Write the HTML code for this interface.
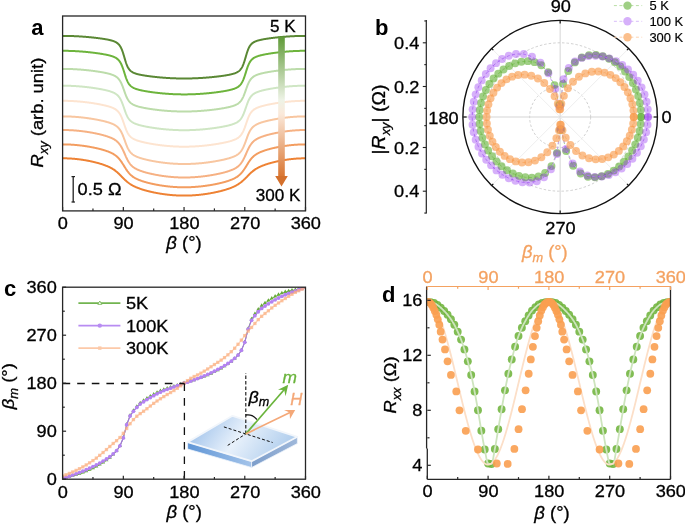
<!DOCTYPE html>
<html><head><meta charset="utf-8"><style>
html,body{margin:0;padding:0;background:#fff;overflow:hidden;}
svg{display:block;font-family:"Liberation Sans",sans-serif;will-change:transform;}
</style></head><body>
<svg width="685" height="524" viewBox="0 0 685 524">
<rect width="685" height="524" fill="#fff"/>
<g id="pa">
<defs><linearGradient id="garr" x1="0" y1="0" x2="0" y2="1"><stop offset="0" stop-color="#5f9a37"/><stop offset="0.45" stop-color="#eef3e6"/><stop offset="0.55" stop-color="#fbe9da"/><stop offset="1" stop-color="#d9742f"/></linearGradient></defs>
<polyline fill="none" stroke="#5a8834" stroke-width="2.0" stroke-linejoin="round"  points="62.6,35.9 62.94,35.9 63.27,35.9 63.61,35.9 63.95,35.9 64.29,35.91 64.62,35.91 64.96,35.91 65.3,35.91 65.64,35.92 65.97,35.92 66.31,35.92 66.65,35.93 66.99,35.93 67.32,35.94 67.66,35.95 68,35.95 68.34,35.96 68.67,35.97 69.01,35.97 69.35,35.98 69.68,35.99 70.02,36 70.36,36.01 70.7,36.02 71.03,36.03 71.37,36.04 71.71,36.05 72.05,36.06 72.38,36.07 72.72,36.08 73.06,36.1 73.4,36.11 73.73,36.12 74.07,36.14 74.41,36.15 74.75,36.16 75.08,36.18 75.42,36.2 75.76,36.21 76.09,36.23 76.43,36.24 76.77,36.26 77.11,36.28 77.44,36.29 77.78,36.31 78.12,36.33 78.46,36.35 78.79,36.37 79.13,36.39 79.47,36.41 79.81,36.43 80.14,36.45 80.48,36.47 80.82,36.49 81.15,36.51 81.49,36.54 81.83,36.56 82.17,36.58 82.5,36.61 82.84,36.63 83.18,36.65 83.52,36.68 83.85,36.7 84.19,36.73 84.53,36.76 84.87,36.78 85.2,36.81 85.54,36.84 85.88,36.86 86.22,36.89 86.55,36.92 86.89,36.95 87.23,36.98 87.56,37.01 87.9,37.04 88.24,37.07 88.58,37.1 88.91,37.13 89.25,37.16 89.59,37.19 89.93,37.22 90.26,37.25 90.6,37.29 90.94,37.32 91.28,37.35 91.61,37.39 91.95,37.42 92.29,37.46 92.63,37.49 92.96,37.53 93.3,37.56 93.64,37.6 93.97,37.64 94.31,37.68 94.65,37.71 94.99,37.75 95.32,37.79 95.66,37.83 96,37.87 96.34,37.91 96.67,37.95 97.01,37.99 97.35,38.03 97.69,38.07 98.02,38.12 98.36,38.16 98.7,38.2 99.03,38.25 99.37,38.29 99.71,38.34 100.05,38.38 100.38,38.43 100.72,38.47 101.06,38.52 101.4,38.57 101.73,38.62 102.07,38.67 102.41,38.72 102.75,38.77 103.08,38.82 103.42,38.87 103.76,38.92 104.1,38.98 104.43,39.03 104.77,39.09 105.11,39.15 105.44,39.2 105.78,39.26 106.12,39.32 106.46,39.38 106.79,39.44 107.13,39.51 107.47,39.57 107.81,39.64 108.14,39.71 108.48,39.78 108.82,39.85 109.16,39.92 109.49,40 109.83,40.08 110.17,40.16 110.51,40.24 110.84,40.33 111.18,40.42 111.52,40.51 111.85,40.61 112.19,40.71 112.53,40.81 112.87,40.92 113.2,41.03 113.54,41.15 113.88,41.28 114.22,41.41 114.55,41.55 114.89,41.7 115.23,41.86 115.57,42.03 115.9,42.21 116.24,42.4 116.58,42.61 116.92,42.83 117.25,43.07 117.59,43.33 117.93,43.61 118.26,43.92 118.6,44.26 118.94,44.62 119.28,45.02 119.61,45.46 119.95,45.94 120.29,46.47 120.63,47.05 120.96,47.69 121.3,48.38 121.64,49.13 121.98,49.95 122.31,50.84 122.65,51.78 122.99,52.78 123.33,53.84 123.66,54.93 124,56.06 124.34,57.2 124.67,58.38 125.01,59.54 125.35,60.67 125.69,61.75 126.02,62.78 126.36,63.75 126.7,64.65 127.04,65.48 127.37,66.24 127.71,66.94 128.05,67.57 128.39,68.15 128.72,68.67 129.06,69.15 129.4,69.58 129.73,69.98 130.07,70.34 130.41,70.67 130.75,70.97 131.08,71.25 131.42,71.5 131.76,71.74 132.1,71.95 132.43,72.16 132.77,72.34 133.11,72.52 133.45,72.69 133.78,72.84 134.12,72.99 134.46,73.12 134.8,73.25 135.13,73.38 135.47,73.49 135.81,73.61 136.14,73.71 136.48,73.82 136.82,73.91 137.16,74.01 137.49,74.1 137.83,74.19 138.17,74.27 138.51,74.36 138.84,74.44 139.18,74.51 139.52,74.59 139.86,74.66 140.19,74.73 140.53,74.8 140.87,74.87 141.21,74.94 141.54,75 141.88,75.06 142.22,75.13 142.55,75.19 142.89,75.25 143.23,75.31 143.57,75.36 143.9,75.42 144.24,75.48 144.58,75.53 144.92,75.58 145.25,75.64 145.59,75.69 145.93,75.74 146.27,75.79 146.6,75.84 146.94,75.89 147.28,75.94 147.62,75.99 147.95,76.04 148.29,76.08 148.63,76.13 148.96,76.17 149.3,76.22 149.64,76.26 149.98,76.31 150.31,76.35 150.65,76.4 150.99,76.44 151.33,76.48 151.66,76.52 152,76.56 152.34,76.6 152.68,76.64 153.01,76.68 153.35,76.72 153.69,76.76 154.02,76.8 154.36,76.84 154.7,76.87 155.04,76.91 155.37,76.95 155.71,76.98 156.05,77.02 156.39,77.05 156.72,77.09 157.06,77.12 157.4,77.16 157.74,77.19 158.07,77.22 158.41,77.25 158.75,77.29 159.09,77.32 159.42,77.35 159.76,77.38 160.1,77.41 160.43,77.44 160.77,77.47 161.11,77.5 161.45,77.53 161.78,77.56 162.12,77.59 162.46,77.61 162.8,77.64 163.13,77.67 163.47,77.69 163.81,77.72 164.15,77.75 164.48,77.77 164.82,77.79 165.16,77.82 165.5,77.84 165.83,77.87 166.17,77.89 166.51,77.91 166.84,77.93 167.18,77.96 167.52,77.98 167.86,78 168.19,78.02 168.53,78.04 168.87,78.06 169.21,78.08 169.54,78.1 169.88,78.12 170.22,78.13 170.56,78.15 170.89,78.17 171.23,78.18 171.57,78.2 171.91,78.22 172.24,78.23 172.58,78.25 172.92,78.26 173.25,78.28 173.59,78.29 173.93,78.3 174.27,78.32 174.6,78.33 174.94,78.34 175.28,78.35 175.62,78.36 175.95,78.37 176.29,78.38 176.63,78.39 176.97,78.4 177.3,78.41 177.64,78.42 177.98,78.43 178.31,78.44 178.65,78.44 178.99,78.45 179.33,78.46 179.66,78.46 180,78.47 180.34,78.47 180.68,78.48 181.01,78.48 181.35,78.49 181.69,78.49 182.03,78.49 182.36,78.49 182.7,78.5 183.04,78.5 183.38,78.5 183.71,78.5 184.05,78.5 184.39,78.5 184.72,78.5 185.06,78.5 185.4,78.5 185.74,78.49 186.07,78.49 186.41,78.49 186.75,78.49 187.09,78.48 187.42,78.48 187.76,78.48 188.1,78.47 188.44,78.47 188.77,78.46 189.11,78.45 189.45,78.45 189.79,78.44 190.12,78.43 190.46,78.43 190.8,78.42 191.13,78.41 191.47,78.4 191.81,78.39 192.15,78.38 192.48,78.37 192.82,78.36 193.16,78.35 193.5,78.34 193.83,78.33 194.17,78.31 194.51,78.3 194.85,78.29 195.18,78.28 195.52,78.26 195.86,78.25 196.19,78.23 196.53,78.22 196.87,78.2 197.21,78.19 197.54,78.17 197.88,78.16 198.22,78.14 198.56,78.12 198.89,78.1 199.23,78.09 199.57,78.07 199.91,78.05 200.24,78.03 200.58,78.01 200.92,77.99 201.26,77.97 201.59,77.95 201.93,77.93 202.27,77.9 202.6,77.88 202.94,77.86 203.28,77.84 203.62,77.81 203.95,77.79 204.29,77.77 204.63,77.74 204.97,77.72 205.3,77.69 205.64,77.67 205.98,77.64 206.32,77.61 206.65,77.59 206.99,77.56 207.33,77.53 207.67,77.5 208,77.48 208.34,77.45 208.68,77.42 209.01,77.39 209.35,77.36 209.69,77.33 210.03,77.3 210.36,77.27 210.7,77.24 211.04,77.2 211.38,77.17 211.71,77.14 212.05,77.11 212.39,77.07 212.73,77.04 213.06,77.01 213.4,76.97 213.74,76.94 214.08,76.9 214.41,76.86 214.75,76.83 215.09,76.79 215.42,76.75 215.76,76.72 216.1,76.68 216.44,76.64 216.77,76.6 217.11,76.56 217.45,76.52 217.79,76.48 218.12,76.44 218.46,76.4 218.8,76.36 219.14,76.32 219.47,76.27 219.81,76.23 220.15,76.19 220.48,76.14 220.82,76.1 221.16,76.05 221.5,76.01 221.83,75.96 222.17,75.91 222.51,75.87 222.85,75.82 223.18,75.77 223.52,75.72 223.86,75.67 224.2,75.62 224.53,75.57 224.87,75.51 225.21,75.46 225.55,75.41 225.88,75.35 226.22,75.3 226.56,75.24 226.89,75.18 227.23,75.12 227.57,75.06 227.91,75 228.24,74.94 228.58,74.87 228.92,74.81 229.26,74.74 229.59,74.67 229.93,74.6 230.27,74.53 230.61,74.45 230.94,74.38 231.28,74.3 231.62,74.22 231.96,74.13 232.29,74.04 232.63,73.95 232.97,73.86 233.3,73.76 233.64,73.66 233.98,73.56 234.32,73.44 234.65,73.33 234.99,73.21 235.33,73.08 235.67,72.94 236,72.8 236.34,72.65 236.68,72.48 237.02,72.31 237.35,72.13 237.69,71.93 238.03,71.72 238.37,71.49 238.7,71.24 239.04,70.97 239.38,70.68 239.71,70.36 240.05,70.01 240.39,69.63 240.73,69.22 241.06,68.76 241.4,68.27 241.74,67.72 242.08,67.12 242.41,66.46 242.75,65.74 243.09,64.96 243.43,64.11 243.76,63.21 244.1,62.23 244.44,61.21 244.78,60.13 245.11,59.02 245.45,57.89 245.79,56.73 246.12,55.56 246.46,54.41 246.8,53.3 247.14,52.24 247.47,51.23 247.81,50.3 248.15,49.43 248.49,48.62 248.82,47.89 249.16,47.22 249.5,46.61 249.84,46.05 250.17,45.54 250.51,45.08 250.85,44.67 251.18,44.29 251.52,43.94 251.86,43.62 252.2,43.33 252.53,43.06 252.87,42.81 253.21,42.59 253.55,42.37 253.88,42.18 254.22,41.99 254.56,41.82 254.9,41.66 255.23,41.51 255.57,41.37 255.91,41.23 256.25,41.11 256.58,40.98 256.92,40.87 257.26,40.76 257.59,40.65 257.93,40.55 258.27,40.46 258.61,40.36 258.94,40.27 259.28,40.19 259.62,40.1 259.96,40.02 260.29,39.94 260.63,39.86 260.97,39.79 261.31,39.72 261.64,39.65 261.98,39.58 262.32,39.51 262.66,39.45 262.99,39.38 263.33,39.32 263.67,39.26 264,39.2 264.34,39.14 264.68,39.08 265.02,39.02 265.35,38.96 265.69,38.91 266.03,38.86 266.37,38.8 266.7,38.75 267.04,38.7 267.38,38.65 267.72,38.59 268.05,38.55 268.39,38.5 268.73,38.45 269.07,38.4 269.4,38.35 269.74,38.31 270.08,38.26 270.41,38.21 270.75,38.17 271.09,38.13 271.43,38.08 271.76,38.04 272.1,38 272.44,37.95 272.78,37.91 273.11,37.87 273.45,37.83 273.79,37.79 274.13,37.75 274.46,37.71 274.8,37.67 275.14,37.63 275.47,37.59 275.81,37.56 276.15,37.52 276.49,37.48 276.82,37.45 277.16,37.41 277.5,37.38 277.84,37.34 278.17,37.31 278.51,37.27 278.85,37.24 279.19,37.2 279.52,37.17 279.86,37.14 280.2,37.11 280.54,37.08 280.87,37.04 281.21,37.01 281.55,36.98 281.88,36.95 282.22,36.92 282.56,36.9 282.9,36.87 283.23,36.84 283.57,36.81 283.91,36.78 284.25,36.76 284.58,36.73 284.92,36.7 285.26,36.68 285.6,36.65 285.93,36.63 286.27,36.6 286.61,36.58 286.95,36.55 287.28,36.53 287.62,36.51 287.96,36.49 288.29,36.46 288.63,36.44 288.97,36.42 289.31,36.4 289.64,36.38 289.98,36.36 290.32,36.34 290.66,36.32 290.99,36.3 291.33,36.28 291.67,36.27 292.01,36.25 292.34,36.23 292.68,36.21 293.02,36.2 293.36,36.18 293.69,36.17 294.03,36.15 294.37,36.14 294.7,36.12 295.04,36.11 295.38,36.1 295.72,36.08 296.05,36.07 296.39,36.06 296.73,36.05 297.07,36.04 297.4,36.03 297.74,36.02 298.08,36.01 298.42,36 298.75,35.99 299.09,35.98 299.43,35.97 299.76,35.96 300.1,35.96 300.44,35.95 300.78,35.94 301.11,35.94 301.45,35.93 301.79,35.93 302.13,35.92 302.46,35.92 302.8,35.91 303.14,35.91 303.48,35.91 303.81,35.91 304.15,35.9 304.49,35.9 304.83,35.9 305.16,35.9 305.5,35.9"/>
<polyline fill="none" stroke="#6db43c" stroke-width="2.0" stroke-linejoin="round"  points="62.6,50.8 62.94,50.8 63.27,50.8 63.61,50.8 63.95,50.8 64.29,50.81 64.62,50.81 64.96,50.81 65.3,50.82 65.64,50.82 65.97,50.82 66.31,50.83 66.65,50.83 66.99,50.84 67.32,50.85 67.66,50.85 68,50.86 68.34,50.87 68.67,50.88 69.01,50.88 69.35,50.89 69.68,50.9 70.02,50.91 70.36,50.92 70.7,50.94 71.03,50.95 71.37,50.96 71.71,50.97 72.05,50.98 72.38,51 72.72,51.01 73.06,51.03 73.4,51.04 73.73,51.06 74.07,51.07 74.41,51.09 74.75,51.1 75.08,51.12 75.42,51.14 75.76,51.16 76.09,51.17 76.43,51.19 76.77,51.21 77.11,51.23 77.44,51.25 77.78,51.27 78.12,51.29 78.46,51.32 78.79,51.34 79.13,51.36 79.47,51.38 79.81,51.41 80.14,51.43 80.48,51.45 80.82,51.48 81.15,51.5 81.49,51.53 81.83,51.56 82.17,51.58 82.5,51.61 82.84,51.64 83.18,51.66 83.52,51.69 83.85,51.72 84.19,51.75 84.53,51.78 84.87,51.81 85.2,51.84 85.54,51.87 85.88,51.9 86.22,51.93 86.55,51.97 86.89,52 87.23,52.03 87.56,52.07 87.9,52.1 88.24,52.13 88.58,52.17 88.91,52.2 89.25,52.24 89.59,52.28 89.93,52.31 90.26,52.35 90.6,52.39 90.94,52.43 91.28,52.46 91.61,52.5 91.95,52.54 92.29,52.58 92.63,52.62 92.96,52.66 93.3,52.7 93.64,52.75 93.97,52.79 94.31,52.83 94.65,52.87 94.99,52.92 95.32,52.96 95.66,53.01 96,53.05 96.34,53.1 96.67,53.14 97.01,53.19 97.35,53.24 97.69,53.29 98.02,53.33 98.36,53.38 98.7,53.43 99.03,53.48 99.37,53.53 99.71,53.58 100.05,53.64 100.38,53.69 100.72,53.74 101.06,53.8 101.4,53.85 101.73,53.91 102.07,53.96 102.41,54.02 102.75,54.08 103.08,54.13 103.42,54.19 103.76,54.25 104.1,54.32 104.43,54.38 104.77,54.44 105.11,54.51 105.44,54.57 105.78,54.64 106.12,54.71 106.46,54.77 106.79,54.84 107.13,54.92 107.47,54.99 107.81,55.07 108.14,55.14 108.48,55.22 108.82,55.3 109.16,55.39 109.49,55.47 109.83,55.56 110.17,55.65 110.51,55.74 110.84,55.84 111.18,55.94 111.52,56.04 111.85,56.15 112.19,56.26 112.53,56.38 112.87,56.5 113.2,56.62 113.54,56.76 113.88,56.9 114.22,57.04 114.55,57.2 114.89,57.36 115.23,57.53 115.57,57.72 115.9,57.91 116.24,58.12 116.58,58.34 116.92,58.58 117.25,58.84 117.59,59.12 117.93,59.41 118.26,59.74 118.6,60.09 118.94,60.47 119.28,60.88 119.61,61.33 119.95,61.82 120.29,62.36 120.63,62.94 120.96,63.57 121.3,64.25 121.64,64.99 121.98,65.78 122.31,66.63 122.65,67.53 122.99,68.47 123.33,69.47 123.66,70.49 124,71.54 124.34,72.6 124.67,73.7 125.01,74.78 125.35,75.84 125.69,76.86 126.02,77.83 126.36,78.75 126.7,79.61 127.04,80.42 127.37,81.17 127.71,81.85 128.05,82.49 128.39,83.07 128.72,83.6 129.06,84.09 129.4,84.53 129.73,84.94 130.07,85.32 130.41,85.66 130.75,85.98 131.08,86.27 131.42,86.55 131.76,86.8 132.1,87.03 132.43,87.25 132.77,87.46 133.11,87.65 133.45,87.83 133.78,88 134.12,88.16 134.46,88.31 134.8,88.45 135.13,88.59 135.47,88.72 135.81,88.84 136.14,88.96 136.48,89.08 136.82,89.18 137.16,89.29 137.49,89.39 137.83,89.49 138.17,89.59 138.51,89.68 138.84,89.77 139.18,89.86 139.52,89.94 139.86,90.02 140.19,90.1 140.53,90.18 140.87,90.26 141.21,90.33 141.54,90.41 141.88,90.48 142.22,90.55 142.55,90.62 142.89,90.69 143.23,90.75 143.57,90.82 143.9,90.88 144.24,90.95 144.58,91.01 144.92,91.07 145.25,91.13 145.59,91.19 145.93,91.25 146.27,91.31 146.6,91.36 146.94,91.42 147.28,91.47 147.62,91.53 147.95,91.58 148.29,91.64 148.63,91.69 148.96,91.74 149.3,91.79 149.64,91.84 149.98,91.89 150.31,91.94 150.65,91.99 150.99,92.04 151.33,92.09 151.66,92.14 152,92.18 152.34,92.23 152.68,92.28 153.01,92.32 153.35,92.37 153.69,92.41 154.02,92.45 154.36,92.5 154.7,92.54 155.04,92.58 155.37,92.62 155.71,92.66 156.05,92.7 156.39,92.74 156.72,92.78 157.06,92.82 157.4,92.86 157.74,92.9 158.07,92.94 158.41,92.98 158.75,93.01 159.09,93.05 159.42,93.08 159.76,93.12 160.1,93.15 160.43,93.19 160.77,93.22 161.11,93.26 161.45,93.29 161.78,93.32 162.12,93.35 162.46,93.39 162.8,93.42 163.13,93.45 163.47,93.48 163.81,93.51 164.15,93.54 164.48,93.56 164.82,93.59 165.16,93.62 165.5,93.65 165.83,93.67 166.17,93.7 166.51,93.73 166.84,93.75 167.18,93.78 167.52,93.8 167.86,93.83 168.19,93.85 168.53,93.87 168.87,93.89 169.21,93.92 169.54,93.94 169.88,93.96 170.22,93.98 170.56,94 170.89,94.02 171.23,94.04 171.57,94.06 171.91,94.08 172.24,94.09 172.58,94.11 172.92,94.13 173.25,94.14 173.59,94.16 173.93,94.17 174.27,94.19 174.6,94.2 174.94,94.22 175.28,94.23 175.62,94.24 175.95,94.26 176.29,94.27 176.63,94.28 176.97,94.29 177.3,94.3 177.64,94.31 177.98,94.32 178.31,94.33 178.65,94.34 178.99,94.34 179.33,94.35 179.66,94.36 180,94.36 180.34,94.37 180.68,94.37 181.01,94.38 181.35,94.38 181.69,94.39 182.03,94.39 182.36,94.39 182.7,94.4 183.04,94.4 183.38,94.4 183.71,94.4 184.05,94.4 184.39,94.4 184.72,94.4 185.06,94.4 185.4,94.4 185.74,94.39 186.07,94.39 186.41,94.39 186.75,94.38 187.09,94.38 187.42,94.38 187.76,94.37 188.1,94.37 188.44,94.36 188.77,94.35 189.11,94.35 189.45,94.34 189.79,94.33 190.12,94.32 190.46,94.32 190.8,94.31 191.13,94.3 191.47,94.29 191.81,94.28 192.15,94.26 192.48,94.25 192.82,94.24 193.16,94.23 193.5,94.22 193.83,94.2 194.17,94.19 194.51,94.17 194.85,94.16 195.18,94.14 195.52,94.13 195.86,94.11 196.19,94.1 196.53,94.08 196.87,94.06 197.21,94.04 197.54,94.03 197.88,94.01 198.22,93.99 198.56,93.97 198.89,93.95 199.23,93.93 199.57,93.91 199.91,93.88 200.24,93.86 200.58,93.84 200.92,93.82 201.26,93.79 201.59,93.77 201.93,93.75 202.27,93.72 202.6,93.7 202.94,93.67 203.28,93.64 203.62,93.62 203.95,93.59 204.29,93.56 204.63,93.54 204.97,93.51 205.3,93.48 205.64,93.45 205.98,93.42 206.32,93.39 206.65,93.36 206.99,93.33 207.33,93.3 207.67,93.27 208,93.23 208.34,93.2 208.68,93.17 209.01,93.13 209.35,93.1 209.69,93.07 210.03,93.03 210.36,93 210.7,92.96 211.04,92.92 211.38,92.89 211.71,92.85 212.05,92.81 212.39,92.77 212.73,92.74 213.06,92.7 213.4,92.66 213.74,92.62 214.08,92.58 214.41,92.54 214.75,92.5 215.09,92.45 215.42,92.41 215.76,92.37 216.1,92.33 216.44,92.28 216.77,92.24 217.11,92.19 217.45,92.15 217.79,92.1 218.12,92.06 218.46,92.01 218.8,91.96 219.14,91.91 219.47,91.87 219.81,91.82 220.15,91.77 220.48,91.72 220.82,91.67 221.16,91.62 221.5,91.56 221.83,91.51 222.17,91.46 222.51,91.4 222.85,91.35 223.18,91.29 223.52,91.24 223.86,91.18 224.2,91.12 224.53,91.07 224.87,91.01 225.21,90.95 225.55,90.88 225.88,90.82 226.22,90.76 226.56,90.69 226.89,90.63 227.23,90.56 227.57,90.49 227.91,90.43 228.24,90.36 228.58,90.28 228.92,90.21 229.26,90.13 229.59,90.06 229.93,89.98 230.27,89.9 230.61,89.81 230.94,89.73 231.28,89.64 231.62,89.55 231.96,89.46 232.29,89.36 232.63,89.26 232.97,89.16 233.3,89.05 233.64,88.94 233.98,88.82 234.32,88.7 234.65,88.58 234.99,88.44 235.33,88.3 235.67,88.16 236,88 236.34,87.84 236.68,87.67 237.02,87.48 237.35,87.29 237.69,87.08 238.03,86.86 238.37,86.62 238.7,86.36 239.04,86.08 239.38,85.79 239.71,85.46 240.05,85.11 240.39,84.73 240.73,84.32 241.06,83.87 241.4,83.38 241.74,82.84 242.08,82.26 242.41,81.63 242.75,80.95 243.09,80.21 243.43,79.42 243.76,78.57 244.1,77.67 244.44,76.73 244.78,75.73 245.11,74.71 245.45,73.66 245.79,72.6 246.12,71.5 246.46,70.42 246.8,69.36 247.14,68.34 247.47,67.37 247.81,66.45 248.15,65.59 248.49,64.78 248.82,64.03 249.16,63.35 249.5,62.71 249.84,62.13 250.17,61.6 250.51,61.11 250.85,60.67 251.18,60.26 251.52,59.88 251.86,59.54 252.2,59.22 252.53,58.93 252.87,58.65 253.21,58.4 253.55,58.17 253.88,57.95 254.22,57.74 254.56,57.55 254.9,57.37 255.23,57.2 255.57,57.04 255.91,56.89 256.25,56.75 256.58,56.61 256.92,56.48 257.26,56.36 257.59,56.24 257.93,56.12 258.27,56.02 258.61,55.91 258.94,55.81 259.28,55.71 259.62,55.61 259.96,55.52 260.29,55.43 260.63,55.34 260.97,55.26 261.31,55.18 261.64,55.1 261.98,55.02 262.32,54.94 262.66,54.87 262.99,54.79 263.33,54.72 263.67,54.65 264,54.58 264.34,54.51 264.68,54.45 265.02,54.38 265.35,54.32 265.69,54.25 266.03,54.19 266.37,54.13 266.7,54.07 267.04,54.01 267.38,53.95 267.72,53.89 268.05,53.84 268.39,53.78 268.73,53.73 269.07,53.67 269.4,53.62 269.74,53.56 270.08,53.51 270.41,53.46 270.75,53.41 271.09,53.36 271.43,53.31 271.76,53.26 272.1,53.21 272.44,53.16 272.78,53.11 273.11,53.06 273.45,53.02 273.79,52.97 274.13,52.92 274.46,52.88 274.8,52.83 275.14,52.79 275.47,52.75 275.81,52.7 276.15,52.66 276.49,52.62 276.82,52.58 277.16,52.54 277.5,52.5 277.84,52.46 278.17,52.42 278.51,52.38 278.85,52.34 279.19,52.3 279.52,52.26 279.86,52.22 280.2,52.19 280.54,52.15 280.87,52.12 281.21,52.08 281.55,52.05 281.88,52.01 282.22,51.98 282.56,51.94 282.9,51.91 283.23,51.88 283.57,51.85 283.91,51.81 284.25,51.78 284.58,51.75 284.92,51.72 285.26,51.69 285.6,51.66 285.93,51.64 286.27,51.61 286.61,51.58 286.95,51.55 287.28,51.53 287.62,51.5 287.96,51.47 288.29,51.45 288.63,51.42 288.97,51.4 289.31,51.37 289.64,51.35 289.98,51.33 290.32,51.31 290.66,51.28 290.99,51.26 291.33,51.24 291.67,51.22 292.01,51.2 292.34,51.18 292.68,51.16 293.02,51.14 293.36,51.12 293.69,51.11 294.03,51.09 294.37,51.07 294.7,51.06 295.04,51.04 295.38,51.03 295.72,51.01 296.05,51 296.39,50.98 296.73,50.97 297.07,50.96 297.4,50.94 297.74,50.93 298.08,50.92 298.42,50.91 298.75,50.9 299.09,50.89 299.43,50.88 299.76,50.87 300.1,50.86 300.44,50.86 300.78,50.85 301.11,50.84 301.45,50.84 301.79,50.83 302.13,50.83 302.46,50.82 302.8,50.82 303.14,50.81 303.48,50.81 303.81,50.81 304.15,50.8 304.49,50.8 304.83,50.8 305.16,50.8 305.5,50.8"/>
<polyline fill="none" stroke="#bcdcaa" stroke-width="2.0" stroke-linejoin="round"  points="62.6,68.9 62.94,68.9 63.27,68.9 63.61,68.9 63.95,68.9 64.29,68.91 64.62,68.91 64.96,68.91 65.3,68.92 65.64,68.92 65.97,68.92 66.31,68.93 66.65,68.94 66.99,68.94 67.32,68.95 67.66,68.96 68,68.96 68.34,68.97 68.67,68.98 69.01,68.99 69.35,69 69.68,69.01 70.02,69.02 70.36,69.03 70.7,69.04 71.03,69.06 71.37,69.07 71.71,69.08 72.05,69.09 72.38,69.11 72.72,69.12 73.06,69.14 73.4,69.15 73.73,69.17 74.07,69.19 74.41,69.2 74.75,69.22 75.08,69.24 75.42,69.26 75.76,69.28 76.09,69.3 76.43,69.32 76.77,69.34 77.11,69.36 77.44,69.38 77.78,69.4 78.12,69.42 78.46,69.45 78.79,69.47 79.13,69.49 79.47,69.52 79.81,69.54 80.14,69.57 80.48,69.59 80.82,69.62 81.15,69.65 81.49,69.67 81.83,69.7 82.17,69.73 82.5,69.76 82.84,69.79 83.18,69.82 83.52,69.85 83.85,69.88 84.19,69.91 84.53,69.94 84.87,69.97 85.2,70 85.54,70.04 85.88,70.07 86.22,70.1 86.55,70.14 86.89,70.17 87.23,70.21 87.56,70.24 87.9,70.28 88.24,70.32 88.58,70.35 88.91,70.39 89.25,70.43 89.59,70.47 89.93,70.51 90.26,70.54 90.6,70.58 90.94,70.63 91.28,70.67 91.61,70.71 91.95,70.75 92.29,70.79 92.63,70.83 92.96,70.88 93.3,70.92 93.64,70.97 93.97,71.01 94.31,71.06 94.65,71.1 94.99,71.15 95.32,71.2 95.66,71.24 96,71.29 96.34,71.34 96.67,71.39 97.01,71.44 97.35,71.49 97.69,71.54 98.02,71.59 98.36,71.64 98.7,71.7 99.03,71.75 99.37,71.8 99.71,71.86 100.05,71.91 100.38,71.97 100.72,72.03 101.06,72.08 101.4,72.14 101.73,72.2 102.07,72.26 102.41,72.32 102.75,72.38 103.08,72.45 103.42,72.51 103.76,72.57 104.1,72.64 104.43,72.71 104.77,72.77 105.11,72.84 105.44,72.91 105.78,72.99 106.12,73.06 106.46,73.13 106.79,73.21 107.13,73.29 107.47,73.37 107.81,73.45 108.14,73.53 108.48,73.62 108.82,73.7 109.16,73.79 109.49,73.89 109.83,73.98 110.17,74.08 110.51,74.18 110.84,74.29 111.18,74.39 111.52,74.51 111.85,74.62 112.19,74.75 112.53,74.87 112.87,75 113.2,75.14 113.54,75.29 113.88,75.44 114.22,75.6 114.55,75.77 114.89,75.95 115.23,76.14 115.57,76.34 115.9,76.56 116.24,76.78 116.58,77.03 116.92,77.29 117.25,77.57 117.59,77.87 117.93,78.2 118.26,78.55 118.6,78.92 118.94,79.33 119.28,79.77 119.61,80.25 119.95,80.77 120.29,81.32 120.63,81.93 120.96,82.57 121.3,83.26 121.64,84 121.98,84.78 122.31,85.61 122.65,86.48 122.99,87.37 123.33,88.3 123.66,89.25 124,90.2 124.34,91.18 124.67,92.14 125.01,93.09 125.35,94 125.69,94.88 126.02,95.72 126.36,96.52 126.7,97.27 127.04,97.96 127.37,98.61 127.71,99.22 128.05,99.78 128.39,100.29 128.72,100.77 129.06,101.21 129.4,101.62 129.73,101.99 130.07,102.34 130.41,102.66 130.75,102.96 131.08,103.24 131.42,103.5 131.76,103.74 132.1,103.96 132.43,104.17 132.77,104.37 133.11,104.56 133.45,104.74 133.78,104.9 134.12,105.06 134.46,105.21 134.8,105.36 135.13,105.49 135.47,105.63 135.81,105.75 136.14,105.87 136.48,105.99 136.82,106.1 137.16,106.21 137.49,106.31 137.83,106.41 138.17,106.51 138.51,106.6 138.84,106.7 139.18,106.79 139.52,106.87 139.86,106.96 140.19,107.04 140.53,107.12 140.87,107.2 141.21,107.28 141.54,107.35 141.88,107.43 142.22,107.5 142.55,107.57 142.89,107.64 143.23,107.71 143.57,107.78 143.9,107.85 144.24,107.91 144.58,107.98 144.92,108.04 145.25,108.1 145.59,108.17 145.93,108.23 146.27,108.29 146.6,108.35 146.94,108.4 147.28,108.46 147.62,108.52 147.95,108.57 148.29,108.63 148.63,108.69 148.96,108.74 149.3,108.79 149.64,108.85 149.98,108.9 150.31,108.95 150.65,109 150.99,109.05 151.33,109.1 151.66,109.15 152,109.2 152.34,109.25 152.68,109.29 153.01,109.34 153.35,109.39 153.69,109.43 154.02,109.48 154.36,109.52 154.7,109.57 155.04,109.61 155.37,109.65 155.71,109.7 156.05,109.74 156.39,109.78 156.72,109.82 157.06,109.86 157.4,109.9 157.74,109.94 158.07,109.98 158.41,110.02 158.75,110.06 159.09,110.1 159.42,110.13 159.76,110.17 160.1,110.21 160.43,110.24 160.77,110.28 161.11,110.31 161.45,110.35 161.78,110.38 162.12,110.41 162.46,110.45 162.8,110.48 163.13,110.51 163.47,110.54 163.81,110.57 164.15,110.6 164.48,110.63 164.82,110.66 165.16,110.69 165.5,110.72 165.83,110.75 166.17,110.78 166.51,110.8 166.84,110.83 167.18,110.85 167.52,110.88 167.86,110.9 168.19,110.93 168.53,110.95 168.87,110.98 169.21,111 169.54,111.02 169.88,111.04 170.22,111.06 170.56,111.09 170.89,111.11 171.23,111.13 171.57,111.14 171.91,111.16 172.24,111.18 172.58,111.2 172.92,111.22 173.25,111.23 173.59,111.25 173.93,111.27 174.27,111.28 174.6,111.3 174.94,111.31 175.28,111.32 175.62,111.34 175.95,111.35 176.29,111.36 176.63,111.37 176.97,111.39 177.3,111.4 177.64,111.41 177.98,111.42 178.31,111.42 178.65,111.43 178.99,111.44 179.33,111.45 179.66,111.46 180,111.46 180.34,111.47 180.68,111.47 181.01,111.48 181.35,111.48 181.69,111.49 182.03,111.49 182.36,111.49 182.7,111.5 183.04,111.5 183.38,111.5 183.71,111.5 184.05,111.5 184.39,111.5 184.72,111.5 185.06,111.5 185.4,111.5 185.74,111.49 186.07,111.49 186.41,111.49 186.75,111.48 187.09,111.48 187.42,111.48 187.76,111.47 188.1,111.46 188.44,111.46 188.77,111.45 189.11,111.44 189.45,111.44 189.79,111.43 190.12,111.42 190.46,111.41 190.8,111.4 191.13,111.39 191.47,111.38 191.81,111.37 192.15,111.36 192.48,111.35 192.82,111.33 193.16,111.32 193.5,111.31 193.83,111.29 194.17,111.28 194.51,111.26 194.85,111.25 195.18,111.23 195.52,111.22 195.86,111.2 196.19,111.18 196.53,111.16 196.87,111.15 197.21,111.13 197.54,111.11 197.88,111.09 198.22,111.07 198.56,111.05 198.89,111.03 199.23,111 199.57,110.98 199.91,110.96 200.24,110.94 200.58,110.91 200.92,110.89 201.26,110.86 201.59,110.84 201.93,110.81 202.27,110.79 202.6,110.76 202.94,110.73 203.28,110.71 203.62,110.68 203.95,110.65 204.29,110.62 204.63,110.59 204.97,110.56 205.3,110.53 205.64,110.5 205.98,110.47 206.32,110.44 206.65,110.41 206.99,110.38 207.33,110.34 207.67,110.31 208,110.28 208.34,110.24 208.68,110.21 209.01,110.17 209.35,110.14 209.69,110.1 210.03,110.06 210.36,110.03 210.7,109.99 211.04,109.95 211.38,109.91 211.71,109.87 212.05,109.83 212.39,109.79 212.73,109.75 213.06,109.71 213.4,109.67 213.74,109.63 214.08,109.59 214.41,109.54 214.75,109.5 215.09,109.46 215.42,109.41 215.76,109.37 216.1,109.32 216.44,109.28 216.77,109.23 217.11,109.18 217.45,109.14 217.79,109.09 218.12,109.04 218.46,108.99 218.8,108.94 219.14,108.89 219.47,108.84 219.81,108.79 220.15,108.74 220.48,108.68 220.82,108.63 221.16,108.57 221.5,108.52 221.83,108.46 222.17,108.41 222.51,108.35 222.85,108.29 223.18,108.24 223.52,108.18 223.86,108.12 224.2,108.06 224.53,107.99 224.87,107.93 225.21,107.87 225.55,107.8 225.88,107.74 226.22,107.67 226.56,107.6 226.89,107.53 227.23,107.46 227.57,107.39 227.91,107.32 228.24,107.25 228.58,107.17 228.92,107.09 229.26,107.01 229.59,106.93 229.93,106.85 230.27,106.76 230.61,106.67 230.94,106.58 231.28,106.49 231.62,106.4 231.96,106.3 232.29,106.2 232.63,106.09 232.97,105.98 233.3,105.87 233.64,105.75 233.98,105.63 234.32,105.5 234.65,105.37 234.99,105.23 235.33,105.09 235.67,104.93 236,104.77 236.34,104.6 236.68,104.42 237.02,104.23 237.35,104.03 237.69,103.82 238.03,103.59 238.37,103.34 238.7,103.08 239.04,102.8 239.38,102.5 239.71,102.17 240.05,101.82 240.39,101.44 240.73,101.03 241.06,100.59 241.4,100.11 241.74,99.6 242.08,99.04 242.41,98.44 242.75,97.8 243.09,97.11 243.43,96.37 243.76,95.59 244.1,94.77 244.44,93.9 244.78,93.01 245.11,92.09 245.45,91.15 245.79,90.2 246.12,89.22 246.46,88.25 246.8,87.3 247.14,86.38 247.47,85.49 247.81,84.65 248.15,83.85 248.49,83.1 248.82,82.4 249.16,81.75 249.5,81.15 249.84,80.59 250.17,80.07 250.51,79.59 250.85,79.16 251.18,78.75 251.52,78.37 251.86,78.03 252.2,77.71 252.53,77.41 252.87,77.13 253.21,76.87 253.55,76.63 253.88,76.41 254.22,76.2 254.56,76 254.9,75.81 255.23,75.64 255.57,75.47 255.91,75.31 256.25,75.16 256.58,75.02 256.92,74.88 257.26,74.75 257.59,74.63 257.93,74.5 258.27,74.39 258.61,74.28 258.94,74.17 259.28,74.07 259.62,73.97 259.96,73.87 260.29,73.77 260.63,73.68 260.97,73.59 261.31,73.51 261.64,73.42 261.98,73.34 262.32,73.26 262.66,73.18 262.99,73.1 263.33,73.02 263.67,72.95 264,72.88 264.34,72.81 264.68,72.74 265.02,72.67 265.35,72.6 265.69,72.53 266.03,72.47 266.37,72.4 266.7,72.34 267.04,72.27 267.38,72.21 267.72,72.15 268.05,72.09 268.39,72.03 268.73,71.97 269.07,71.92 269.4,71.86 269.74,71.8 270.08,71.75 270.41,71.69 270.75,71.64 271.09,71.58 271.43,71.53 271.76,71.48 272.1,71.43 272.44,71.38 272.78,71.33 273.11,71.28 273.45,71.23 273.79,71.18 274.13,71.13 274.46,71.08 274.8,71.04 275.14,70.99 275.47,70.94 275.81,70.9 276.15,70.85 276.49,70.81 276.82,70.77 277.16,70.72 277.5,70.68 277.84,70.64 278.17,70.6 278.51,70.56 278.85,70.51 279.19,70.47 279.52,70.43 279.86,70.4 280.2,70.36 280.54,70.32 280.87,70.28 281.21,70.24 281.55,70.21 281.88,70.17 282.22,70.14 282.56,70.1 282.9,70.07 283.23,70.03 283.57,70 283.91,69.96 284.25,69.93 284.58,69.9 284.92,69.87 285.26,69.84 285.6,69.81 285.93,69.78 286.27,69.75 286.61,69.72 286.95,69.69 287.28,69.66 287.62,69.63 287.96,69.61 288.29,69.58 288.63,69.55 288.97,69.53 289.31,69.5 289.64,69.48 289.98,69.45 290.32,69.43 290.66,69.41 290.99,69.38 291.33,69.36 291.67,69.34 292.01,69.32 292.34,69.3 292.68,69.28 293.02,69.26 293.36,69.24 293.69,69.22 294.03,69.2 294.37,69.19 294.7,69.17 295.04,69.15 295.38,69.14 295.72,69.12 296.05,69.11 296.39,69.09 296.73,69.08 297.07,69.06 297.4,69.05 297.74,69.04 298.08,69.03 298.42,69.02 298.75,69.01 299.09,69 299.43,68.99 299.76,68.98 300.1,68.97 300.44,68.96 300.78,68.95 301.11,68.94 301.45,68.94 301.79,68.93 302.13,68.93 302.46,68.92 302.8,68.92 303.14,68.91 303.48,68.91 303.81,68.91 304.15,68.9 304.49,68.9 304.83,68.9 305.16,68.9 305.5,68.9"/>
<polyline fill="none" stroke="#cfe6c4" stroke-width="2.0" stroke-linejoin="round"  points="62.6,85.7 62.94,85.7 63.27,85.7 63.61,85.7 63.95,85.7 64.29,85.71 64.62,85.71 64.96,85.71 65.3,85.72 65.64,85.72 65.97,85.73 66.31,85.73 66.65,85.74 66.99,85.75 67.32,85.75 67.66,85.76 68,85.77 68.34,85.78 68.67,85.79 69.01,85.8 69.35,85.81 69.68,85.82 70.02,85.83 70.36,85.85 70.7,85.86 71.03,85.87 71.37,85.89 71.71,85.9 72.05,85.92 72.38,85.93 72.72,85.95 73.06,85.96 73.4,85.98 73.73,86 74.07,86.02 74.41,86.04 74.75,86.06 75.08,86.08 75.42,86.1 75.76,86.12 76.09,86.14 76.43,86.16 76.77,86.18 77.11,86.21 77.44,86.23 77.78,86.26 78.12,86.28 78.46,86.31 78.79,86.33 79.13,86.36 79.47,86.39 79.81,86.41 80.14,86.44 80.48,86.47 80.82,86.5 81.15,86.53 81.49,86.56 81.83,86.59 82.17,86.62 82.5,86.65 82.84,86.68 83.18,86.72 83.52,86.75 83.85,86.78 84.19,86.82 84.53,86.85 84.87,86.89 85.2,86.92 85.54,86.96 85.88,87 86.22,87.03 86.55,87.07 86.89,87.11 87.23,87.15 87.56,87.19 87.9,87.23 88.24,87.27 88.58,87.31 88.91,87.35 89.25,87.39 89.59,87.44 89.93,87.48 90.26,87.52 90.6,87.57 90.94,87.61 91.28,87.66 91.61,87.7 91.95,87.75 92.29,87.79 92.63,87.84 92.96,87.89 93.3,87.94 93.64,87.99 93.97,88.04 94.31,88.09 94.65,88.14 94.99,88.19 95.32,88.24 95.66,88.29 96,88.34 96.34,88.4 96.67,88.45 97.01,88.51 97.35,88.56 97.69,88.62 98.02,88.67 98.36,88.73 98.7,88.79 99.03,88.85 99.37,88.91 99.71,88.97 100.05,89.03 100.38,89.09 100.72,89.15 101.06,89.21 101.4,89.28 101.73,89.34 102.07,89.41 102.41,89.47 102.75,89.54 103.08,89.61 103.42,89.68 103.76,89.75 104.1,89.82 104.43,89.89 104.77,89.97 105.11,90.04 105.44,90.12 105.78,90.2 106.12,90.28 106.46,90.36 106.79,90.44 107.13,90.52 107.47,90.61 107.81,90.69 108.14,90.78 108.48,90.88 108.82,90.97 109.16,91.07 109.49,91.16 109.83,91.27 110.17,91.37 110.51,91.48 110.84,91.59 111.18,91.71 111.52,91.83 111.85,91.95 112.19,92.08 112.53,92.21 112.87,92.35 113.2,92.5 113.54,92.65 113.88,92.81 114.22,92.98 114.55,93.16 114.89,93.34 115.23,93.54 115.57,93.75 115.9,93.97 116.24,94.21 116.58,94.46 116.92,94.73 117.25,95.02 117.59,95.34 117.93,95.67 118.26,96.03 118.6,96.42 118.94,96.84 119.28,97.29 119.61,97.78 119.95,98.31 120.29,98.88 120.63,99.5 120.96,100.16 121.3,100.87 121.64,101.62 121.98,102.42 122.31,103.27 122.65,104.15 122.99,105.07 123.33,106.01 123.66,106.98 124,107.95 124.34,108.95 124.67,109.93 125.01,110.9 125.35,111.83 125.69,112.73 126.02,113.59 126.36,114.4 126.7,115.16 127.04,115.88 127.37,116.54 127.71,117.16 128.05,117.73 128.39,118.26 128.72,118.75 129.06,119.21 129.4,119.62 129.73,120.01 130.07,120.37 130.41,120.7 130.75,121.01 131.08,121.3 131.42,121.56 131.76,121.81 132.1,122.05 132.43,122.27 132.77,122.48 133.11,122.67 133.45,122.86 133.78,123.03 134.12,123.2 134.46,123.36 134.8,123.51 135.13,123.65 135.47,123.79 135.81,123.92 136.14,124.05 136.48,124.17 136.82,124.29 137.16,124.41 137.49,124.52 137.83,124.63 138.17,124.73 138.51,124.83 138.84,124.93 139.18,125.03 139.52,125.12 139.86,125.21 140.19,125.3 140.53,125.39 140.87,125.47 141.21,125.56 141.54,125.64 141.88,125.72 142.22,125.8 142.55,125.88 142.89,125.95 143.23,126.03 143.57,126.1 143.9,126.17 144.24,126.24 144.58,126.32 144.92,126.38 145.25,126.45 145.59,126.52 145.93,126.59 146.27,126.65 146.6,126.72 146.94,126.78 147.28,126.84 147.62,126.91 147.95,126.97 148.29,127.03 148.63,127.09 148.96,127.15 149.3,127.21 149.64,127.27 149.98,127.32 150.31,127.38 150.65,127.44 150.99,127.49 151.33,127.55 151.66,127.6 152,127.65 152.34,127.71 152.68,127.76 153.01,127.81 153.35,127.86 153.69,127.91 154.02,127.96 154.36,128.01 154.7,128.06 155.04,128.11 155.37,128.16 155.71,128.2 156.05,128.25 156.39,128.3 156.72,128.34 157.06,128.39 157.4,128.43 157.74,128.48 158.07,128.52 158.41,128.56 158.75,128.6 159.09,128.65 159.42,128.69 159.76,128.73 160.1,128.77 160.43,128.81 160.77,128.85 161.11,128.88 161.45,128.92 161.78,128.96 162.12,129 162.46,129.03 162.8,129.07 163.13,129.1 163.47,129.14 163.81,129.17 164.15,129.21 164.48,129.24 164.82,129.27 165.16,129.3 165.5,129.33 165.83,129.37 166.17,129.4 166.51,129.43 166.84,129.46 167.18,129.48 167.52,129.51 167.86,129.54 168.19,129.57 168.53,129.59 168.87,129.62 169.21,129.64 169.54,129.67 169.88,129.69 170.22,129.72 170.56,129.74 170.89,129.76 171.23,129.78 171.57,129.81 171.91,129.83 172.24,129.85 172.58,129.87 172.92,129.89 173.25,129.91 173.59,129.92 173.93,129.94 174.27,129.96 174.6,129.97 174.94,129.99 175.28,130 175.62,130.02 175.95,130.03 176.29,130.05 176.63,130.06 176.97,130.07 177.3,130.08 177.64,130.1 177.98,130.11 178.31,130.12 178.65,130.13 178.99,130.13 179.33,130.14 179.66,130.15 180,130.16 180.34,130.17 180.68,130.17 181.01,130.18 181.35,130.18 181.69,130.19 182.03,130.19 182.36,130.19 182.7,130.2 183.04,130.2 183.38,130.2 183.71,130.2 184.05,130.2 184.39,130.2 184.72,130.2 185.06,130.2 185.4,130.2 185.74,130.19 186.07,130.19 186.41,130.19 186.75,130.18 187.09,130.18 187.42,130.17 187.76,130.17 188.1,130.16 188.44,130.15 188.77,130.15 189.11,130.14 189.45,130.13 189.79,130.12 190.12,130.11 190.46,130.1 190.8,130.09 191.13,130.08 191.47,130.07 191.81,130.06 192.15,130.04 192.48,130.03 192.82,130.02 193.16,130 193.5,129.99 193.83,129.97 194.17,129.95 194.51,129.94 194.85,129.92 195.18,129.9 195.52,129.89 195.86,129.87 196.19,129.85 196.53,129.83 196.87,129.81 197.21,129.79 197.54,129.76 197.88,129.74 198.22,129.72 198.56,129.7 198.89,129.67 199.23,129.65 199.57,129.63 199.91,129.6 200.24,129.57 200.58,129.55 200.92,129.52 201.26,129.49 201.59,129.47 201.93,129.44 202.27,129.41 202.6,129.38 202.94,129.35 203.28,129.32 203.62,129.29 203.95,129.26 204.29,129.23 204.63,129.19 204.97,129.16 205.3,129.13 205.64,129.09 205.98,129.06 206.32,129.03 206.65,128.99 206.99,128.95 207.33,128.92 207.67,128.88 208,128.84 208.34,128.81 208.68,128.77 209.01,128.73 209.35,128.69 209.69,128.65 210.03,128.61 210.36,128.57 210.7,128.53 211.04,128.48 211.38,128.44 211.71,128.4 212.05,128.35 212.39,128.31 212.73,128.27 213.06,128.22 213.4,128.17 213.74,128.13 214.08,128.08 214.41,128.03 214.75,127.99 215.09,127.94 215.42,127.89 215.76,127.84 216.1,127.79 216.44,127.74 216.77,127.69 217.11,127.64 217.45,127.58 217.79,127.53 218.12,127.48 218.46,127.42 218.8,127.37 219.14,127.31 219.47,127.26 219.81,127.2 220.15,127.14 220.48,127.09 220.82,127.03 221.16,126.97 221.5,126.91 221.83,126.85 222.17,126.79 222.51,126.72 222.85,126.66 223.18,126.6 223.52,126.53 223.86,126.47 224.2,126.4 224.53,126.33 224.87,126.27 225.21,126.2 225.55,126.13 225.88,126.06 226.22,125.98 226.56,125.91 226.89,125.83 227.23,125.76 227.57,125.68 227.91,125.6 228.24,125.52 228.58,125.44 228.92,125.36 229.26,125.27 229.59,125.18 229.93,125.09 230.27,125 230.61,124.91 230.94,124.81 231.28,124.71 231.62,124.61 231.96,124.5 232.29,124.4 232.63,124.28 232.97,124.17 233.3,124.05 233.64,123.93 233.98,123.8 234.32,123.66 234.65,123.52 234.99,123.38 235.33,123.22 235.67,123.06 236,122.89 236.34,122.72 236.68,122.53 237.02,122.33 237.35,122.12 237.69,121.9 238.03,121.66 238.37,121.41 238.7,121.13 239.04,120.84 239.38,120.53 239.71,120.2 240.05,119.83 240.39,119.44 240.73,119.02 241.06,118.57 241.4,118.08 241.74,117.55 242.08,116.98 242.41,116.37 242.75,115.71 243.09,115 243.43,114.25 243.76,113.45 244.1,112.61 244.44,111.73 244.78,110.82 245.11,109.88 245.45,108.92 245.79,107.95 246.12,106.95 246.46,105.96 246.8,104.99 247.14,104.05 247.47,103.14 247.81,102.28 248.15,101.47 248.49,100.7 248.82,99.99 249.16,99.32 249.5,98.7 249.84,98.13 250.17,97.6 250.51,97.11 250.85,96.66 251.18,96.24 251.52,95.85 251.86,95.5 252.2,95.17 252.53,94.86 252.87,94.57 253.21,94.3 253.55,94.05 253.88,93.82 254.22,93.6 254.56,93.39 254.9,93.2 255.23,93.01 255.57,92.84 255.91,92.67 256.25,92.52 256.58,92.37 256.92,92.22 257.26,92.08 257.59,91.95 257.93,91.82 258.27,91.7 258.61,91.58 258.94,91.47 259.28,91.36 259.62,91.25 259.96,91.15 260.29,91.04 260.63,90.95 260.97,90.85 261.31,90.76 261.64,90.67 261.98,90.58 262.32,90.49 262.66,90.4 262.99,90.32 263.33,90.24 263.67,90.16 264,90.08 264.34,90 264.68,89.92 265.02,89.85 265.35,89.78 265.69,89.7 266.03,89.63 266.37,89.56 266.7,89.49 267.04,89.42 267.38,89.36 267.72,89.29 268.05,89.22 268.39,89.16 268.73,89.09 269.07,89.03 269.4,88.97 269.74,88.91 270.08,88.85 270.41,88.79 270.75,88.73 271.09,88.67 271.43,88.61 271.76,88.55 272.1,88.5 272.44,88.44 272.78,88.38 273.11,88.33 273.45,88.27 273.79,88.22 274.13,88.17 274.46,88.12 274.8,88.06 275.14,88.01 275.47,87.96 275.81,87.91 276.15,87.86 276.49,87.81 276.82,87.77 277.16,87.72 277.5,87.67 277.84,87.62 278.17,87.58 278.51,87.53 278.85,87.49 279.19,87.44 279.52,87.4 279.86,87.36 280.2,87.31 280.54,87.27 280.87,87.23 281.21,87.19 281.55,87.15 281.88,87.11 282.22,87.07 282.56,87.03 282.9,86.99 283.23,86.95 283.57,86.92 283.91,86.88 284.25,86.84 284.58,86.81 284.92,86.77 285.26,86.74 285.6,86.71 285.93,86.67 286.27,86.64 286.61,86.61 286.95,86.57 287.28,86.54 287.62,86.51 287.96,86.48 288.29,86.45 288.63,86.42 288.97,86.4 289.31,86.37 289.64,86.34 289.98,86.31 290.32,86.29 290.66,86.26 290.99,86.24 291.33,86.21 291.67,86.19 292.01,86.17 292.34,86.14 292.68,86.12 293.02,86.1 293.36,86.08 293.69,86.06 294.03,86.04 294.37,86.02 294.7,86 295.04,85.98 295.38,85.96 295.72,85.95 296.05,85.93 296.39,85.91 296.73,85.9 297.07,85.88 297.4,85.87 297.74,85.85 298.08,85.84 298.42,85.83 298.75,85.82 299.09,85.81 299.43,85.79 299.76,85.78 300.1,85.77 300.44,85.77 300.78,85.76 301.11,85.75 301.45,85.74 301.79,85.74 302.13,85.73 302.46,85.72 302.8,85.72 303.14,85.71 303.48,85.71 303.81,85.71 304.15,85.7 304.49,85.7 304.83,85.7 305.16,85.7 305.5,85.7"/>
<polyline fill="none" stroke="#fde4d0" stroke-width="2.0" stroke-linejoin="round"  points="62.6,100.8 62.94,100.8 63.27,100.8 63.61,100.8 63.95,100.8 64.29,100.81 64.62,100.81 64.96,100.81 65.3,100.82 65.64,100.82 65.97,100.83 66.31,100.84 66.65,100.84 66.99,100.85 67.32,100.86 67.66,100.87 68,100.88 68.34,100.89 68.67,100.9 69.01,100.91 69.35,100.92 69.68,100.93 70.02,100.95 70.36,100.96 70.7,100.97 71.03,100.99 71.37,101 71.71,101.02 72.05,101.04 72.38,101.05 72.72,101.07 73.06,101.09 73.4,101.11 73.73,101.13 74.07,101.15 74.41,101.17 74.75,101.19 75.08,101.21 75.42,101.23 75.76,101.26 76.09,101.28 76.43,101.3 76.77,101.33 77.11,101.35 77.44,101.38 77.78,101.41 78.12,101.43 78.46,101.46 78.79,101.49 79.13,101.52 79.47,101.55 79.81,101.58 80.14,101.61 80.48,101.64 80.82,101.67 81.15,101.7 81.49,101.74 81.83,101.77 82.17,101.8 82.5,101.84 82.84,101.87 83.18,101.91 83.52,101.94 83.85,101.98 84.19,102.02 84.53,102.06 84.87,102.1 85.2,102.13 85.54,102.17 85.88,102.21 86.22,102.25 86.55,102.3 86.89,102.34 87.23,102.38 87.56,102.42 87.9,102.47 88.24,102.51 88.58,102.55 88.91,102.6 89.25,102.65 89.59,102.69 89.93,102.74 90.26,102.79 90.6,102.83 90.94,102.88 91.28,102.93 91.61,102.98 91.95,103.03 92.29,103.08 92.63,103.13 92.96,103.19 93.3,103.24 93.64,103.29 93.97,103.34 94.31,103.4 94.65,103.45 94.99,103.51 95.32,103.57 95.66,103.62 96,103.68 96.34,103.74 96.67,103.8 97.01,103.85 97.35,103.91 97.69,103.98 98.02,104.04 98.36,104.1 98.7,104.16 99.03,104.22 99.37,104.29 99.71,104.35 100.05,104.42 100.38,104.48 100.72,104.55 101.06,104.62 101.4,104.69 101.73,104.76 102.07,104.83 102.41,104.9 102.75,104.97 103.08,105.05 103.42,105.12 103.76,105.2 104.1,105.27 104.43,105.35 104.77,105.43 105.11,105.51 105.44,105.59 105.78,105.67 106.12,105.76 106.46,105.84 106.79,105.93 107.13,106.02 107.47,106.11 107.81,106.2 108.14,106.3 108.48,106.4 108.82,106.49 109.16,106.6 109.49,106.7 109.83,106.81 110.17,106.92 110.51,107.03 110.84,107.15 111.18,107.27 111.52,107.4 111.85,107.53 112.19,107.66 112.53,107.8 112.87,107.94 113.2,108.1 113.54,108.25 113.88,108.42 114.22,108.59 114.55,108.78 114.89,108.97 115.23,109.17 115.57,109.39 115.9,109.62 116.24,109.86 116.58,110.12 116.92,110.4 117.25,110.69 117.59,111.01 117.93,111.35 118.26,111.72 118.6,112.11 118.94,112.54 119.28,113 119.61,113.5 119.95,114.03 120.29,114.61 120.63,115.23 120.96,115.9 121.3,116.61 121.64,117.37 121.98,118.18 122.31,119.03 122.65,119.92 122.99,120.85 123.33,121.8 123.66,122.77 124,123.75 124.34,124.75 124.67,125.75 125.01,126.72 125.35,127.66 125.69,128.57 126.02,129.43 126.36,130.25 126.7,131.02 127.04,131.74 127.37,132.41 127.71,133.04 128.05,133.62 128.39,134.15 128.72,134.65 129.06,135.11 129.4,135.53 129.73,135.92 130.07,136.29 130.41,136.63 130.75,136.94 131.08,137.24 131.42,137.51 131.76,137.77 132.1,138.01 132.43,138.23 132.77,138.45 133.11,138.65 133.45,138.84 133.78,139.02 134.12,139.19 134.46,139.36 134.8,139.51 135.13,139.66 135.47,139.81 135.81,139.95 136.14,140.08 136.48,140.21 136.82,140.33 137.16,140.45 137.49,140.57 137.83,140.68 138.17,140.79 138.51,140.9 138.84,141 139.18,141.11 139.52,141.21 139.86,141.3 140.19,141.4 140.53,141.49 140.87,141.58 141.21,141.67 141.54,141.76 141.88,141.84 142.22,141.93 142.55,142.01 142.89,142.09 143.23,142.17 143.57,142.25 143.9,142.33 144.24,142.41 144.58,142.48 144.92,142.56 145.25,142.63 145.59,142.7 145.93,142.77 146.27,142.84 146.6,142.91 146.94,142.98 147.28,143.05 147.62,143.12 147.95,143.19 148.29,143.25 148.63,143.32 148.96,143.38 149.3,143.44 149.64,143.51 149.98,143.57 150.31,143.63 150.65,143.69 150.99,143.75 151.33,143.81 151.66,143.87 152,143.93 152.34,143.98 152.68,144.04 153.01,144.1 153.35,144.15 153.69,144.21 154.02,144.26 154.36,144.32 154.7,144.37 155.04,144.42 155.37,144.47 155.71,144.52 156.05,144.58 156.39,144.63 156.72,144.67 157.06,144.72 157.4,144.77 157.74,144.82 158.07,144.87 158.41,144.91 158.75,144.96 159.09,145 159.42,145.05 159.76,145.09 160.1,145.14 160.43,145.18 160.77,145.22 161.11,145.26 161.45,145.31 161.78,145.35 162.12,145.39 162.46,145.43 162.8,145.47 163.13,145.5 163.47,145.54 163.81,145.58 164.15,145.62 164.48,145.65 164.82,145.69 165.16,145.72 165.5,145.76 165.83,145.79 166.17,145.82 166.51,145.86 166.84,145.89 167.18,145.92 167.52,145.95 167.86,145.98 168.19,146.01 168.53,146.04 168.87,146.07 169.21,146.09 169.54,146.12 169.88,146.15 170.22,146.17 170.56,146.2 170.89,146.22 171.23,146.25 171.57,146.27 171.91,146.29 172.24,146.32 172.58,146.34 172.92,146.36 173.25,146.38 173.59,146.4 173.93,146.42 174.27,146.44 174.6,146.45 174.94,146.47 175.28,146.49 175.62,146.5 175.95,146.52 176.29,146.53 176.63,146.55 176.97,146.56 177.3,146.57 177.64,146.59 177.98,146.6 178.31,146.61 178.65,146.62 178.99,146.63 179.33,146.64 179.66,146.65 180,146.65 180.34,146.66 180.68,146.67 181.01,146.67 181.35,146.68 181.69,146.68 182.03,146.69 182.36,146.69 182.7,146.69 183.04,146.7 183.38,146.7 183.71,146.7 184.05,146.7 184.39,146.7 184.72,146.7 185.06,146.7 185.4,146.7 185.74,146.69 186.07,146.69 186.41,146.69 186.75,146.68 187.09,146.68 187.42,146.67 187.76,146.66 188.1,146.66 188.44,146.65 188.77,146.64 189.11,146.63 189.45,146.62 189.79,146.61 190.12,146.6 190.46,146.59 190.8,146.58 191.13,146.57 191.47,146.56 191.81,146.54 192.15,146.53 192.48,146.52 192.82,146.5 193.16,146.49 193.5,146.47 193.83,146.45 194.17,146.43 194.51,146.42 194.85,146.4 195.18,146.38 195.52,146.36 195.86,146.34 196.19,146.32 196.53,146.3 196.87,146.28 197.21,146.25 197.54,146.23 197.88,146.21 198.22,146.18 198.56,146.16 198.89,146.13 199.23,146.11 199.57,146.08 199.91,146.05 200.24,146.02 200.58,146 200.92,145.97 201.26,145.94 201.59,145.91 201.93,145.88 202.27,145.85 202.6,145.82 202.94,145.78 203.28,145.75 203.62,145.72 203.95,145.68 204.29,145.65 204.63,145.62 204.97,145.58 205.3,145.54 205.64,145.51 205.98,145.47 206.32,145.43 206.65,145.39 206.99,145.36 207.33,145.32 207.67,145.28 208,145.24 208.34,145.2 208.68,145.15 209.01,145.11 209.35,145.07 209.69,145.03 210.03,144.98 210.36,144.94 210.7,144.89 211.04,144.85 211.38,144.8 211.71,144.76 212.05,144.71 212.39,144.66 212.73,144.61 213.06,144.57 213.4,144.52 213.74,144.47 214.08,144.42 214.41,144.37 214.75,144.31 215.09,144.26 215.42,144.21 215.76,144.16 216.1,144.1 216.44,144.05 216.77,143.99 217.11,143.94 217.45,143.88 217.79,143.83 218.12,143.77 218.46,143.71 218.8,143.65 219.14,143.59 219.47,143.53 219.81,143.47 220.15,143.41 220.48,143.35 220.82,143.29 221.16,143.22 221.5,143.16 221.83,143.1 222.17,143.03 222.51,142.96 222.85,142.9 223.18,142.83 223.52,142.76 223.86,142.69 224.2,142.62 224.53,142.55 224.87,142.48 225.21,142.4 225.55,142.33 225.88,142.25 226.22,142.18 226.56,142.1 226.89,142.02 227.23,141.94 227.57,141.86 227.91,141.78 228.24,141.69 228.58,141.61 228.92,141.52 229.26,141.43 229.59,141.34 229.93,141.25 230.27,141.15 230.61,141.06 230.94,140.96 231.28,140.85 231.62,140.75 231.96,140.64 232.29,140.53 232.63,140.42 232.97,140.3 233.3,140.18 233.64,140.05 233.98,139.92 234.32,139.79 234.65,139.65 234.99,139.5 235.33,139.35 235.67,139.19 236,139.02 236.34,138.85 236.68,138.66 237.02,138.47 237.35,138.27 237.69,138.05 238.03,137.82 238.37,137.58 238.7,137.31 239.04,137.04 239.38,136.74 239.71,136.42 240.05,136.08 240.39,135.71 240.73,135.31 241.06,134.89 241.4,134.43 241.74,133.93 242.08,133.4 242.41,132.82 242.75,132.2 243.09,131.53 243.43,130.82 243.76,130.07 244.1,129.27 244.44,128.42 244.78,127.54 245.11,126.62 245.45,125.68 245.79,124.72 246.12,123.75 246.46,122.74 246.8,121.73 247.14,120.75 247.47,119.8 247.81,118.88 248.15,118.01 248.49,117.19 248.82,116.41 249.16,115.69 249.5,115.01 249.84,114.39 250.17,113.81 250.51,113.27 250.85,112.78 251.18,112.32 251.52,111.89 251.86,111.5 252.2,111.14 252.53,110.8 252.87,110.49 253.21,110.2 253.55,109.92 253.88,109.67 254.22,109.43 254.56,109.21 254.9,108.99 255.23,108.79 255.57,108.6 255.91,108.42 256.25,108.25 256.58,108.09 256.92,107.93 257.26,107.78 257.59,107.64 257.93,107.5 258.27,107.37 258.61,107.24 258.94,107.11 259.28,106.99 259.62,106.88 259.96,106.77 260.29,106.66 260.63,106.55 260.97,106.44 261.31,106.34 261.64,106.24 261.98,106.15 262.32,106.05 262.66,105.96 262.99,105.87 263.33,105.78 263.67,105.69 264,105.61 264.34,105.52 264.68,105.44 265.02,105.36 265.35,105.28 265.69,105.2 266.03,105.12 266.37,105.04 266.7,104.97 267.04,104.89 267.38,104.82 267.72,104.75 268.05,104.67 268.39,104.6 268.73,104.53 269.07,104.46 269.4,104.4 269.74,104.33 270.08,104.26 270.41,104.2 270.75,104.13 271.09,104.07 271.43,104 271.76,103.94 272.1,103.88 272.44,103.82 272.78,103.75 273.11,103.69 273.45,103.64 273.79,103.58 274.13,103.52 274.46,103.46 274.8,103.4 275.14,103.35 275.47,103.29 275.81,103.24 276.15,103.18 276.49,103.13 276.82,103.08 277.16,103.02 277.5,102.97 277.84,102.92 278.17,102.87 278.51,102.82 278.85,102.77 279.19,102.72 279.52,102.67 279.86,102.63 280.2,102.58 280.54,102.53 280.87,102.49 281.21,102.44 281.55,102.4 281.88,102.35 282.22,102.31 282.56,102.27 282.9,102.23 283.23,102.18 283.57,102.14 283.91,102.1 284.25,102.06 284.58,102.02 284.92,101.98 285.26,101.95 285.6,101.91 285.93,101.87 286.27,101.84 286.61,101.8 286.95,101.77 287.28,101.73 287.62,101.7 287.96,101.66 288.29,101.63 288.63,101.6 288.97,101.57 289.31,101.54 289.64,101.51 289.98,101.48 290.32,101.45 290.66,101.42 290.99,101.39 291.33,101.37 291.67,101.34 292.01,101.31 292.34,101.29 292.68,101.26 293.02,101.24 293.36,101.22 293.69,101.19 294.03,101.17 294.37,101.15 294.7,101.13 295.04,101.11 295.38,101.09 295.72,101.07 296.05,101.05 296.39,101.03 296.73,101.02 297.07,101 297.4,100.99 297.74,100.97 298.08,100.96 298.42,100.94 298.75,100.93 299.09,100.92 299.43,100.9 299.76,100.89 300.1,100.88 300.44,100.87 300.78,100.86 301.11,100.85 301.45,100.85 301.79,100.84 302.13,100.83 302.46,100.83 302.8,100.82 303.14,100.82 303.48,100.81 303.81,100.81 304.15,100.81 304.49,100.8 304.83,100.8 305.16,100.8 305.5,100.8"/>
<polyline fill="none" stroke="#f8c6a0" stroke-width="2.0" stroke-linejoin="round"  points="62.6,116.4 62.94,116.4 63.27,116.4 63.61,116.4 63.95,116.41 64.29,116.41 64.62,116.41 64.96,116.42 65.3,116.42 65.64,116.43 65.97,116.43 66.31,116.44 66.65,116.45 66.99,116.45 67.32,116.46 67.66,116.47 68,116.48 68.34,116.49 68.67,116.51 69.01,116.52 69.35,116.53 69.68,116.54 70.02,116.56 70.36,116.57 70.7,116.59 71.03,116.6 71.37,116.62 71.71,116.64 72.05,116.65 72.38,116.67 72.72,116.69 73.06,116.71 73.4,116.73 73.73,116.75 74.07,116.77 74.41,116.8 74.75,116.82 75.08,116.84 75.42,116.87 75.76,116.89 76.09,116.92 76.43,116.94 76.77,116.97 77.11,117 77.44,117.03 77.78,117.05 78.12,117.08 78.46,117.11 78.79,117.14 79.13,117.17 79.47,117.21 79.81,117.24 80.14,117.27 80.48,117.3 80.82,117.34 81.15,117.37 81.49,117.41 81.83,117.44 82.17,117.48 82.5,117.52 82.84,117.56 83.18,117.59 83.52,117.63 83.85,117.67 84.19,117.71 84.53,117.75 84.87,117.8 85.2,117.84 85.54,117.88 85.88,117.92 86.22,117.97 86.55,118.01 86.89,118.06 87.23,118.1 87.56,118.15 87.9,118.2 88.24,118.24 88.58,118.29 88.91,118.34 89.25,118.39 89.59,118.44 89.93,118.49 90.26,118.54 90.6,118.59 90.94,118.65 91.28,118.7 91.61,118.75 91.95,118.81 92.29,118.86 92.63,118.92 92.96,118.97 93.3,119.03 93.64,119.09 93.97,119.14 94.31,119.2 94.65,119.26 94.99,119.32 95.32,119.38 95.66,119.44 96,119.51 96.34,119.57 96.67,119.63 97.01,119.7 97.35,119.76 97.69,119.83 98.02,119.89 98.36,119.96 98.7,120.03 99.03,120.1 99.37,120.16 99.71,120.23 100.05,120.3 100.38,120.38 100.72,120.45 101.06,120.52 101.4,120.6 101.73,120.67 102.07,120.75 102.41,120.82 102.75,120.9 103.08,120.98 103.42,121.06 103.76,121.14 104.1,121.23 104.43,121.31 104.77,121.39 105.11,121.48 105.44,121.57 105.78,121.66 106.12,121.75 106.46,121.84 106.79,121.93 107.13,122.03 107.47,122.12 107.81,122.22 108.14,122.33 108.48,122.43 108.82,122.53 109.16,122.64 109.49,122.75 109.83,122.87 110.17,122.98 110.51,123.1 110.84,123.23 111.18,123.35 111.52,123.48 111.85,123.62 112.19,123.76 112.53,123.9 112.87,124.05 113.2,124.21 113.54,124.37 113.88,124.54 114.22,124.71 114.55,124.9 114.89,125.09 115.23,125.29 115.57,125.5 115.9,125.73 116.24,125.96 116.58,126.21 116.92,126.48 117.25,126.76 117.59,127.06 117.93,127.38 118.26,127.72 118.6,128.08 118.94,128.47 119.28,128.89 119.61,129.33 119.95,129.81 120.29,130.32 120.63,130.86 120.96,131.44 121.3,132.07 121.64,132.73 121.98,133.43 122.31,134.17 122.65,134.95 122.99,135.76 123.33,136.61 123.66,137.48 124,138.37 124.34,139.28 124.67,140.2 125.01,141.16 125.35,142.11 125.69,143.04 126.02,143.95 126.36,144.83 126.7,145.67 127.04,146.47 127.37,147.23 127.71,147.95 128.05,148.62 128.39,149.25 128.72,149.84 129.06,150.39 129.4,150.9 129.73,151.38 130.07,151.82 130.41,152.23 130.75,152.62 131.08,152.98 131.42,153.31 131.76,153.63 132.1,153.92 132.43,154.2 132.77,154.46 133.11,154.7 133.45,154.94 133.78,155.16 134.12,155.36 134.46,155.56 134.8,155.75 135.13,155.93 135.47,156.11 135.81,156.27 136.14,156.43 136.48,156.58 136.82,156.73 137.16,156.87 137.49,157.01 137.83,157.15 138.17,157.28 138.51,157.4 138.84,157.52 139.18,157.64 139.52,157.76 139.86,157.87 140.19,157.98 140.53,158.09 140.87,158.19 141.21,158.3 141.54,158.4 141.88,158.5 142.22,158.6 142.55,158.69 142.89,158.78 143.23,158.88 143.57,158.97 143.9,159.06 144.24,159.14 144.58,159.23 144.92,159.32 145.25,159.4 145.59,159.48 145.93,159.57 146.27,159.65 146.6,159.73 146.94,159.8 147.28,159.88 147.62,159.96 147.95,160.03 148.29,160.11 148.63,160.18 148.96,160.25 149.3,160.33 149.64,160.4 149.98,160.47 150.31,160.54 150.65,160.61 150.99,160.67 151.33,160.74 151.66,160.81 152,160.87 152.34,160.94 152.68,161 153.01,161.07 153.35,161.13 153.69,161.19 154.02,161.25 154.36,161.31 154.7,161.37 155.04,161.43 155.37,161.49 155.71,161.55 156.05,161.61 156.39,161.66 156.72,161.72 157.06,161.77 157.4,161.83 157.74,161.88 158.07,161.94 158.41,161.99 158.75,162.04 159.09,162.09 159.42,162.14 159.76,162.19 160.1,162.24 160.43,162.29 160.77,162.34 161.11,162.38 161.45,162.43 161.78,162.48 162.12,162.52 162.46,162.57 162.8,162.61 163.13,162.65 163.47,162.7 163.81,162.74 164.15,162.78 164.48,162.82 164.82,162.86 165.16,162.9 165.5,162.94 165.83,162.97 166.17,163.01 166.51,163.05 166.84,163.08 167.18,163.12 167.52,163.15 167.86,163.19 168.19,163.22 168.53,163.25 168.87,163.29 169.21,163.32 169.54,163.35 169.88,163.38 170.22,163.41 170.56,163.43 170.89,163.46 171.23,163.49 171.57,163.52 171.91,163.54 172.24,163.57 172.58,163.59 172.92,163.61 173.25,163.64 173.59,163.66 173.93,163.68 174.27,163.7 174.6,163.72 174.94,163.74 175.28,163.76 175.62,163.78 175.95,163.8 176.29,163.81 176.63,163.83 176.97,163.84 177.3,163.86 177.64,163.87 177.98,163.88 178.31,163.9 178.65,163.91 178.99,163.92 179.33,163.93 179.66,163.94 180,163.95 180.34,163.96 180.68,163.96 181.01,163.97 181.35,163.98 181.69,163.98 182.03,163.99 182.36,163.99 182.7,163.99 183.04,164 183.38,164 183.71,164 184.05,164 184.39,164 184.72,164 185.06,164 185.4,163.99 185.74,163.99 186.07,163.99 186.41,163.98 186.75,163.98 187.09,163.97 187.42,163.97 187.76,163.96 188.1,163.95 188.44,163.95 188.77,163.94 189.11,163.93 189.45,163.92 189.79,163.91 190.12,163.89 190.46,163.88 190.8,163.87 191.13,163.86 191.47,163.84 191.81,163.83 192.15,163.81 192.48,163.8 192.82,163.78 193.16,163.76 193.5,163.75 193.83,163.73 194.17,163.71 194.51,163.69 194.85,163.67 195.18,163.65 195.52,163.63 195.86,163.6 196.19,163.58 196.53,163.56 196.87,163.53 197.21,163.51 197.54,163.48 197.88,163.46 198.22,163.43 198.56,163.4 198.89,163.37 199.23,163.35 199.57,163.32 199.91,163.29 200.24,163.26 200.58,163.23 200.92,163.19 201.26,163.16 201.59,163.13 201.93,163.1 202.27,163.06 202.6,163.03 202.94,162.99 203.28,162.96 203.62,162.92 203.95,162.88 204.29,162.84 204.63,162.81 204.97,162.77 205.3,162.73 205.64,162.69 205.98,162.65 206.32,162.6 206.65,162.56 206.99,162.52 207.33,162.48 207.67,162.43 208,162.39 208.34,162.34 208.68,162.3 209.01,162.25 209.35,162.2 209.69,162.16 210.03,162.11 210.36,162.06 210.7,162.01 211.04,161.96 211.38,161.91 211.71,161.86 212.05,161.81 212.39,161.75 212.73,161.7 213.06,161.65 213.4,161.59 213.74,161.54 214.08,161.48 214.41,161.43 214.75,161.37 215.09,161.31 215.42,161.26 215.76,161.2 216.1,161.14 216.44,161.08 216.77,161.02 217.11,160.96 217.45,160.89 217.79,160.83 218.12,160.77 218.46,160.7 218.8,160.64 219.14,160.57 219.47,160.51 219.81,160.44 220.15,160.37 220.48,160.3 220.82,160.24 221.16,160.17 221.5,160.1 221.83,160.02 222.17,159.95 222.51,159.88 222.85,159.8 223.18,159.73 223.52,159.65 223.86,159.58 224.2,159.5 224.53,159.42 224.87,159.34 225.21,159.26 225.55,159.17 225.88,159.09 226.22,159.01 226.56,158.92 226.89,158.83 227.23,158.74 227.57,158.65 227.91,158.56 228.24,158.47 228.58,158.37 228.92,158.28 229.26,158.18 229.59,158.07 229.93,157.97 230.27,157.87 230.61,157.76 230.94,157.65 231.28,157.53 231.62,157.42 231.96,157.3 232.29,157.17 232.63,157.05 232.97,156.92 233.3,156.78 233.64,156.64 233.98,156.5 234.32,156.35 234.65,156.19 234.99,156.03 235.33,155.86 235.67,155.69 236,155.5 236.34,155.31 236.68,155.11 237.02,154.9 237.35,154.67 237.69,154.44 238.03,154.19 238.37,153.92 238.7,153.64 239.04,153.34 239.38,153.02 239.71,152.68 240.05,152.32 240.39,151.93 240.73,151.51 241.06,151.07 241.4,150.59 241.74,150.08 242.08,149.54 242.41,148.96 242.75,148.33 243.09,147.67 243.43,146.97 243.76,146.23 244.1,145.45 244.44,144.64 244.78,143.79 245.11,142.92 245.45,142.03 245.79,141.12 246.12,140.2 246.46,139.24 246.8,138.29 247.14,137.36 247.47,136.45 247.81,135.57 248.15,134.73 248.49,133.93 248.82,133.17 249.16,132.45 249.5,131.78 249.84,131.15 250.17,130.56 250.51,130.01 250.85,129.5 251.18,129.02 251.52,128.58 251.86,128.17 252.2,127.78 252.53,127.42 252.87,127.09 253.21,126.77 253.55,126.48 253.88,126.2 254.22,125.94 254.56,125.7 254.9,125.46 255.23,125.24 255.57,125.04 255.91,124.84 256.25,124.65 256.58,124.47 256.92,124.29 257.26,124.13 257.59,123.97 257.93,123.82 258.27,123.67 258.61,123.53 258.94,123.39 259.28,123.25 259.62,123.12 259.96,123 260.29,122.88 260.63,122.76 260.97,122.64 261.31,122.53 261.64,122.42 261.98,122.31 262.32,122.21 262.66,122.1 262.99,122 263.33,121.9 263.67,121.8 264,121.71 264.34,121.62 264.68,121.52 265.02,121.43 265.35,121.34 265.69,121.26 266.03,121.17 266.37,121.08 266.7,121 267.04,120.92 267.38,120.83 267.72,120.75 268.05,120.67 268.39,120.6 268.73,120.52 269.07,120.44 269.4,120.37 269.74,120.29 270.08,120.22 270.41,120.15 270.75,120.07 271.09,120 271.43,119.93 271.76,119.86 272.1,119.79 272.44,119.73 272.78,119.66 273.11,119.59 273.45,119.53 273.79,119.46 274.13,119.4 274.46,119.33 274.8,119.27 275.14,119.21 275.47,119.15 275.81,119.09 276.15,119.03 276.49,118.97 276.82,118.91 277.16,118.85 277.5,118.79 277.84,118.74 278.17,118.68 278.51,118.63 278.85,118.57 279.19,118.52 279.52,118.46 279.86,118.41 280.2,118.36 280.54,118.31 280.87,118.26 281.21,118.21 281.55,118.16 281.88,118.11 282.22,118.06 282.56,118.02 282.9,117.97 283.23,117.92 283.57,117.88 283.91,117.83 284.25,117.79 284.58,117.75 284.92,117.7 285.26,117.66 285.6,117.62 285.93,117.58 286.27,117.54 286.61,117.5 286.95,117.46 287.28,117.43 287.62,117.39 287.96,117.35 288.29,117.32 288.63,117.28 288.97,117.25 289.31,117.21 289.64,117.18 289.98,117.15 290.32,117.11 290.66,117.08 290.99,117.05 291.33,117.02 291.67,116.99 292.01,116.97 292.34,116.94 292.68,116.91 293.02,116.88 293.36,116.86 293.69,116.83 294.03,116.81 294.37,116.79 294.7,116.76 295.04,116.74 295.38,116.72 295.72,116.7 296.05,116.68 296.39,116.66 296.73,116.64 297.07,116.62 297.4,116.6 297.74,116.59 298.08,116.57 298.42,116.56 298.75,116.54 299.09,116.53 299.43,116.52 299.76,116.5 300.1,116.49 300.44,116.48 300.78,116.47 301.11,116.46 301.45,116.45 301.79,116.44 302.13,116.44 302.46,116.43 302.8,116.42 303.14,116.42 303.48,116.41 303.81,116.41 304.15,116.41 304.49,116.4 304.83,116.4 305.16,116.4 305.5,116.4"/>
<polyline fill="none" stroke="#f6b183" stroke-width="2.0" stroke-linejoin="round"  points="62.6,130 62.94,130 63.27,130 63.61,130 63.95,130.01 64.29,130.01 64.62,130.01 64.96,130.02 65.3,130.02 65.64,130.03 65.97,130.04 66.31,130.04 66.65,130.05 66.99,130.06 67.32,130.07 67.66,130.08 68,130.09 68.34,130.1 68.67,130.12 69.01,130.13 69.35,130.15 69.68,130.16 70.02,130.18 70.36,130.19 70.7,130.21 71.03,130.23 71.37,130.25 71.71,130.26 72.05,130.28 72.38,130.3 72.72,130.33 73.06,130.35 73.4,130.37 73.73,130.39 74.07,130.42 74.41,130.44 74.75,130.47 75.08,130.5 75.42,130.52 75.76,130.55 76.09,130.58 76.43,130.61 76.77,130.64 77.11,130.67 77.44,130.7 77.78,130.73 78.12,130.76 78.46,130.8 78.79,130.83 79.13,130.87 79.47,130.9 79.81,130.94 80.14,130.97 80.48,131.01 80.82,131.05 81.15,131.09 81.49,131.13 81.83,131.17 82.17,131.21 82.5,131.25 82.84,131.29 83.18,131.34 83.52,131.38 83.85,131.42 84.19,131.47 84.53,131.52 84.87,131.56 85.2,131.61 85.54,131.66 85.88,131.71 86.22,131.75 86.55,131.8 86.89,131.85 87.23,131.91 87.56,131.96 87.9,132.01 88.24,132.06 88.58,132.12 88.91,132.17 89.25,132.23 89.59,132.28 89.93,132.34 90.26,132.4 90.6,132.46 90.94,132.52 91.28,132.58 91.61,132.64 91.95,132.7 92.29,132.76 92.63,132.82 92.96,132.88 93.3,132.95 93.64,133.01 93.97,133.08 94.31,133.14 94.65,133.21 94.99,133.28 95.32,133.35 95.66,133.42 96,133.49 96.34,133.56 96.67,133.63 97.01,133.7 97.35,133.77 97.69,133.85 98.02,133.92 98.36,134 98.7,134.07 99.03,134.15 99.37,134.23 99.71,134.31 100.05,134.39 100.38,134.47 100.72,134.55 101.06,134.64 101.4,134.72 101.73,134.81 102.07,134.89 102.41,134.98 102.75,135.07 103.08,135.16 103.42,135.25 103.76,135.35 104.1,135.44 104.43,135.54 104.77,135.63 105.11,135.73 105.44,135.83 105.78,135.93 106.12,136.04 106.46,136.14 106.79,136.25 107.13,136.36 107.47,136.47 107.81,136.59 108.14,136.7 108.48,136.82 108.82,136.94 109.16,137.07 109.49,137.19 109.83,137.32 110.17,137.46 110.51,137.6 110.84,137.74 111.18,137.88 111.52,138.03 111.85,138.19 112.19,138.35 112.53,138.51 112.87,138.68 113.2,138.86 113.54,139.04 113.88,139.23 114.22,139.43 114.55,139.64 114.89,139.85 115.23,140.08 115.57,140.32 115.9,140.56 116.24,140.82 116.58,141.09 116.92,141.38 117.25,141.68 117.59,142 117.93,142.33 118.26,142.68 118.6,143.06 118.94,143.45 119.28,143.86 119.61,144.3 119.95,144.76 120.29,145.25 120.63,145.76 120.96,146.3 121.3,146.87 121.64,147.46 121.98,148.08 122.31,148.73 122.65,149.4 122.99,150.09 123.33,150.79 123.66,151.52 124,152.26 124.34,153 124.67,153.75 125.01,154.53 125.35,155.31 125.69,156.08 126.02,156.84 126.36,157.57 126.7,158.29 127.04,158.98 127.37,159.64 127.71,160.28 128.05,160.89 128.39,161.47 128.72,162.02 129.06,162.54 129.4,163.03 129.73,163.5 130.07,163.94 130.41,164.36 130.75,164.75 131.08,165.12 131.42,165.47 131.76,165.81 132.1,166.12 132.43,166.42 132.77,166.7 133.11,166.97 133.45,167.23 133.78,167.47 134.12,167.71 134.46,167.93 134.8,168.14 135.13,168.35 135.47,168.54 135.81,168.73 136.14,168.91 136.48,169.09 136.82,169.26 137.16,169.42 137.49,169.58 137.83,169.73 138.17,169.88 138.51,170.02 138.84,170.16 139.18,170.3 139.52,170.43 139.86,170.56 140.19,170.69 140.53,170.81 140.87,170.94 141.21,171.05 141.54,171.17 141.88,171.28 142.22,171.4 142.55,171.51 142.89,171.61 143.23,171.72 143.57,171.82 143.9,171.93 144.24,172.03 144.58,172.12 144.92,172.22 145.25,172.32 145.59,172.41 145.93,172.51 146.27,172.6 146.6,172.69 146.94,172.78 147.28,172.87 147.62,172.95 147.95,173.04 148.29,173.12 148.63,173.21 148.96,173.29 149.3,173.37 149.64,173.45 149.98,173.53 150.31,173.61 150.65,173.69 150.99,173.77 151.33,173.84 151.66,173.92 152,173.99 152.34,174.07 152.68,174.14 153.01,174.21 153.35,174.28 153.69,174.35 154.02,174.42 154.36,174.49 154.7,174.56 155.04,174.62 155.37,174.69 155.71,174.75 156.05,174.82 156.39,174.88 156.72,174.94 157.06,175.01 157.4,175.07 157.74,175.13 158.07,175.19 158.41,175.25 158.75,175.3 159.09,175.36 159.42,175.42 159.76,175.47 160.1,175.53 160.43,175.58 160.77,175.64 161.11,175.69 161.45,175.74 161.78,175.79 162.12,175.85 162.46,175.9 162.8,175.94 163.13,175.99 163.47,176.04 163.81,176.09 164.15,176.13 164.48,176.18 164.82,176.22 165.16,176.27 165.5,176.31 165.83,176.35 166.17,176.4 166.51,176.44 166.84,176.48 167.18,176.52 167.52,176.55 167.86,176.59 168.19,176.63 168.53,176.67 168.87,176.7 169.21,176.74 169.54,176.77 169.88,176.8 170.22,176.84 170.56,176.87 170.89,176.9 171.23,176.93 171.57,176.96 171.91,176.99 172.24,177.02 172.58,177.04 172.92,177.07 173.25,177.09 173.59,177.12 173.93,177.14 174.27,177.17 174.6,177.19 174.94,177.21 175.28,177.23 175.62,177.25 175.95,177.27 176.29,177.29 176.63,177.31 176.97,177.33 177.3,177.34 177.64,177.36 177.98,177.37 178.31,177.39 178.65,177.4 178.99,177.41 179.33,177.42 179.66,177.43 180,177.44 180.34,177.45 180.68,177.46 181.01,177.47 181.35,177.47 181.69,177.48 182.03,177.49 182.36,177.49 182.7,177.49 183.04,177.5 183.38,177.5 183.71,177.5 184.05,177.5 184.39,177.5 184.72,177.5 185.06,177.5 185.4,177.49 185.74,177.49 186.07,177.49 186.41,177.48 186.75,177.48 187.09,177.47 187.42,177.46 187.76,177.46 188.1,177.45 188.44,177.44 188.77,177.43 189.11,177.42 189.45,177.41 189.79,177.4 190.12,177.38 190.46,177.37 190.8,177.35 191.13,177.34 191.47,177.32 191.81,177.31 192.15,177.29 192.48,177.27 192.82,177.25 193.16,177.24 193.5,177.22 193.83,177.2 194.17,177.17 194.51,177.15 194.85,177.13 195.18,177.11 195.52,177.08 195.86,177.06 196.19,177.03 196.53,177 196.87,176.98 197.21,176.95 197.54,176.92 197.88,176.89 198.22,176.86 198.56,176.83 198.89,176.8 199.23,176.77 199.57,176.74 199.91,176.7 200.24,176.67 200.58,176.63 200.92,176.6 201.26,176.56 201.59,176.53 201.93,176.49 202.27,176.45 202.6,176.41 202.94,176.37 203.28,176.33 203.62,176.29 203.95,176.25 204.29,176.21 204.63,176.16 204.97,176.12 205.3,176.08 205.64,176.03 205.98,175.98 206.32,175.94 206.65,175.89 206.99,175.84 207.33,175.79 207.67,175.75 208,175.7 208.34,175.65 208.68,175.59 209.01,175.54 209.35,175.49 209.69,175.44 210.03,175.38 210.36,175.33 210.7,175.27 211.04,175.22 211.38,175.16 211.71,175.1 212.05,175.04 212.39,174.98 212.73,174.92 213.06,174.86 213.4,174.8 213.74,174.74 214.08,174.68 214.41,174.62 214.75,174.55 215.09,174.49 215.42,174.42 215.76,174.36 216.1,174.29 216.44,174.22 216.77,174.15 217.11,174.08 217.45,174.01 217.79,173.94 218.12,173.87 218.46,173.8 218.8,173.73 219.14,173.65 219.47,173.58 219.81,173.5 220.15,173.43 220.48,173.35 220.82,173.27 221.16,173.19 221.5,173.11 221.83,173.03 222.17,172.95 222.51,172.86 222.85,172.78 223.18,172.69 223.52,172.61 223.86,172.52 224.2,172.43 224.53,172.34 224.87,172.25 225.21,172.15 225.55,172.06 225.88,171.96 226.22,171.87 226.56,171.77 226.89,171.67 227.23,171.57 227.57,171.46 227.91,171.36 228.24,171.25 228.58,171.14 228.92,171.03 229.26,170.91 229.59,170.8 229.93,170.68 230.27,170.56 230.61,170.43 230.94,170.31 231.28,170.18 231.62,170.04 231.96,169.9 232.29,169.76 232.63,169.62 232.97,169.47 233.3,169.31 233.64,169.15 233.98,168.99 234.32,168.82 234.65,168.64 234.99,168.46 235.33,168.27 235.67,168.07 236,167.86 236.34,167.65 236.68,167.42 237.02,167.18 237.35,166.94 237.69,166.68 238.03,166.41 238.37,166.12 238.7,165.82 239.04,165.5 239.38,165.17 239.71,164.82 240.05,164.44 240.39,164.05 240.73,163.64 241.06,163.2 241.4,162.74 241.74,162.25 242.08,161.74 242.41,161.2 242.75,160.63 243.09,160.04 243.43,159.42 243.76,158.77 244.1,158.1 244.44,157.41 244.78,156.71 245.11,155.98 245.45,155.24 245.79,154.5 246.12,153.75 246.46,152.97 246.8,152.19 247.14,151.42 247.47,150.66 247.81,149.93 248.15,149.21 248.49,148.52 248.82,147.86 249.16,147.22 249.5,146.61 249.84,146.03 250.17,145.48 250.51,144.96 250.85,144.47 251.18,144 251.52,143.56 251.86,143.14 252.2,142.75 252.53,142.38 252.87,142.03 253.21,141.69 253.55,141.38 253.88,141.08 254.22,140.8 254.56,140.53 254.9,140.27 255.23,140.03 255.57,139.79 255.91,139.57 256.25,139.36 256.58,139.15 256.92,138.96 257.26,138.77 257.59,138.59 257.93,138.41 258.27,138.24 258.61,138.08 258.94,137.92 259.28,137.77 259.62,137.62 259.96,137.48 260.29,137.34 260.63,137.2 260.97,137.07 261.31,136.94 261.64,136.81 261.98,136.69 262.32,136.56 262.66,136.45 262.99,136.33 263.33,136.22 263.67,136.1 264,135.99 264.34,135.89 264.68,135.78 265.02,135.68 265.35,135.57 265.69,135.47 266.03,135.38 266.37,135.28 266.7,135.18 267.04,135.09 267.38,134.99 267.72,134.9 268.05,134.81 268.39,134.72 268.73,134.63 269.07,134.55 269.4,134.46 269.74,134.38 270.08,134.29 270.41,134.21 270.75,134.13 271.09,134.05 271.43,133.97 271.76,133.89 272.1,133.81 272.44,133.73 272.78,133.66 273.11,133.58 273.45,133.51 273.79,133.43 274.13,133.36 274.46,133.29 274.8,133.22 275.14,133.15 275.47,133.08 275.81,133.01 276.15,132.94 276.49,132.88 276.82,132.81 277.16,132.75 277.5,132.68 277.84,132.62 278.17,132.56 278.51,132.49 278.85,132.43 279.19,132.37 279.52,132.31 279.86,132.25 280.2,132.2 280.54,132.14 280.87,132.08 281.21,132.03 281.55,131.97 281.88,131.92 282.22,131.86 282.56,131.81 282.9,131.76 283.23,131.71 283.57,131.65 283.91,131.6 284.25,131.56 284.58,131.51 284.92,131.46 285.26,131.41 285.6,131.37 285.93,131.32 286.27,131.28 286.61,131.23 286.95,131.19 287.28,131.15 287.62,131.1 287.96,131.06 288.29,131.02 288.63,130.98 288.97,130.95 289.31,130.91 289.64,130.87 289.98,130.83 290.32,130.8 290.66,130.76 290.99,130.73 291.33,130.7 291.67,130.66 292.01,130.63 292.34,130.6 292.68,130.57 293.02,130.54 293.36,130.51 293.69,130.48 294.03,130.46 294.37,130.43 294.7,130.41 295.04,130.38 295.38,130.36 295.72,130.33 296.05,130.31 296.39,130.29 296.73,130.27 297.07,130.25 297.4,130.23 297.74,130.21 298.08,130.19 298.42,130.17 298.75,130.16 299.09,130.14 299.43,130.13 299.76,130.11 300.1,130.1 300.44,130.09 300.78,130.08 301.11,130.07 301.45,130.06 301.79,130.05 302.13,130.04 302.46,130.03 302.8,130.03 303.14,130.02 303.48,130.01 303.81,130.01 304.15,130.01 304.49,130 304.83,130 305.16,130 305.5,130"/>
<polyline fill="none" stroke="#f39d60" stroke-width="2.0" stroke-linejoin="round"  points="62.6,144.4 62.94,144.4 63.27,144.4 63.61,144.4 63.95,144.41 64.29,144.41 64.62,144.41 64.96,144.42 65.3,144.42 65.64,144.43 65.97,144.44 66.31,144.45 66.65,144.45 66.99,144.46 67.32,144.47 67.66,144.49 68,144.5 68.34,144.51 68.67,144.52 69.01,144.54 69.35,144.55 69.68,144.57 70.02,144.58 70.36,144.6 70.7,144.62 71.03,144.64 71.37,144.66 71.71,144.68 72.05,144.7 72.38,144.72 72.72,144.74 73.06,144.77 73.4,144.79 73.73,144.81 74.07,144.84 74.41,144.87 74.75,144.89 75.08,144.92 75.42,144.95 75.76,144.98 76.09,145.01 76.43,145.04 76.77,145.07 77.11,145.1 77.44,145.13 77.78,145.17 78.12,145.2 78.46,145.24 78.79,145.27 79.13,145.31 79.47,145.35 79.81,145.38 80.14,145.42 80.48,145.46 80.82,145.5 81.15,145.54 81.49,145.59 81.83,145.63 82.17,145.67 82.5,145.71 82.84,145.76 83.18,145.8 83.52,145.85 83.85,145.9 84.19,145.94 84.53,145.99 84.87,146.04 85.2,146.09 85.54,146.14 85.88,146.19 86.22,146.25 86.55,146.3 86.89,146.35 87.23,146.41 87.56,146.46 87.9,146.52 88.24,146.57 88.58,146.63 88.91,146.69 89.25,146.75 89.59,146.8 89.93,146.86 90.26,146.93 90.6,146.99 90.94,147.05 91.28,147.11 91.61,147.18 91.95,147.24 92.29,147.31 92.63,147.37 92.96,147.44 93.3,147.51 93.64,147.58 93.97,147.65 94.31,147.72 94.65,147.79 94.99,147.86 95.32,147.93 95.66,148.01 96,148.08 96.34,148.16 96.67,148.23 97.01,148.31 97.35,148.39 97.69,148.47 98.02,148.55 98.36,148.63 98.7,148.71 99.03,148.79 99.37,148.88 99.71,148.96 100.05,149.05 100.38,149.14 100.72,149.23 101.06,149.32 101.4,149.41 101.73,149.5 102.07,149.59 102.41,149.69 102.75,149.78 103.08,149.88 103.42,149.98 103.76,150.08 104.1,150.18 104.43,150.29 104.77,150.39 105.11,150.5 105.44,150.61 105.78,150.72 106.12,150.83 106.46,150.95 106.79,151.07 107.13,151.19 107.47,151.31 107.81,151.44 108.14,151.56 108.48,151.69 108.82,151.83 109.16,151.96 109.49,152.1 109.83,152.25 110.17,152.4 110.51,152.55 110.84,152.7 111.18,152.86 111.52,153.03 111.85,153.2 112.19,153.37 112.53,153.55 112.87,153.74 113.2,153.93 113.54,154.13 113.88,154.34 114.22,154.56 114.55,154.78 114.89,155.01 115.23,155.25 115.57,155.5 115.9,155.76 116.24,156.03 116.58,156.31 116.92,156.6 117.25,156.91 117.59,157.23 117.93,157.56 118.26,157.91 118.6,158.27 118.94,158.64 119.28,159.03 119.61,159.43 119.95,159.85 120.29,160.29 120.63,160.74 120.96,161.2 121.3,161.68 121.64,162.17 121.98,162.67 122.31,163.18 122.65,163.71 122.99,164.23 123.33,164.77 123.66,165.31 124,165.85 124.34,166.4 124.67,166.95 125.01,167.5 125.35,168.04 125.69,168.57 126.02,169.1 126.36,169.61 126.7,170.11 127.04,170.59 127.37,171.06 127.71,171.52 128.05,171.96 128.39,172.39 128.72,172.79 129.06,173.19 129.4,173.57 129.73,173.93 130.07,174.28 130.41,174.61 130.75,174.93 131.08,175.24 131.42,175.53 131.76,175.81 132.1,176.08 132.43,176.34 132.77,176.59 133.11,176.83 133.45,177.06 133.78,177.29 134.12,177.5 134.46,177.71 134.8,177.91 135.13,178.1 135.47,178.28 135.81,178.47 136.14,178.64 136.48,178.81 136.82,178.97 137.16,179.13 137.49,179.29 137.83,179.44 138.17,179.59 138.51,179.73 138.84,179.87 139.18,180.01 139.52,180.14 139.86,180.27 140.19,180.4 140.53,180.52 140.87,180.65 141.21,180.77 141.54,180.88 141.88,181 142.22,181.11 142.55,181.23 142.89,181.33 143.23,181.44 143.57,181.55 143.9,181.65 144.24,181.75 144.58,181.86 144.92,181.95 145.25,182.05 145.59,182.15 145.93,182.24 146.27,182.34 146.6,182.43 146.94,182.52 147.28,182.61 147.62,182.7 147.95,182.79 148.29,182.87 148.63,182.96 148.96,183.04 149.3,183.13 149.64,183.21 149.98,183.29 150.31,183.37 150.65,183.45 150.99,183.53 151.33,183.61 151.66,183.68 152,183.76 152.34,183.83 152.68,183.91 153.01,183.98 153.35,184.05 153.69,184.12 154.02,184.19 154.36,184.26 154.7,184.33 155.04,184.4 155.37,184.46 155.71,184.53 156.05,184.6 156.39,184.66 156.72,184.72 157.06,184.79 157.4,184.85 157.74,184.91 158.07,184.97 158.41,185.03 158.75,185.09 159.09,185.15 159.42,185.2 159.76,185.26 160.1,185.32 160.43,185.37 160.77,185.43 161.11,185.48 161.45,185.53 161.78,185.58 162.12,185.64 162.46,185.69 162.8,185.74 163.13,185.78 163.47,185.83 163.81,185.88 164.15,185.93 164.48,185.97 164.82,186.02 165.16,186.06 165.5,186.11 165.83,186.15 166.17,186.19 166.51,186.23 166.84,186.27 167.18,186.31 167.52,186.35 167.86,186.39 168.19,186.43 168.53,186.46 168.87,186.5 169.21,186.53 169.54,186.57 169.88,186.6 170.22,186.63 170.56,186.67 170.89,186.7 171.23,186.73 171.57,186.76 171.91,186.79 172.24,186.81 172.58,186.84 172.92,186.87 173.25,186.89 173.59,186.92 173.93,186.94 174.27,186.97 174.6,186.99 174.94,187.01 175.28,187.03 175.62,187.05 175.95,187.07 176.29,187.09 176.63,187.11 176.97,187.12 177.3,187.14 177.64,187.16 177.98,187.17 178.31,187.18 178.65,187.2 178.99,187.21 179.33,187.22 179.66,187.23 180,187.24 180.34,187.25 180.68,187.26 181.01,187.27 181.35,187.27 181.69,187.28 182.03,187.29 182.36,187.29 182.7,187.29 183.04,187.3 183.38,187.3 183.71,187.3 184.05,187.3 184.39,187.3 184.72,187.3 185.06,187.3 185.4,187.29 185.74,187.29 186.07,187.29 186.41,187.28 186.75,187.28 187.09,187.27 187.42,187.26 187.76,187.26 188.1,187.25 188.44,187.24 188.77,187.23 189.11,187.22 189.45,187.21 189.79,187.19 190.12,187.18 190.46,187.17 190.8,187.15 191.13,187.14 191.47,187.12 191.81,187.11 192.15,187.09 192.48,187.07 192.82,187.05 193.16,187.03 193.5,187.01 193.83,186.99 194.17,186.97 194.51,186.95 194.85,186.92 195.18,186.9 195.52,186.87 195.86,186.85 196.19,186.82 196.53,186.8 196.87,186.77 197.21,186.74 197.54,186.71 197.88,186.68 198.22,186.65 198.56,186.62 198.89,186.59 199.23,186.56 199.57,186.52 199.91,186.49 200.24,186.46 200.58,186.42 200.92,186.38 201.26,186.35 201.59,186.31 201.93,186.27 202.27,186.23 202.6,186.19 202.94,186.15 203.28,186.11 203.62,186.07 203.95,186.03 204.29,185.98 204.63,185.94 204.97,185.9 205.3,185.85 205.64,185.8 205.98,185.76 206.32,185.71 206.65,185.66 206.99,185.61 207.33,185.56 207.67,185.51 208,185.46 208.34,185.41 208.68,185.36 209.01,185.31 209.35,185.25 209.69,185.2 210.03,185.14 210.36,185.09 210.7,185.03 211.04,184.97 211.38,184.91 211.71,184.86 212.05,184.8 212.39,184.74 212.73,184.67 213.06,184.61 213.4,184.55 213.74,184.49 214.08,184.42 214.41,184.36 214.75,184.29 215.09,184.23 215.42,184.16 215.76,184.09 216.1,184.02 216.44,183.95 216.77,183.88 217.11,183.81 217.45,183.74 217.79,183.67 218.12,183.59 218.46,183.52 218.8,183.44 219.14,183.37 219.47,183.29 219.81,183.21 220.15,183.13 220.48,183.05 220.82,182.97 221.16,182.89 221.5,182.81 221.83,182.72 222.17,182.64 222.51,182.55 222.85,182.46 223.18,182.37 223.52,182.28 223.86,182.19 224.2,182.1 224.53,182.01 224.87,181.91 225.21,181.82 225.55,181.72 225.88,181.62 226.22,181.52 226.56,181.42 226.89,181.31 227.23,181.21 227.57,181.1 227.91,180.99 228.24,180.88 228.58,180.77 228.92,180.65 229.26,180.53 229.59,180.41 229.93,180.29 230.27,180.17 230.61,180.04 230.94,179.91 231.28,179.77 231.62,179.64 231.96,179.5 232.29,179.35 232.63,179.2 232.97,179.05 233.3,178.9 233.64,178.74 233.98,178.57 234.32,178.4 234.65,178.22 234.99,178.04 235.33,177.86 235.67,177.66 236,177.46 236.34,177.26 236.68,177.04 237.02,176.82 237.35,176.59 237.69,176.35 238.03,176.1 238.37,175.84 238.7,175.57 239.04,175.29 239.38,174.99 239.71,174.69 240.05,174.37 240.39,174.04 240.73,173.7 241.06,173.34 241.4,172.97 241.74,172.58 242.08,172.18 242.41,171.76 242.75,171.33 243.09,170.89 243.43,170.43 243.76,169.96 244.1,169.47 244.44,168.98 244.78,168.47 245.11,167.96 245.45,167.44 245.79,166.91 246.12,166.38 246.46,165.85 246.8,165.29 247.14,164.73 247.47,164.17 247.81,163.62 248.15,163.08 248.49,162.55 248.82,162.03 249.16,161.52 249.5,161.03 249.84,160.56 250.17,160.1 250.51,159.65 250.85,159.22 251.18,158.81 251.52,158.41 251.86,158.03 252.2,157.67 252.53,157.32 252.87,156.99 253.21,156.66 253.55,156.36 253.88,156.06 254.22,155.78 254.56,155.51 254.9,155.25 255.23,155 255.57,154.76 255.91,154.53 256.25,154.31 256.58,154.09 256.92,153.89 257.26,153.69 257.59,153.5 257.93,153.31 258.27,153.13 258.61,152.95 258.94,152.79 259.28,152.62 259.62,152.46 259.96,152.31 260.29,152.16 260.63,152.01 260.97,151.87 261.31,151.73 261.64,151.59 261.98,151.46 262.32,151.33 262.66,151.2 262.99,151.07 263.33,150.95 263.67,150.83 264,150.71 264.34,150.6 264.68,150.48 265.02,150.37 265.35,150.26 265.69,150.15 266.03,150.05 266.37,149.94 266.7,149.84 267.04,149.74 267.38,149.64 267.72,149.54 268.05,149.45 268.39,149.35 268.73,149.26 269.07,149.17 269.4,149.07 269.74,148.98 270.08,148.89 270.41,148.81 270.75,148.72 271.09,148.63 271.43,148.55 271.76,148.47 272.1,148.38 272.44,148.3 272.78,148.22 273.11,148.14 273.45,148.07 273.79,147.99 274.13,147.91 274.46,147.84 274.8,147.76 275.14,147.69 275.47,147.62 275.81,147.54 276.15,147.47 276.49,147.4 276.82,147.33 277.16,147.26 277.5,147.2 277.84,147.13 278.17,147.06 278.51,147 278.85,146.94 279.19,146.87 279.52,146.81 279.86,146.75 280.2,146.69 280.54,146.63 280.87,146.57 281.21,146.51 281.55,146.45 281.88,146.39 282.22,146.34 282.56,146.28 282.9,146.23 283.23,146.17 283.57,146.12 283.91,146.07 284.25,146.02 284.58,145.97 284.92,145.92 285.26,145.87 285.6,145.82 285.93,145.77 286.27,145.73 286.61,145.68 286.95,145.64 287.28,145.59 287.62,145.55 287.96,145.51 288.29,145.46 288.63,145.42 288.97,145.38 289.31,145.34 289.64,145.3 289.98,145.27 290.32,145.23 290.66,145.19 290.99,145.16 291.33,145.12 291.67,145.09 292.01,145.06 292.34,145.02 292.68,144.99 293.02,144.96 293.36,144.93 293.69,144.9 294.03,144.87 294.37,144.85 294.7,144.82 295.04,144.79 295.38,144.77 295.72,144.75 296.05,144.72 296.39,144.7 296.73,144.68 297.07,144.66 297.4,144.64 297.74,144.62 298.08,144.6 298.42,144.58 298.75,144.56 299.09,144.55 299.43,144.53 299.76,144.52 300.1,144.51 300.44,144.49 300.78,144.48 301.11,144.47 301.45,144.46 301.79,144.45 302.13,144.44 302.46,144.43 302.8,144.43 303.14,144.42 303.48,144.41 303.81,144.41 304.15,144.41 304.49,144.4 304.83,144.4 305.16,144.4 305.5,144.4"/>
<polyline fill="none" stroke="#ee8234" stroke-width="2.0" stroke-linejoin="round"  points="62.6,158.3 62.94,158.3 63.27,158.3 63.61,158.3 63.95,158.31 64.29,158.31 64.62,158.32 64.96,158.32 65.3,158.33 65.64,158.34 65.97,158.34 66.31,158.35 66.65,158.36 66.99,158.37 67.32,158.39 67.66,158.4 68,158.41 68.34,158.43 68.67,158.44 69.01,158.46 69.35,158.47 69.68,158.49 70.02,158.51 70.36,158.53 70.7,158.55 71.03,158.57 71.37,158.59 71.71,158.62 72.05,158.64 72.38,158.67 72.72,158.69 73.06,158.72 73.4,158.74 73.73,158.77 74.07,158.8 74.41,158.83 74.75,158.86 75.08,158.89 75.42,158.93 75.76,158.96 76.09,158.99 76.43,159.03 76.77,159.06 77.11,159.1 77.44,159.14 77.78,159.18 78.12,159.22 78.46,159.26 78.79,159.3 79.13,159.34 79.47,159.38 79.81,159.43 80.14,159.47 80.48,159.51 80.82,159.56 81.15,159.61 81.49,159.66 81.83,159.7 82.17,159.75 82.5,159.8 82.84,159.85 83.18,159.91 83.52,159.96 83.85,160.01 84.19,160.07 84.53,160.12 84.87,160.18 85.2,160.23 85.54,160.29 85.88,160.35 86.22,160.41 86.55,160.47 86.89,160.53 87.23,160.59 87.56,160.66 87.9,160.72 88.24,160.78 88.58,160.85 88.91,160.92 89.25,160.98 89.59,161.05 89.93,161.12 90.26,161.19 90.6,161.26 90.94,161.33 91.28,161.4 91.61,161.48 91.95,161.55 92.29,161.63 92.63,161.7 92.96,161.78 93.3,161.86 93.64,161.94 93.97,162.02 94.31,162.1 94.65,162.18 94.99,162.26 95.32,162.35 95.66,162.43 96,162.52 96.34,162.6 96.67,162.69 97.01,162.78 97.35,162.87 97.69,162.96 98.02,163.05 98.36,163.15 98.7,163.24 99.03,163.34 99.37,163.44 99.71,163.53 100.05,163.63 100.38,163.74 100.72,163.84 101.06,163.94 101.4,164.05 101.73,164.15 102.07,164.26 102.41,164.37 102.75,164.48 103.08,164.6 103.42,164.71 103.76,164.83 104.1,164.95 104.43,165.07 104.77,165.19 105.11,165.32 105.44,165.44 105.78,165.57 106.12,165.71 106.46,165.84 106.79,165.98 107.13,166.12 107.47,166.26 107.81,166.4 108.14,166.55 108.48,166.7 108.82,166.86 109.16,167.02 109.49,167.18 109.83,167.34 110.17,167.51 110.51,167.69 110.84,167.86 111.18,168.05 111.52,168.23 111.85,168.42 112.19,168.62 112.53,168.82 112.87,169.03 113.2,169.24 113.54,169.46 113.88,169.69 114.22,169.92 114.55,170.15 114.89,170.4 115.23,170.65 115.57,170.9 115.9,171.17 116.24,171.44 116.58,171.72 116.92,172 117.25,172.29 117.59,172.59 117.93,172.9 118.26,173.21 118.6,173.53 118.94,173.85 119.28,174.18 119.61,174.51 119.95,174.85 120.29,175.2 120.63,175.54 120.96,175.89 121.3,176.24 121.64,176.6 121.98,176.95 122.31,177.29 122.65,177.63 122.99,177.96 123.33,178.3 123.66,178.63 124,178.96 124.34,179.28 124.67,179.6 125.01,179.92 125.35,180.23 125.69,180.54 126.02,180.84 126.36,181.14 126.7,181.42 127.04,181.71 127.37,181.98 127.71,182.26 128.05,182.52 128.39,182.78 128.72,183.03 129.06,183.27 129.4,183.51 129.73,183.75 130.07,183.97 130.41,184.19 130.75,184.41 131.08,184.62 131.42,184.82 131.76,185.02 132.1,185.22 132.43,185.41 132.77,185.59 133.11,185.77 133.45,185.95 133.78,186.12 134.12,186.29 134.46,186.45 134.8,186.62 135.13,186.77 135.47,186.93 135.81,187.08 136.14,187.22 136.48,187.37 136.82,187.51 137.16,187.65 137.49,187.78 137.83,187.92 138.17,188.05 138.51,188.18 138.84,188.3 139.18,188.43 139.52,188.55 139.86,188.67 140.19,188.79 140.53,188.9 140.87,189.02 141.21,189.13 141.54,189.24 141.88,189.35 142.22,189.46 142.55,189.57 142.89,189.67 143.23,189.77 143.57,189.88 143.9,189.98 144.24,190.08 144.58,190.17 144.92,190.27 145.25,190.37 145.59,190.46 145.93,190.55 146.27,190.64 146.6,190.74 146.94,190.83 147.28,190.91 147.62,191 147.95,191.09 148.29,191.17 148.63,191.26 148.96,191.34 149.3,191.42 149.64,191.51 149.98,191.59 150.31,191.67 150.65,191.75 150.99,191.82 151.33,191.9 151.66,191.98 152,192.05 152.34,192.13 152.68,192.2 153.01,192.27 153.35,192.34 153.69,192.42 154.02,192.49 154.36,192.56 154.7,192.62 155.04,192.69 155.37,192.76 155.71,192.82 156.05,192.89 156.39,192.95 156.72,193.02 157.06,193.08 157.4,193.14 157.74,193.2 158.07,193.27 158.41,193.33 158.75,193.38 159.09,193.44 159.42,193.5 159.76,193.56 160.1,193.61 160.43,193.67 160.77,193.72 161.11,193.78 161.45,193.83 161.78,193.88 162.12,193.93 162.46,193.98 162.8,194.03 163.13,194.08 163.47,194.13 163.81,194.18 164.15,194.22 164.48,194.27 164.82,194.32 165.16,194.36 165.5,194.4 165.83,194.45 166.17,194.49 166.51,194.53 166.84,194.57 167.18,194.61 167.52,194.65 167.86,194.69 168.19,194.72 168.53,194.76 168.87,194.8 169.21,194.83 169.54,194.87 169.88,194.9 170.22,194.93 170.56,194.96 170.89,195 171.23,195.03 171.57,195.06 171.91,195.09 172.24,195.11 172.58,195.14 172.92,195.17 173.25,195.19 173.59,195.22 173.93,195.24 174.27,195.27 174.6,195.29 174.94,195.31 175.28,195.33 175.62,195.35 175.95,195.37 176.29,195.39 176.63,195.41 176.97,195.42 177.3,195.44 177.64,195.46 177.98,195.47 178.31,195.48 178.65,195.5 178.99,195.51 179.33,195.52 179.66,195.53 180,195.54 180.34,195.55 180.68,195.56 181.01,195.57 181.35,195.57 181.69,195.58 182.03,195.59 182.36,195.59 182.7,195.59 183.04,195.6 183.38,195.6 183.71,195.6 184.05,195.6 184.39,195.6 184.72,195.6 185.06,195.6 185.4,195.59 185.74,195.59 186.07,195.59 186.41,195.58 186.75,195.58 187.09,195.57 187.42,195.56 187.76,195.55 188.1,195.54 188.44,195.53 188.77,195.52 189.11,195.51 189.45,195.5 189.79,195.49 190.12,195.47 190.46,195.46 190.8,195.44 191.13,195.43 191.47,195.41 191.81,195.39 192.15,195.38 192.48,195.36 192.82,195.34 193.16,195.32 193.5,195.29 193.83,195.27 194.17,195.25 194.51,195.23 194.85,195.2 195.18,195.18 195.52,195.15 195.86,195.12 196.19,195.1 196.53,195.07 196.87,195.04 197.21,195.01 197.54,194.98 197.88,194.95 198.22,194.91 198.56,194.88 198.89,194.85 199.23,194.81 199.57,194.78 199.91,194.74 200.24,194.71 200.58,194.67 200.92,194.63 201.26,194.59 201.59,194.55 201.93,194.51 202.27,194.47 202.6,194.43 202.94,194.39 203.28,194.34 203.62,194.3 203.95,194.25 204.29,194.21 204.63,194.16 204.97,194.11 205.3,194.07 205.64,194.02 205.98,193.97 206.32,193.92 206.65,193.87 206.99,193.81 207.33,193.76 207.67,193.71 208,193.66 208.34,193.6 208.68,193.54 209.01,193.49 209.35,193.43 209.69,193.37 210.03,193.32 210.36,193.26 210.7,193.2 211.04,193.13 211.38,193.07 211.71,193.01 212.05,192.95 212.39,192.88 212.73,192.82 213.06,192.75 213.4,192.69 213.74,192.62 214.08,192.55 214.41,192.48 214.75,192.41 215.09,192.34 215.42,192.27 215.76,192.2 216.1,192.13 216.44,192.05 216.77,191.98 217.11,191.9 217.45,191.83 217.79,191.75 218.12,191.67 218.46,191.59 218.8,191.51 219.14,191.43 219.47,191.35 219.81,191.27 220.15,191.19 220.48,191.1 220.82,191.02 221.16,190.93 221.5,190.84 221.83,190.75 222.17,190.66 222.51,190.57 222.85,190.48 223.18,190.39 223.52,190.29 223.86,190.2 224.2,190.1 224.53,190.01 224.87,189.91 225.21,189.81 225.55,189.7 225.88,189.6 226.22,189.5 226.56,189.39 226.89,189.28 227.23,189.17 227.57,189.06 227.91,188.95 228.24,188.84 228.58,188.72 228.92,188.6 229.26,188.48 229.59,188.36 229.93,188.24 230.27,188.11 230.61,187.98 230.94,187.85 231.28,187.72 231.62,187.58 231.96,187.44 232.29,187.3 232.63,187.16 232.97,187.01 233.3,186.86 233.64,186.71 233.98,186.55 234.32,186.39 234.65,186.23 234.99,186.06 235.33,185.89 235.67,185.71 236,185.53 236.34,185.35 236.68,185.16 237.02,184.96 237.35,184.76 237.69,184.56 238.03,184.35 238.37,184.14 238.7,183.92 239.04,183.69 239.38,183.46 239.71,183.22 240.05,182.98 240.39,182.73 240.73,182.47 241.06,182.21 241.4,181.94 241.74,181.66 242.08,181.38 242.41,181.09 242.75,180.8 243.09,180.5 243.43,180.2 243.76,179.89 244.1,179.58 244.44,179.26 244.78,178.94 245.11,178.61 245.45,178.28 245.79,177.95 246.12,177.62 246.46,177.28 246.8,176.95 247.14,176.59 247.47,176.24 247.81,175.88 248.15,175.53 248.49,175.18 248.82,174.83 249.16,174.49 249.5,174.15 249.84,173.82 250.17,173.49 250.51,173.17 250.85,172.86 251.18,172.55 251.52,172.25 251.86,171.95 252.2,171.67 252.53,171.39 252.87,171.11 253.21,170.85 253.55,170.59 253.88,170.34 254.22,170.09 254.56,169.85 254.9,169.62 255.23,169.4 255.57,169.18 255.91,168.96 256.25,168.76 256.58,168.55 256.92,168.36 257.26,168.16 257.59,167.98 257.93,167.8 258.27,167.62 258.61,167.44 258.94,167.27 259.28,167.11 259.62,166.95 259.96,166.79 260.29,166.63 260.63,166.48 260.97,166.33 261.31,166.19 261.64,166.05 261.98,165.91 262.32,165.77 262.66,165.63 262.99,165.5 263.33,165.37 263.67,165.25 264,165.12 264.34,165 264.68,164.88 265.02,164.76 265.35,164.64 265.69,164.52 266.03,164.41 266.37,164.3 266.7,164.19 267.04,164.08 267.38,163.97 267.72,163.87 268.05,163.76 268.39,163.66 268.73,163.56 269.07,163.46 269.4,163.36 269.74,163.26 270.08,163.17 270.41,163.07 270.75,162.98 271.09,162.89 271.43,162.8 271.76,162.7 272.1,162.62 272.44,162.53 272.78,162.44 273.11,162.35 273.45,162.27 273.79,162.19 274.13,162.1 274.46,162.02 274.8,161.94 275.14,161.86 275.47,161.78 275.81,161.7 276.15,161.63 276.49,161.55 276.82,161.48 277.16,161.4 277.5,161.33 277.84,161.26 278.17,161.19 278.51,161.11 278.85,161.05 279.19,160.98 279.52,160.91 279.86,160.84 280.2,160.78 280.54,160.71 280.87,160.65 281.21,160.58 281.55,160.52 281.88,160.46 282.22,160.4 282.56,160.34 282.9,160.28 283.23,160.22 283.57,160.16 283.91,160.11 284.25,160.05 284.58,160 284.92,159.94 285.26,159.89 285.6,159.84 285.93,159.79 286.27,159.74 286.61,159.69 286.95,159.64 287.28,159.59 287.62,159.54 287.96,159.5 288.29,159.45 288.63,159.41 288.97,159.36 289.31,159.32 289.64,159.28 289.98,159.24 290.32,159.2 290.66,159.16 290.99,159.12 291.33,159.08 291.67,159.05 292.01,159.01 292.34,158.98 292.68,158.94 293.02,158.91 293.36,158.88 293.69,158.84 294.03,158.81 294.37,158.78 294.7,158.76 295.04,158.73 295.38,158.7 295.72,158.67 296.05,158.65 296.39,158.62 296.73,158.6 297.07,158.58 297.4,158.56 297.74,158.54 298.08,158.52 298.42,158.5 298.75,158.48 299.09,158.46 299.43,158.44 299.76,158.43 300.1,158.41 300.44,158.4 300.78,158.39 301.11,158.38 301.45,158.36 301.79,158.35 302.13,158.34 302.46,158.34 302.8,158.33 303.14,158.32 303.48,158.32 303.81,158.31 304.15,158.31 304.49,158.3 304.83,158.3 305.16,158.3 305.5,158.3"/>
<rect x="278.2" y="36.5" width="6.6" height="141" fill="url(#garr)"/>
<path d="M275.2,176 L287.8,176 L281.5,186.5 Z" fill="#d4702c"/>
<rect x="62.6" y="16.0" width="242.9" height="194.9" fill="none" stroke="#262626" stroke-width="1.3"/>
<line x1="62.6" y1="210.9" x2="62.6" y2="206.9" stroke="#262626" stroke-width="1.2" />
<line x1="92.96" y1="210.9" x2="92.96" y2="208.4" stroke="#262626" stroke-width="1.2" />
<line x1="123.33" y1="210.9" x2="123.33" y2="206.9" stroke="#262626" stroke-width="1.2" />
<line x1="153.69" y1="210.9" x2="153.69" y2="208.4" stroke="#262626" stroke-width="1.2" />
<line x1="184.05" y1="210.9" x2="184.05" y2="206.9" stroke="#262626" stroke-width="1.2" />
<line x1="214.41" y1="210.9" x2="214.41" y2="208.4" stroke="#262626" stroke-width="1.2" />
<line x1="244.78" y1="210.9" x2="244.78" y2="206.9" stroke="#262626" stroke-width="1.2" />
<line x1="275.14" y1="210.9" x2="275.14" y2="208.4" stroke="#262626" stroke-width="1.2" />
<line x1="305.5" y1="210.9" x2="305.5" y2="206.9" stroke="#262626" stroke-width="1.2" />
<text transform="translate(62.9,228.8) scale(1.07,1)" font-size="17" text-anchor="middle" stroke="#000" stroke-width="0.3" >0</text>
<text transform="translate(123.62,228.8) scale(1.07,1)" font-size="17" text-anchor="middle" stroke="#000" stroke-width="0.3" >90</text>
<text transform="translate(184.35,228.8) scale(1.07,1)" font-size="17" text-anchor="middle" stroke="#000" stroke-width="0.3" >180</text>
<text transform="translate(245.08,228.8) scale(1.07,1)" font-size="17" text-anchor="middle" stroke="#000" stroke-width="0.3" >270</text>
<text transform="translate(305.8,228.8) scale(1.07,1)" font-size="17" text-anchor="middle" stroke="#000" stroke-width="0.3" >360</text>
<text transform="translate(184,248.5) scale(1.03,1)" font-size="18" text-anchor="middle" stroke="#000" stroke-width="0.3" ><tspan font-style="italic">&#946;</tspan> (&#176;)</text>
<text transform="translate(43,112.6) rotate(-90) scale(1.08,1)" font-size="17" text-anchor="middle" stroke="#000" stroke-width="0.3" ><tspan font-style="italic">R</tspan><tspan font-style="italic" font-size="12" dy="5">xy</tspan><tspan dy="-5"> (arb. unit)</tspan></text>
<line x1="73.2" y1="176.4" x2="73.2" y2="202.2" stroke="#222" stroke-width="1.3" />
<line x1="71.5" y1="176.6" x2="75" y2="176.6" stroke="#222" stroke-width="1.2" />
<line x1="71.5" y1="202" x2="75" y2="202" stroke="#222" stroke-width="1.2" />
<text transform="translate(77.6,194.8) scale(1.07,1)" font-size="17" stroke="#000" stroke-width="0.3" >0.5 &#937;</text>
<text transform="translate(282.8,31.7) scale(1.07,1)" font-size="16" text-anchor="middle" stroke="#000" stroke-width="0.3" >5 K</text>
<text transform="translate(278,200.5) scale(1.07,1)" font-size="16" text-anchor="middle" stroke="#000" stroke-width="0.3" >300 K</text>
<text transform="translate(31.2,35.2) scale(1.0,1)" font-size="22" font-weight="bold">a</text>
</g>
<g id="pb">
<circle cx="560.15" cy="117.0" r="30.5" fill="none" stroke="#c4c4c4" stroke-width="0.8" stroke-dasharray="2.5,2"/>
<circle cx="560.15" cy="117.0" r="74.2" fill="none" stroke="#c4c4c4" stroke-width="0.8" stroke-dasharray="2.5,2"/>
<line x1="560.15" y1="117" x2="657.15" y2="117" stroke="#d0d0d0" stroke-width="0.9" />
<line x1="560.15" y1="117" x2="628.74" y2="48.41" stroke="#ececec" stroke-width="0.9" />
<line x1="560.15" y1="117" x2="560.15" y2="20" stroke="#d0d0d0" stroke-width="0.9" />
<line x1="560.15" y1="117" x2="491.56" y2="48.41" stroke="#ececec" stroke-width="0.9" />
<line x1="560.15" y1="117" x2="463.15" y2="117" stroke="#d0d0d0" stroke-width="0.9" />
<line x1="560.15" y1="117" x2="491.56" y2="185.59" stroke="#ececec" stroke-width="0.9" />
<line x1="560.15" y1="117" x2="560.15" y2="214" stroke="#d0d0d0" stroke-width="0.9" />
<line x1="560.15" y1="117" x2="628.74" y2="185.59" stroke="#ececec" stroke-width="0.9" />
<polyline fill="none" stroke="#a9d68e" stroke-width="1" stroke-linejoin="round" stroke-dasharray="3,2.5" points="641.07,117 640.8,109.94 639.84,102.95 638.19,96.09 635.87,89.44 632.89,83.08 629.28,77.09 625.05,71.55 620.25,66.57 614.9,62.25 609.04,58.74 602.73,56.2 596.02,54.87 589.01,55.1 581.85,57.38 574.78,62.39 568.26,70.99 563.05,83.87 560.15,104.68 559.08,104.73 554.52,85.09 548.12,72.09 541.34,65.31 534.57,62.15 527.92,61.17 521.42,61.69 515.14,63.36 509.14,65.99 503.49,69.45 498.27,73.67 493.55,78.55 489.4,84.01 485.89,89.97 483.08,96.35 481.01,103.05 479.71,109.96 479.22,117 479.51,124.06 480.57,131.03 482.39,137.84 484.93,144.38 488.17,150.56 492.05,156.32 496.52,161.55 501.51,166.2 506.96,170.19 512.8,173.43 518.95,175.84 525.33,177.3 531.88,177.62 538.52,176.44 545.12,173.07 551.49,166.1 557.01,152.83 560.15,129.72 561.26,129.67 566.16,151.1 573.23,165.8 580.69,173.43 587.99,176.7 594.98,177.33 601.63,176.23 607.89,173.89 613.73,170.58 619.12,166.48 624.01,161.71 628.36,156.38 632.12,150.56 635.27,144.34 637.76,137.8 639.58,131 640.69,124.05 641.07,117"/>
<g fill="#69b43f" fill-opacity="0.64"><circle cx="641.07" cy="117" r="3.95"/><circle cx="640.8" cy="109.94" r="3.95"/><circle cx="639.84" cy="102.95" r="3.95"/><circle cx="638.19" cy="96.09" r="3.95"/><circle cx="635.87" cy="89.44" r="3.95"/><circle cx="632.89" cy="83.08" r="3.95"/><circle cx="629.28" cy="77.09" r="3.95"/><circle cx="625.05" cy="71.55" r="3.95"/><circle cx="620.25" cy="66.57" r="3.95"/><circle cx="614.9" cy="62.25" r="3.95"/><circle cx="609.04" cy="58.74" r="3.95"/><circle cx="602.73" cy="56.2" r="3.95"/><circle cx="596.02" cy="54.87" r="3.95"/><circle cx="589.01" cy="55.1" r="3.95"/><circle cx="581.85" cy="57.38" r="3.95"/><circle cx="574.78" cy="62.39" r="3.95"/><circle cx="568.26" cy="70.99" r="3.95"/><circle cx="563.05" cy="83.87" r="3.95"/><circle cx="560.15" cy="104.68" r="3.95"/><circle cx="559.08" cy="104.73" r="3.95"/><circle cx="554.52" cy="85.09" r="3.95"/><circle cx="548.12" cy="72.09" r="3.95"/><circle cx="541.34" cy="65.31" r="3.95"/><circle cx="534.57" cy="62.15" r="3.95"/><circle cx="527.92" cy="61.17" r="3.95"/><circle cx="521.42" cy="61.69" r="3.95"/><circle cx="515.14" cy="63.36" r="3.95"/><circle cx="509.14" cy="65.99" r="3.95"/><circle cx="503.49" cy="69.45" r="3.95"/><circle cx="498.27" cy="73.67" r="3.95"/><circle cx="493.55" cy="78.55" r="3.95"/><circle cx="489.4" cy="84.01" r="3.95"/><circle cx="485.89" cy="89.97" r="3.95"/><circle cx="483.08" cy="96.35" r="3.95"/><circle cx="481.01" cy="103.05" r="3.95"/><circle cx="479.71" cy="109.96" r="3.95"/><circle cx="479.22" cy="117" r="3.95"/><circle cx="479.51" cy="124.06" r="3.95"/><circle cx="480.57" cy="131.03" r="3.95"/><circle cx="482.39" cy="137.84" r="3.95"/><circle cx="484.93" cy="144.38" r="3.95"/><circle cx="488.17" cy="150.56" r="3.95"/><circle cx="492.05" cy="156.32" r="3.95"/><circle cx="496.52" cy="161.55" r="3.95"/><circle cx="501.51" cy="166.2" r="3.95"/><circle cx="506.96" cy="170.19" r="3.95"/><circle cx="512.8" cy="173.43" r="3.95"/><circle cx="518.95" cy="175.84" r="3.95"/><circle cx="525.33" cy="177.3" r="3.95"/><circle cx="531.88" cy="177.62" r="3.95"/><circle cx="538.52" cy="176.44" r="3.95"/><circle cx="545.12" cy="173.07" r="3.95"/><circle cx="551.49" cy="166.1" r="3.95"/><circle cx="557.01" cy="152.83" r="3.95"/><circle cx="560.15" cy="129.72" r="3.95"/><circle cx="561.26" cy="129.67" r="3.95"/><circle cx="566.16" cy="151.1" r="3.95"/><circle cx="573.23" cy="165.8" r="3.95"/><circle cx="580.69" cy="173.43" r="3.95"/><circle cx="587.99" cy="176.7" r="3.95"/><circle cx="594.98" cy="177.33" r="3.95"/><circle cx="601.63" cy="176.23" r="3.95"/><circle cx="607.89" cy="173.89" r="3.95"/><circle cx="613.73" cy="170.58" r="3.95"/><circle cx="619.12" cy="166.48" r="3.95"/><circle cx="624.01" cy="161.71" r="3.95"/><circle cx="628.36" cy="156.38" r="3.95"/><circle cx="632.12" cy="150.56" r="3.95"/><circle cx="635.27" cy="144.34" r="3.95"/><circle cx="637.76" cy="137.8" r="3.95"/><circle cx="639.58" cy="131" r="3.95"/><circle cx="640.69" cy="124.05" r="3.95"/><circle cx="641.07" cy="117" r="3.95"/></g>
<polyline fill="none" stroke="#c9a3f7" stroke-width="1" stroke-linejoin="round" stroke-dasharray="3,2.5" points="648.01,117 647.79,109.33 646.62,101.75 644.54,94.39 641.57,87.37 637.77,80.8 633.22,74.81 628.01,69.48 622.22,64.91 615.97,61.18 609.36,58.35 602.52,56.49 595.54,55.7 588.55,56.09 581.67,57.88 575.01,61.53 568.79,67.99 563.46,79.14 560.15,106.32 559.22,106.36 555.22,89.03 548.43,73.27 540.37,62.64 531.99,56.62 523.8,54.05 516.03,53.98 508.76,55.76 502.08,58.93 496,63.17 490.57,68.28 485.8,74.07 481.71,80.42 478.34,87.22 475.69,94.37 473.77,101.77 472.6,109.34 472.2,117 472.53,124.67 473.7,132.24 475.69,139.63 478.47,146.73 482,153.44 486.22,159.68 491.09,165.36 496.52,170.39 502.45,174.7 508.79,178.2 515.48,180.8 522.43,182.34 529.55,182.62 536.78,181.22 543.98,177.34 550.93,169.31 556.91,154.05 560.15,129.14 561.21,129.09 565.81,149.1 572.59,163.44 579.97,171.45 587.39,175.43 594.72,176.87 601.86,176.57 608.76,174.94 615.35,172.2 621.54,168.51 627.26,163.99 632.42,158.73 636.96,152.82 640.79,146.35 643.87,139.43 646.13,132.16 647.55,124.65 648.01,117"/>
<g fill="#7f08ef" fill-opacity="0.32"><circle cx="648.01" cy="117" r="3.95"/><circle cx="647.79" cy="109.33" r="3.95"/><circle cx="646.62" cy="101.75" r="3.95"/><circle cx="644.54" cy="94.39" r="3.95"/><circle cx="641.57" cy="87.37" r="3.95"/><circle cx="637.77" cy="80.8" r="3.95"/><circle cx="633.22" cy="74.81" r="3.95"/><circle cx="628.01" cy="69.48" r="3.95"/><circle cx="622.22" cy="64.91" r="3.95"/><circle cx="615.97" cy="61.18" r="3.95"/><circle cx="609.36" cy="58.35" r="3.95"/><circle cx="602.52" cy="56.49" r="3.95"/><circle cx="595.54" cy="55.7" r="3.95"/><circle cx="588.55" cy="56.09" r="3.95"/><circle cx="581.67" cy="57.88" r="3.95"/><circle cx="575.01" cy="61.53" r="3.95"/><circle cx="568.79" cy="67.99" r="3.95"/><circle cx="563.46" cy="79.14" r="3.95"/><circle cx="560.15" cy="106.32" r="3.95"/><circle cx="559.22" cy="106.36" r="3.95"/><circle cx="555.22" cy="89.03" r="3.95"/><circle cx="548.43" cy="73.27" r="3.95"/><circle cx="540.37" cy="62.64" r="3.95"/><circle cx="531.99" cy="56.62" r="3.95"/><circle cx="523.8" cy="54.05" r="3.95"/><circle cx="516.03" cy="53.98" r="3.95"/><circle cx="508.76" cy="55.76" r="3.95"/><circle cx="502.08" cy="58.93" r="3.95"/><circle cx="496" cy="63.17" r="3.95"/><circle cx="490.57" cy="68.28" r="3.95"/><circle cx="485.8" cy="74.07" r="3.95"/><circle cx="481.71" cy="80.42" r="3.95"/><circle cx="478.34" cy="87.22" r="3.95"/><circle cx="475.69" cy="94.37" r="3.95"/><circle cx="473.77" cy="101.77" r="3.95"/><circle cx="472.6" cy="109.34" r="3.95"/><circle cx="472.2" cy="117" r="3.95"/><circle cx="472.53" cy="124.67" r="3.95"/><circle cx="473.7" cy="132.24" r="3.95"/><circle cx="475.69" cy="139.63" r="3.95"/><circle cx="478.47" cy="146.73" r="3.95"/><circle cx="482" cy="153.44" r="3.95"/><circle cx="486.22" cy="159.68" r="3.95"/><circle cx="491.09" cy="165.36" r="3.95"/><circle cx="496.52" cy="170.39" r="3.95"/><circle cx="502.45" cy="174.7" r="3.95"/><circle cx="508.79" cy="178.2" r="3.95"/><circle cx="515.48" cy="180.8" r="3.95"/><circle cx="522.43" cy="182.34" r="3.95"/><circle cx="529.55" cy="182.62" r="3.95"/><circle cx="536.78" cy="181.22" r="3.95"/><circle cx="543.98" cy="177.34" r="3.95"/><circle cx="550.93" cy="169.31" r="3.95"/><circle cx="556.91" cy="154.05" r="3.95"/><circle cx="560.15" cy="129.14" r="3.95"/><circle cx="561.21" cy="129.09" r="3.95"/><circle cx="565.81" cy="149.1" r="3.95"/><circle cx="572.59" cy="163.44" r="3.95"/><circle cx="579.97" cy="171.45" r="3.95"/><circle cx="587.39" cy="175.43" r="3.95"/><circle cx="594.72" cy="176.87" r="3.95"/><circle cx="601.86" cy="176.57" r="3.95"/><circle cx="608.76" cy="174.94" r="3.95"/><circle cx="615.35" cy="172.2" r="3.95"/><circle cx="621.54" cy="168.51" r="3.95"/><circle cx="627.26" cy="163.99" r="3.95"/><circle cx="632.42" cy="158.73" r="3.95"/><circle cx="636.96" cy="152.82" r="3.95"/><circle cx="640.79" cy="146.35" r="3.95"/><circle cx="643.87" cy="139.43" r="3.95"/><circle cx="646.13" cy="132.16" r="3.95"/><circle cx="647.55" cy="124.65" r="3.95"/><circle cx="648.01" cy="117" r="3.95"/></g>
<polyline fill="none" stroke="#fbc9a0" stroke-width="1" stroke-linejoin="round" stroke-dasharray="3,2.5" points="633.71,117 633.43,110.59 632.35,104.27 630.48,98.15 627.85,92.36 624.47,87.01 620.4,82.22 615.67,78.12 610.36,74.87 604.54,72.61 598.33,71.5 591.86,71.72 585.32,73.41 578.94,76.71 573.01,81.68 567.87,88.2 563.88,95.87 561.32,103.66 560.15,109.25 559.47,109.28 557.82,103.81 554.6,96.28 549.95,88.98 544.26,82.93 537.92,78.5 531.28,75.77 524.62,74.65 518.15,75 512.06,76.65 506.46,79.41 501.45,83.11 497.1,87.6 493.46,92.73 490.56,98.35 488.44,104.36 487.11,110.61 486.59,117 486.87,123.41 487.95,129.73 489.82,135.85 492.45,141.64 495.83,146.99 499.9,151.78 504.63,155.88 509.94,159.13 515.76,161.39 521.97,162.5 528.44,162.28 534.98,160.59 541.36,157.29 547.29,152.32 552.43,145.8 556.42,138.13 558.98,130.34 560.15,124.75 560.83,124.72 562.48,130.19 565.7,137.72 570.35,145.02 576.04,151.07 582.38,155.5 589.02,158.23 595.68,159.35 602.15,159 608.24,157.35 613.84,154.59 618.85,150.89 623.2,146.4 626.84,141.27 629.74,135.65 631.86,129.64 633.19,123.39 633.71,117"/>
<g fill="#f99b4b" fill-opacity="0.64"><circle cx="633.71" cy="117" r="3.95"/><circle cx="633.43" cy="110.59" r="3.95"/><circle cx="632.35" cy="104.27" r="3.95"/><circle cx="630.48" cy="98.15" r="3.95"/><circle cx="627.85" cy="92.36" r="3.95"/><circle cx="624.47" cy="87.01" r="3.95"/><circle cx="620.4" cy="82.22" r="3.95"/><circle cx="615.67" cy="78.12" r="3.95"/><circle cx="610.36" cy="74.87" r="3.95"/><circle cx="604.54" cy="72.61" r="3.95"/><circle cx="598.33" cy="71.5" r="3.95"/><circle cx="591.86" cy="71.72" r="3.95"/><circle cx="585.32" cy="73.41" r="3.95"/><circle cx="578.94" cy="76.71" r="3.95"/><circle cx="573.01" cy="81.68" r="3.95"/><circle cx="567.87" cy="88.2" r="3.95"/><circle cx="563.88" cy="95.87" r="3.95"/><circle cx="561.32" cy="103.66" r="3.95"/><circle cx="560.15" cy="109.25" r="3.95"/><circle cx="559.47" cy="109.28" r="3.95"/><circle cx="557.82" cy="103.81" r="3.95"/><circle cx="554.6" cy="96.28" r="3.95"/><circle cx="549.95" cy="88.98" r="3.95"/><circle cx="544.26" cy="82.93" r="3.95"/><circle cx="537.92" cy="78.5" r="3.95"/><circle cx="531.28" cy="75.77" r="3.95"/><circle cx="524.62" cy="74.65" r="3.95"/><circle cx="518.15" cy="75" r="3.95"/><circle cx="512.06" cy="76.65" r="3.95"/><circle cx="506.46" cy="79.41" r="3.95"/><circle cx="501.45" cy="83.11" r="3.95"/><circle cx="497.1" cy="87.6" r="3.95"/><circle cx="493.46" cy="92.73" r="3.95"/><circle cx="490.56" cy="98.35" r="3.95"/><circle cx="488.44" cy="104.36" r="3.95"/><circle cx="487.11" cy="110.61" r="3.95"/><circle cx="486.59" cy="117" r="3.95"/><circle cx="486.87" cy="123.41" r="3.95"/><circle cx="487.95" cy="129.73" r="3.95"/><circle cx="489.82" cy="135.85" r="3.95"/><circle cx="492.45" cy="141.64" r="3.95"/><circle cx="495.83" cy="146.99" r="3.95"/><circle cx="499.9" cy="151.78" r="3.95"/><circle cx="504.63" cy="155.88" r="3.95"/><circle cx="509.94" cy="159.13" r="3.95"/><circle cx="515.76" cy="161.39" r="3.95"/><circle cx="521.97" cy="162.5" r="3.95"/><circle cx="528.44" cy="162.28" r="3.95"/><circle cx="534.98" cy="160.59" r="3.95"/><circle cx="541.36" cy="157.29" r="3.95"/><circle cx="547.29" cy="152.32" r="3.95"/><circle cx="552.43" cy="145.8" r="3.95"/><circle cx="556.42" cy="138.13" r="3.95"/><circle cx="558.98" cy="130.34" r="3.95"/><circle cx="560.15" cy="124.75" r="3.95"/><circle cx="560.83" cy="124.72" r="3.95"/><circle cx="562.48" cy="130.19" r="3.95"/><circle cx="565.7" cy="137.72" r="3.95"/><circle cx="570.35" cy="145.02" r="3.95"/><circle cx="576.04" cy="151.07" r="3.95"/><circle cx="582.38" cy="155.5" r="3.95"/><circle cx="589.02" cy="158.23" r="3.95"/><circle cx="595.68" cy="159.35" r="3.95"/><circle cx="602.15" cy="159" r="3.95"/><circle cx="608.24" cy="157.35" r="3.95"/><circle cx="613.84" cy="154.59" r="3.95"/><circle cx="618.85" cy="150.89" r="3.95"/><circle cx="623.2" cy="146.4" r="3.95"/><circle cx="626.84" cy="141.27" r="3.95"/><circle cx="629.74" cy="135.65" r="3.95"/><circle cx="631.86" cy="129.64" r="3.95"/><circle cx="633.19" cy="123.39" r="3.95"/><circle cx="633.71" cy="117" r="3.95"/></g>
<ellipse cx="560.15" cy="117.0" rx="97.25" ry="96.6" fill="none" stroke="#111" stroke-width="1.4"/>
<line x1="657.15" y1="117" x2="653.65" y2="117" stroke="#111" stroke-width="1.2" />
<line x1="628.74" y1="48.41" x2="626.97" y2="50.18" stroke="#111" stroke-width="1.2" />
<line x1="560.15" y1="20" x2="560.15" y2="23.5" stroke="#111" stroke-width="1.2" />
<line x1="491.56" y1="48.41" x2="493.33" y2="50.18" stroke="#111" stroke-width="1.2" />
<line x1="463.15" y1="117" x2="466.65" y2="117" stroke="#111" stroke-width="1.2" />
<line x1="491.56" y1="185.59" x2="493.33" y2="183.82" stroke="#111" stroke-width="1.2" />
<line x1="560.15" y1="214" x2="560.15" y2="210.5" stroke="#111" stroke-width="1.2" />
<line x1="628.74" y1="185.59" x2="626.97" y2="183.82" stroke="#111" stroke-width="1.2" />
<text transform="translate(560.8,12.4) scale(1.07,1)" font-size="17" text-anchor="middle" stroke="#000" stroke-width="0.3" >90</text>
<text transform="translate(661.6,122.9) scale(1.07,1)" font-size="17" stroke="#000" stroke-width="0.3" >0</text>
<text transform="translate(458.6,123.5) scale(1.07,1)" font-size="17" text-anchor="end" stroke="#000" stroke-width="0.3" >180</text>
<text transform="translate(560.5,233.9) scale(1.07,1)" font-size="17" text-anchor="middle" stroke="#000" stroke-width="0.3" >270</text>
<line x1="426.3" y1="19.9" x2="426.3" y2="213.5" stroke="#222" stroke-width="1.2" />
<line x1="424.3" y1="108.35" x2="426.3" y2="108.35" stroke="#222" stroke-width="1.1" />
<line x1="424.3" y1="125.65" x2="426.3" y2="125.65" stroke="#222" stroke-width="1.1" />
<line x1="422.8" y1="86.5" x2="426.3" y2="86.5" stroke="#222" stroke-width="1.1" />
<line x1="422.8" y1="147.5" x2="426.3" y2="147.5" stroke="#222" stroke-width="1.1" />
<line x1="424.3" y1="64.65" x2="426.3" y2="64.65" stroke="#222" stroke-width="1.1" />
<line x1="424.3" y1="169.35" x2="426.3" y2="169.35" stroke="#222" stroke-width="1.1" />
<line x1="422.8" y1="42.8" x2="426.3" y2="42.8" stroke="#222" stroke-width="1.1" />
<line x1="422.8" y1="191.2" x2="426.3" y2="191.2" stroke="#222" stroke-width="1.1" />
<line x1="424.3" y1="20.95" x2="426.3" y2="20.95" stroke="#222" stroke-width="1.1" />
<line x1="424.3" y1="213.05" x2="426.3" y2="213.05" stroke="#222" stroke-width="1.1" />
<text transform="translate(419.4,92.7) scale(1.07,1)" font-size="17" text-anchor="end" stroke="#000" stroke-width="0.3" >0.2</text>
<text transform="translate(419.4,153.7) scale(1.07,1)" font-size="17" text-anchor="end" stroke="#000" stroke-width="0.3" >0.2</text>
<text transform="translate(419.4,49) scale(1.07,1)" font-size="17" text-anchor="end" stroke="#000" stroke-width="0.3" >0.4</text>
<text transform="translate(419.4,197.4) scale(1.07,1)" font-size="17" text-anchor="end" stroke="#000" stroke-width="0.3" >0.4</text>
<text transform="translate(384.9,119.5) rotate(-90) scale(1.08,1)" font-size="18" text-anchor="middle" stroke="#000" stroke-width="0.3" >|<tspan font-style="italic">R</tspan><tspan font-style="italic" font-size="12" dy="5">xy</tspan><tspan dy="-5">| (&#937;)</tspan></text>
<text transform="translate(375,34.8) scale(1.0,1)" font-size="22" font-weight="bold">b</text>
<line x1="613.9" y1="5.6" x2="642.2" y2="5.6" stroke="#b9dea4" stroke-width="1" stroke-dasharray="3,2.5"/>
<circle cx="627.5" cy="5.6" r="4.2" fill="#9fcf84"/>
<text transform="translate(649.4,9.9) scale(1.08,1)" font-size="12" stroke="#000" stroke-width="0.15" >5 K</text>
<line x1="613.9" y1="21.3" x2="642.2" y2="21.3" stroke="#d8bcf9" stroke-width="1" stroke-dasharray="3,2.5"/>
<circle cx="627.5" cy="21.3" r="4.2" fill="#d6b0fa"/>
<text transform="translate(649.4,25.6) scale(1.08,1)" font-size="12" stroke="#000" stroke-width="0.15" >100 K</text>
<line x1="613.9" y1="37.2" x2="642.2" y2="37.2" stroke="#fcd2b0" stroke-width="1" stroke-dasharray="3,2.5"/>
<circle cx="627.5" cy="37.2" r="4.2" fill="#fbbf8c"/>
<text transform="translate(649.4,41.5) scale(1.08,1)" font-size="12" stroke="#000" stroke-width="0.15" >300 K</text>
</g>
<g id="pc">
<defs><clipPath id="clipc"><rect x="62.6" y="287.2" width="242.9" height="192"/></clipPath></defs>
<g clip-path="url(#clipc)">
<polyline fill="none" stroke="#78b84e" stroke-width="1" stroke-linejoin="round"  points="62.6,478.4 65.97,477.7 69.35,476.91 72.72,476.03 76.09,475.07 79.47,473.99 82.84,472.81 86.22,471.49 89.59,470.05 92.96,468.48 96.34,466.73 99.71,464.79 103.08,462.68 106.46,460.43 109.83,457.86 113.2,454.76 116.58,451.27 119.95,446.15 123.33,437.91 126.7,424.64 130.07,415.66 133.45,410.86 136.82,406.76 140.19,403.29 143.57,400.82 146.94,398.58 150.31,396.51 153.69,394.6 157.06,392.81 160.43,391.16 163.81,389.74 167.18,388.58 170.56,387.57 173.93,386.56 177.3,385.52 180.68,384.46 184.05,383.2 187.42,382.33 190.8,381.39 194.17,380.37 197.54,379.26 200.92,378.07 204.29,376.78 207.67,375.39 211.04,373.89 214.41,372.28 217.79,370.52 221.16,368.59 224.53,366.52 227.91,364.32 231.28,361.83 234.65,358.83 238.03,355.44 241.4,350.43 244.78,342.31 248.15,328.78 251.52,319.38 254.9,314.18 258.27,309.72 261.64,305.95 265.02,303.23 268.39,300.81 271.76,298.62 275.14,296.67 278.51,294.92 281.88,293.38 285.26,292.14 288.63,291.23 292.01,290.51 295.38,289.84 298.75,289.16 302.13,288.49 305.5,287.2"/>
<g fill="#66aa38"><path d="M62.6,475.8 l2,3.4 l-4,0 Z"/><path d="M65.97,475.1 l2,3.4 l-4,0 Z"/><path d="M69.35,474.31 l2,3.4 l-4,0 Z"/><path d="M72.72,473.43 l2,3.4 l-4,0 Z"/><path d="M76.09,472.47 l2,3.4 l-4,0 Z"/><path d="M79.47,471.39 l2,3.4 l-4,0 Z"/><path d="M82.84,470.21 l2,3.4 l-4,0 Z"/><path d="M86.22,468.89 l2,3.4 l-4,0 Z"/><path d="M89.59,467.45 l2,3.4 l-4,0 Z"/><path d="M92.96,465.88 l2,3.4 l-4,0 Z"/><path d="M96.34,464.13 l2,3.4 l-4,0 Z"/><path d="M99.71,462.19 l2,3.4 l-4,0 Z"/><path d="M103.08,460.08 l2,3.4 l-4,0 Z"/><path d="M106.46,457.83 l2,3.4 l-4,0 Z"/><path d="M109.83,455.26 l2,3.4 l-4,0 Z"/><path d="M113.2,452.16 l2,3.4 l-4,0 Z"/><path d="M116.58,448.67 l2,3.4 l-4,0 Z"/><path d="M119.95,443.55 l2,3.4 l-4,0 Z"/><path d="M123.33,435.31 l2,3.4 l-4,0 Z"/><path d="M126.7,422.04 l2,3.4 l-4,0 Z"/><path d="M130.07,413.06 l2,3.4 l-4,0 Z"/><path d="M133.45,408.26 l2,3.4 l-4,0 Z"/><path d="M136.82,404.16 l2,3.4 l-4,0 Z"/><path d="M140.19,400.69 l2,3.4 l-4,0 Z"/><path d="M143.57,398.22 l2,3.4 l-4,0 Z"/><path d="M146.94,395.98 l2,3.4 l-4,0 Z"/><path d="M150.31,393.91 l2,3.4 l-4,0 Z"/><path d="M153.69,392 l2,3.4 l-4,0 Z"/><path d="M157.06,390.21 l2,3.4 l-4,0 Z"/><path d="M160.43,388.56 l2,3.4 l-4,0 Z"/><path d="M163.81,387.14 l2,3.4 l-4,0 Z"/><path d="M167.18,385.98 l2,3.4 l-4,0 Z"/><path d="M170.56,384.97 l2,3.4 l-4,0 Z"/><path d="M173.93,383.96 l2,3.4 l-4,0 Z"/><path d="M177.3,382.92 l2,3.4 l-4,0 Z"/><path d="M180.68,381.86 l2,3.4 l-4,0 Z"/><path d="M184.05,380.6 l2,3.4 l-4,0 Z"/><path d="M187.42,379.73 l2,3.4 l-4,0 Z"/><path d="M190.8,378.79 l2,3.4 l-4,0 Z"/><path d="M194.17,377.77 l2,3.4 l-4,0 Z"/><path d="M197.54,376.66 l2,3.4 l-4,0 Z"/><path d="M200.92,375.47 l2,3.4 l-4,0 Z"/><path d="M204.29,374.18 l2,3.4 l-4,0 Z"/><path d="M207.67,372.79 l2,3.4 l-4,0 Z"/><path d="M211.04,371.29 l2,3.4 l-4,0 Z"/><path d="M214.41,369.68 l2,3.4 l-4,0 Z"/><path d="M217.79,367.92 l2,3.4 l-4,0 Z"/><path d="M221.16,365.99 l2,3.4 l-4,0 Z"/><path d="M224.53,363.92 l2,3.4 l-4,0 Z"/><path d="M227.91,361.72 l2,3.4 l-4,0 Z"/><path d="M231.28,359.23 l2,3.4 l-4,0 Z"/><path d="M234.65,356.23 l2,3.4 l-4,0 Z"/><path d="M238.03,352.84 l2,3.4 l-4,0 Z"/><path d="M241.4,347.83 l2,3.4 l-4,0 Z"/><path d="M244.78,339.71 l2,3.4 l-4,0 Z"/><path d="M248.15,326.18 l2,3.4 l-4,0 Z"/><path d="M251.52,316.78 l2,3.4 l-4,0 Z"/><path d="M254.9,311.58 l2,3.4 l-4,0 Z"/><path d="M258.27,307.12 l2,3.4 l-4,0 Z"/><path d="M261.64,303.35 l2,3.4 l-4,0 Z"/><path d="M265.02,300.63 l2,3.4 l-4,0 Z"/><path d="M268.39,298.21 l2,3.4 l-4,0 Z"/><path d="M271.76,296.02 l2,3.4 l-4,0 Z"/><path d="M275.14,294.07 l2,3.4 l-4,0 Z"/><path d="M278.51,292.32 l2,3.4 l-4,0 Z"/><path d="M281.88,290.78 l2,3.4 l-4,0 Z"/><path d="M285.26,289.54 l2,3.4 l-4,0 Z"/><path d="M288.63,288.63 l2,3.4 l-4,0 Z"/><path d="M292.01,287.91 l2,3.4 l-4,0 Z"/><path d="M295.38,287.24 l2,3.4 l-4,0 Z"/><path d="M298.75,286.56 l2,3.4 l-4,0 Z"/><path d="M302.13,285.89 l2,3.4 l-4,0 Z"/><path d="M305.5,284.6 l2,3.4 l-4,0 Z"/></g>
<polyline fill="none" stroke="#a46fe6" stroke-width="1.1" stroke-linejoin="round"  points="62.6,478.4 65.97,477.37 69.35,476.27 72.72,475.1 76.09,473.87 79.47,472.56 82.84,471.19 86.22,469.74 89.59,468.22 92.96,466.61 96.34,464.89 99.71,463.03 103.08,461.07 106.46,459 109.83,456.66 113.2,453.83 116.58,450.63 119.95,445.83 123.33,437.91 126.7,424.76 130.07,415.98 133.45,411.36 136.82,407.43 140.19,404.1 143.57,401.75 146.94,399.6 150.31,397.57 153.69,395.67 157.06,393.84 160.43,392.13 163.81,390.61 167.18,389.31 170.56,388.14 173.93,386.96 177.3,385.72 180.68,384.46 184.05,383.2 187.42,382.15 190.8,381.03 194.17,379.83 197.54,378.58 200.92,377.25 204.29,375.86 207.67,374.39 211.04,372.84 214.41,371.21 217.79,369.47 221.16,367.59 224.53,365.6 227.91,363.51 231.28,361.15 234.65,358.29 238.03,355.08 241.4,350.25 244.78,342.31 248.15,329.14 251.52,320.33 254.9,315.7 258.27,311.74 261.64,308.39 265.02,306.02 268.39,303.84 271.76,301.79 275.14,299.87 278.51,298.02 281.88,296.29 285.26,294.74 288.63,293.42 292.01,292.23 295.38,291.02 298.75,289.76 302.13,288.49 305.5,287.2"/>
<g fill="#b482f2"><circle cx="62.6" cy="478.4" r="1.9"/><circle cx="65.97" cy="477.37" r="1.9"/><circle cx="69.35" cy="476.27" r="1.9"/><circle cx="72.72" cy="475.1" r="1.9"/><circle cx="76.09" cy="473.87" r="1.9"/><circle cx="79.47" cy="472.56" r="1.9"/><circle cx="82.84" cy="471.19" r="1.9"/><circle cx="86.22" cy="469.74" r="1.9"/><circle cx="89.59" cy="468.22" r="1.9"/><circle cx="92.96" cy="466.61" r="1.9"/><circle cx="96.34" cy="464.89" r="1.9"/><circle cx="99.71" cy="463.03" r="1.9"/><circle cx="103.08" cy="461.07" r="1.9"/><circle cx="106.46" cy="459" r="1.9"/><circle cx="109.83" cy="456.66" r="1.9"/><circle cx="113.2" cy="453.83" r="1.9"/><circle cx="116.58" cy="450.63" r="1.9"/><circle cx="119.95" cy="445.83" r="1.9"/><circle cx="123.33" cy="437.91" r="1.9"/><circle cx="126.7" cy="424.76" r="1.9"/><circle cx="130.07" cy="415.98" r="1.9"/><circle cx="133.45" cy="411.36" r="1.9"/><circle cx="136.82" cy="407.43" r="1.9"/><circle cx="140.19" cy="404.1" r="1.9"/><circle cx="143.57" cy="401.75" r="1.9"/><circle cx="146.94" cy="399.6" r="1.9"/><circle cx="150.31" cy="397.57" r="1.9"/><circle cx="153.69" cy="395.67" r="1.9"/><circle cx="157.06" cy="393.84" r="1.9"/><circle cx="160.43" cy="392.13" r="1.9"/><circle cx="163.81" cy="390.61" r="1.9"/><circle cx="167.18" cy="389.31" r="1.9"/><circle cx="170.56" cy="388.14" r="1.9"/><circle cx="173.93" cy="386.96" r="1.9"/><circle cx="177.3" cy="385.72" r="1.9"/><circle cx="180.68" cy="384.46" r="1.9"/><circle cx="184.05" cy="383.2" r="1.9"/><circle cx="187.42" cy="382.15" r="1.9"/><circle cx="190.8" cy="381.03" r="1.9"/><circle cx="194.17" cy="379.83" r="1.9"/><circle cx="197.54" cy="378.58" r="1.9"/><circle cx="200.92" cy="377.25" r="1.9"/><circle cx="204.29" cy="375.86" r="1.9"/><circle cx="207.67" cy="374.39" r="1.9"/><circle cx="211.04" cy="372.84" r="1.9"/><circle cx="214.41" cy="371.21" r="1.9"/><circle cx="217.79" cy="369.47" r="1.9"/><circle cx="221.16" cy="367.59" r="1.9"/><circle cx="224.53" cy="365.6" r="1.9"/><circle cx="227.91" cy="363.51" r="1.9"/><circle cx="231.28" cy="361.15" r="1.9"/><circle cx="234.65" cy="358.29" r="1.9"/><circle cx="238.03" cy="355.08" r="1.9"/><circle cx="241.4" cy="350.25" r="1.9"/><circle cx="244.78" cy="342.31" r="1.9"/><circle cx="248.15" cy="329.14" r="1.9"/><circle cx="251.52" cy="320.33" r="1.9"/><circle cx="254.9" cy="315.7" r="1.9"/><circle cx="258.27" cy="311.74" r="1.9"/><circle cx="261.64" cy="308.39" r="1.9"/><circle cx="265.02" cy="306.02" r="1.9"/><circle cx="268.39" cy="303.84" r="1.9"/><circle cx="271.76" cy="301.79" r="1.9"/><circle cx="275.14" cy="299.87" r="1.9"/><circle cx="278.51" cy="298.02" r="1.9"/><circle cx="281.88" cy="296.29" r="1.9"/><circle cx="285.26" cy="294.74" r="1.9"/><circle cx="288.63" cy="293.42" r="1.9"/><circle cx="292.01" cy="292.23" r="1.9"/><circle cx="295.38" cy="291.02" r="1.9"/><circle cx="298.75" cy="289.76" r="1.9"/><circle cx="302.13" cy="288.49" r="1.9"/><circle cx="305.5" cy="287.2" r="1.9"/></g>
<polyline fill="none" stroke="#fbae7d" stroke-width="1.3" stroke-linejoin="round" stroke-opacity="0.45" points="62.6,476 65.97,474.78 69.35,473.44 72.72,471.97 76.09,470.4 79.47,468.71 82.84,466.88 86.22,464.92 89.59,462.82 92.96,460.59 96.34,458.11 99.71,455.37 103.08,452.53 106.46,449.58 109.83,446.5 113.2,443.47 116.58,440.69 119.95,437.54 123.33,433.33 126.7,428.5 130.07,423.73 133.45,419.61 136.82,416.23 140.19,413.61 143.57,411.24 146.94,408.72 150.31,406.03 153.69,403.39 157.06,400.96 160.43,398.74 163.81,396.62 167.18,394.53 170.56,392.54 173.93,390.54 177.3,388.3 180.68,385.77 184.05,383.2 187.42,380.62 190.8,378.3 194.17,376.51 197.54,374.91 200.92,373.17 204.29,371.15 207.67,368.98 211.04,366.75 214.41,364.54 217.79,362.38 221.16,360.12 224.53,357.61 227.91,354.8 231.28,351.69 234.65,348.24 238.03,344.29 241.4,340.14 244.78,335.62 248.15,331.09 251.52,327.44 254.9,323.47 258.27,319.61 261.64,316.33 265.02,313.49 268.39,310.76 271.76,307.95 275.14,305.32 278.51,302.97 281.88,300.72 285.26,298.5 288.63,296.36 292.01,294.29 295.38,292.37 298.75,290.74 302.13,289.15 305.5,287.2"/>
<g fill="#fbae7d" fill-opacity="0.7"><rect x="60.95" y="474.35" width="3.3" height="3.3"/><rect x="64.32" y="473.13" width="3.3" height="3.3"/><rect x="67.7" y="471.79" width="3.3" height="3.3"/><rect x="71.07" y="470.32" width="3.3" height="3.3"/><rect x="74.44" y="468.75" width="3.3" height="3.3"/><rect x="77.82" y="467.06" width="3.3" height="3.3"/><rect x="81.19" y="465.23" width="3.3" height="3.3"/><rect x="84.57" y="463.27" width="3.3" height="3.3"/><rect x="87.94" y="461.17" width="3.3" height="3.3"/><rect x="91.31" y="458.94" width="3.3" height="3.3"/><rect x="94.69" y="456.46" width="3.3" height="3.3"/><rect x="98.06" y="453.72" width="3.3" height="3.3"/><rect x="101.43" y="450.88" width="3.3" height="3.3"/><rect x="104.81" y="447.93" width="3.3" height="3.3"/><rect x="108.18" y="444.85" width="3.3" height="3.3"/><rect x="111.55" y="441.82" width="3.3" height="3.3"/><rect x="114.93" y="439.04" width="3.3" height="3.3"/><rect x="118.3" y="435.89" width="3.3" height="3.3"/><rect x="121.67" y="431.68" width="3.3" height="3.3"/><rect x="125.05" y="426.85" width="3.3" height="3.3"/><rect x="128.42" y="422.08" width="3.3" height="3.3"/><rect x="131.8" y="417.96" width="3.3" height="3.3"/><rect x="135.17" y="414.58" width="3.3" height="3.3"/><rect x="138.54" y="411.96" width="3.3" height="3.3"/><rect x="141.92" y="409.59" width="3.3" height="3.3"/><rect x="145.29" y="407.07" width="3.3" height="3.3"/><rect x="148.66" y="404.38" width="3.3" height="3.3"/><rect x="152.04" y="401.74" width="3.3" height="3.3"/><rect x="155.41" y="399.31" width="3.3" height="3.3"/><rect x="158.78" y="397.09" width="3.3" height="3.3"/><rect x="162.16" y="394.97" width="3.3" height="3.3"/><rect x="165.53" y="392.88" width="3.3" height="3.3"/><rect x="168.91" y="390.89" width="3.3" height="3.3"/><rect x="172.28" y="388.89" width="3.3" height="3.3"/><rect x="175.65" y="386.65" width="3.3" height="3.3"/><rect x="179.03" y="384.12" width="3.3" height="3.3"/><rect x="182.4" y="381.55" width="3.3" height="3.3"/><rect x="185.77" y="378.97" width="3.3" height="3.3"/><rect x="189.15" y="376.65" width="3.3" height="3.3"/><rect x="192.52" y="374.86" width="3.3" height="3.3"/><rect x="195.89" y="373.26" width="3.3" height="3.3"/><rect x="199.27" y="371.52" width="3.3" height="3.3"/><rect x="202.64" y="369.5" width="3.3" height="3.3"/><rect x="206.02" y="367.33" width="3.3" height="3.3"/><rect x="209.39" y="365.1" width="3.3" height="3.3"/><rect x="212.76" y="362.89" width="3.3" height="3.3"/><rect x="216.14" y="360.73" width="3.3" height="3.3"/><rect x="219.51" y="358.47" width="3.3" height="3.3"/><rect x="222.88" y="355.96" width="3.3" height="3.3"/><rect x="226.26" y="353.15" width="3.3" height="3.3"/><rect x="229.63" y="350.04" width="3.3" height="3.3"/><rect x="233" y="346.59" width="3.3" height="3.3"/><rect x="236.38" y="342.64" width="3.3" height="3.3"/><rect x="239.75" y="338.49" width="3.3" height="3.3"/><rect x="243.12" y="333.97" width="3.3" height="3.3"/><rect x="246.5" y="329.44" width="3.3" height="3.3"/><rect x="249.87" y="325.79" width="3.3" height="3.3"/><rect x="253.25" y="321.82" width="3.3" height="3.3"/><rect x="256.62" y="317.96" width="3.3" height="3.3"/><rect x="259.99" y="314.68" width="3.3" height="3.3"/><rect x="263.37" y="311.84" width="3.3" height="3.3"/><rect x="266.74" y="309.11" width="3.3" height="3.3"/><rect x="270.11" y="306.3" width="3.3" height="3.3"/><rect x="273.49" y="303.67" width="3.3" height="3.3"/><rect x="276.86" y="301.32" width="3.3" height="3.3"/><rect x="280.23" y="299.07" width="3.3" height="3.3"/><rect x="283.61" y="296.85" width="3.3" height="3.3"/><rect x="286.98" y="294.71" width="3.3" height="3.3"/><rect x="290.36" y="292.64" width="3.3" height="3.3"/><rect x="293.73" y="290.72" width="3.3" height="3.3"/><rect x="297.1" y="289.09" width="3.3" height="3.3"/><rect x="300.48" y="287.5" width="3.3" height="3.3"/><rect x="303.85" y="285.55" width="3.3" height="3.3"/></g>
</g>
<line x1="62.6" y1="383.5" x2="184.4" y2="383.5" stroke="#111" stroke-width="1.3" stroke-dasharray="7.6,7"/>
<line x1="184.4" y1="383.5" x2="184.4" y2="479.2" stroke="#111" stroke-width="1.3" stroke-dasharray="7.6,7"/>
<line x1="78.4" y1="303.2" x2="120.4" y2="303.2" stroke="#72b450" stroke-width="1.8" />
<path d="M99.8,301 l2,3.4 l-4,0 Z" fill="#fff" stroke="#72b450" stroke-width="0.8"/>
<text transform="translate(126,309.4) scale(1.07,1)" font-size="17" stroke="#000" stroke-width="0.3" >5K</text>
<line x1="78.4" y1="325.6" x2="120.4" y2="325.6" stroke="#b88cf2" stroke-width="1.8" />
<circle cx="99.8" cy="325.6" r="2.2" fill="#b88cf2"/>
<text transform="translate(126,331.8) scale(1.07,1)" font-size="17" stroke="#000" stroke-width="0.3" >100K</text>
<line x1="78.4" y1="348.1" x2="120.4" y2="348.1" stroke="#fcc9a8" stroke-width="1.8" />
<rect x="98.1" y="346.4" width="3.4" height="3.4" fill="#fcc9a8"/>
<text transform="translate(126,354.3) scale(1.07,1)" font-size="17" stroke="#000" stroke-width="0.3" >300K</text>
<defs><linearGradient id="slabtop" x1="0" y1="0" x2="1" y2="0.3"><stop offset="0" stop-color="#8db6e6"/><stop offset="0.55" stop-color="#e8f1fb"/><stop offset="1" stop-color="#b4d0ee"/></linearGradient><linearGradient id="slabside" x1="0" y1="0" x2="1" y2="0"><stop offset="0" stop-color="#6096d6"/><stop offset="1" stop-color="#a4c4ea"/></linearGradient><linearGradient id="slabright" x1="0" y1="0" x2="1" y2="0"><stop offset="0" stop-color="#7d9ecb"/><stop offset="1" stop-color="#9fb8da"/></linearGradient></defs>
<path d="M187.6,442.1 L251.6,461.2 L251.6,467.5 L187.6,449 Z" fill="url(#slabside)" stroke="#eef4fb" stroke-width="0.8"/>
<path d="M251.6,461.2 L297.4,436.8 L297.4,443.5 L251.6,467.5 Z" fill="url(#slabright)" stroke="#eef4fb" stroke-width="0.8"/>
<path d="M187.6,442.1 L232.5,415.8 L297.4,436.8 L251.6,461.2 Z" fill="url(#slabtop)" stroke="#f2f6fb" stroke-width="1.8" stroke-linejoin="round"/>
<line x1="223.9" y1="426.9" x2="272.6" y2="442.5" stroke="#111" stroke-width="1" stroke-dasharray="3,2"/>
<line x1="227.7" y1="445.4" x2="245.8" y2="433.9" stroke="#111" stroke-width="1" stroke-dasharray="3,2"/>
<line x1="245.8" y1="433.9" x2="245.8" y2="372.9" stroke="#111" stroke-width="1.1" stroke-dasharray="3.5,2"/>
<path d="M245.8,415 A11.5,11.5 0 0 1 256.8,419.5" fill="none" stroke="#111" stroke-width="1.3"/>
<line x1="245.8" y1="433.9" x2="285.6" y2="388" stroke="#6ab43c" stroke-width="1.7" />
<path d="M288.2,384.8 L278,389.8 L284.2,390 L285.6,396.2 Z" fill="#6ab43c"/>
<line x1="245.8" y1="433.9" x2="290.5" y2="412.2" stroke="#f4a878" stroke-width="1.7" />
<path d="M295.2,409.9 L284,410 L289.6,412.6 L290,419 Z" fill="#f4a878"/>
<text transform="translate(248.6,402.5) scale(1.05,1)" font-size="17" stroke="#000" stroke-width="0.3" font-style="italic">&#946;<tspan font-size="12" dy="3">m</tspan></text>
<text transform="translate(282.6,382.5) scale(1.05,1)" font-size="16.5" stroke="#6ab43c" stroke-width="0.3" font-style="italic" fill="#6ab43c">m</text>
<text transform="translate(290.3,405.4) scale(1.05,1)" font-size="16" stroke="#f4a878" stroke-width="0.3" font-style="italic" fill="#f4a878">H</text>
<rect x="62.6" y="287.2" width="242.9" height="192" fill="none" stroke="#262626" stroke-width="1.3"/>
<line x1="62.6" y1="479.2" x2="62.6" y2="475.7" stroke="#262626" stroke-width="1.2" />
<line x1="92.96" y1="479.2" x2="92.96" y2="477" stroke="#262626" stroke-width="1.2" />
<line x1="123.33" y1="479.2" x2="123.33" y2="475.7" stroke="#262626" stroke-width="1.2" />
<line x1="153.69" y1="479.2" x2="153.69" y2="477" stroke="#262626" stroke-width="1.2" />
<line x1="184.05" y1="479.2" x2="184.05" y2="475.7" stroke="#262626" stroke-width="1.2" />
<line x1="214.41" y1="479.2" x2="214.41" y2="477" stroke="#262626" stroke-width="1.2" />
<line x1="244.78" y1="479.2" x2="244.78" y2="475.7" stroke="#262626" stroke-width="1.2" />
<line x1="275.14" y1="479.2" x2="275.14" y2="477" stroke="#262626" stroke-width="1.2" />
<line x1="305.5" y1="479.2" x2="305.5" y2="475.7" stroke="#262626" stroke-width="1.2" />
<line x1="62.6" y1="479.2" x2="66.1" y2="479.2" stroke="#262626" stroke-width="1.2" />
<line x1="62.6" y1="455.2" x2="64.8" y2="455.2" stroke="#262626" stroke-width="1.2" />
<line x1="62.6" y1="431.2" x2="66.1" y2="431.2" stroke="#262626" stroke-width="1.2" />
<line x1="62.6" y1="407.2" x2="64.8" y2="407.2" stroke="#262626" stroke-width="1.2" />
<line x1="62.6" y1="383.2" x2="66.1" y2="383.2" stroke="#262626" stroke-width="1.2" />
<line x1="62.6" y1="359.2" x2="64.8" y2="359.2" stroke="#262626" stroke-width="1.2" />
<line x1="62.6" y1="335.2" x2="66.1" y2="335.2" stroke="#262626" stroke-width="1.2" />
<line x1="62.6" y1="311.2" x2="64.8" y2="311.2" stroke="#262626" stroke-width="1.2" />
<line x1="62.6" y1="287.2" x2="66.1" y2="287.2" stroke="#262626" stroke-width="1.2" />
<text transform="translate(62.9,497.6) scale(1.07,1)" font-size="17" text-anchor="middle" stroke="#000" stroke-width="0.3" >0</text>
<text transform="translate(56.8,485.3) scale(1.07,1)" font-size="17" text-anchor="end" stroke="#000" stroke-width="0.3" >0</text>
<text transform="translate(123.62,497.6) scale(1.07,1)" font-size="17" text-anchor="middle" stroke="#000" stroke-width="0.3" >90</text>
<text transform="translate(56.8,437.3) scale(1.07,1)" font-size="17" text-anchor="end" stroke="#000" stroke-width="0.3" >90</text>
<text transform="translate(184.35,497.6) scale(1.07,1)" font-size="17" text-anchor="middle" stroke="#000" stroke-width="0.3" >180</text>
<text transform="translate(56.8,389.3) scale(1.07,1)" font-size="17" text-anchor="end" stroke="#000" stroke-width="0.3" >180</text>
<text transform="translate(245.08,497.6) scale(1.07,1)" font-size="17" text-anchor="middle" stroke="#000" stroke-width="0.3" >270</text>
<text transform="translate(56.8,341.3) scale(1.07,1)" font-size="17" text-anchor="end" stroke="#000" stroke-width="0.3" >270</text>
<text transform="translate(305.8,497.6) scale(1.07,1)" font-size="17" text-anchor="middle" stroke="#000" stroke-width="0.3" >360</text>
<text transform="translate(56.8,293.3) scale(1.07,1)" font-size="17" text-anchor="end" stroke="#000" stroke-width="0.3" >360</text>
<text transform="translate(184.2,518.4) scale(1.03,1)" font-size="18" text-anchor="middle" stroke="#000" stroke-width="0.3" ><tspan font-style="italic">&#946;</tspan> (&#176;)</text>
<text transform="translate(14.3,386.2) rotate(-90) scale(1.08,1)" font-size="17" text-anchor="middle" stroke="#000" stroke-width="0.3" ><tspan font-style="italic">&#946;</tspan><tspan font-style="italic" font-size="12" dy="4">m</tspan><tspan dy="-4"> (&#176;)</tspan></text>
<text transform="translate(4,295.5) scale(1.0,1)" font-size="22" font-weight="bold">c</text>
</g>
<g id="pd">
<defs><clipPath id="clipd"><rect x="427.3" y="286.5" width="243.2" height="192.8"/></clipPath></defs>
<g clip-path="url(#clipd)">
<g fill="#70b43c" fill-opacity="0.88"><circle cx="427.3" cy="301.95" r="3.95"/><circle cx="430.68" cy="302.09" r="3.95"/><circle cx="434.06" cy="303.05" r="3.95"/><circle cx="437.43" cy="304.98" r="3.95"/><circle cx="440.81" cy="307.73" r="3.95"/><circle cx="444.19" cy="311.02" r="3.95"/><circle cx="447.57" cy="314.74" r="3.95"/><circle cx="450.94" cy="319.28" r="3.95"/><circle cx="454.32" cy="324.77" r="3.95"/><circle cx="457.7" cy="331.65" r="3.95"/><circle cx="461.08" cy="339.62" r="3.95"/><circle cx="464.46" cy="349.39" r="3.95"/><circle cx="467.83" cy="361.35" r="3.95"/><circle cx="471.21" cy="374.96" r="3.95"/><circle cx="474.59" cy="391.46" r="3.95"/><circle cx="477.97" cy="410.3" r="3.95"/><circle cx="481.34" cy="430.79" r="3.95"/><circle cx="484.72" cy="449.49" r="3.95"/><circle cx="488.1" cy="463.51" r="3.95"/><circle cx="491.48" cy="463.93" r="3.95"/><circle cx="494.86" cy="448.94" r="3.95"/><circle cx="498.23" cy="429.14" r="3.95"/><circle cx="501.61" cy="409.2" r="3.95"/><circle cx="504.99" cy="390.36" r="3.95"/><circle cx="508.37" cy="373.73" r="3.95"/><circle cx="511.74" cy="359.43" r="3.95"/><circle cx="515.12" cy="346.78" r="3.95"/><circle cx="518.5" cy="336.05" r="3.95"/><circle cx="521.88" cy="327.8" r="3.95"/><circle cx="525.26" cy="321.2" r="3.95"/><circle cx="528.63" cy="315.43" r="3.95"/><circle cx="532.01" cy="310.61" r="3.95"/><circle cx="535.39" cy="307.18" r="3.95"/><circle cx="538.77" cy="304.43" r="3.95"/><circle cx="542.14" cy="303.05" r="3.95"/><circle cx="545.52" cy="302.23" r="3.95"/><circle cx="548.9" cy="301.95" r="3.95"/><circle cx="552.28" cy="302.09" r="3.95"/><circle cx="555.66" cy="303.05" r="3.95"/><circle cx="559.03" cy="304.98" r="3.95"/><circle cx="562.41" cy="307.73" r="3.95"/><circle cx="565.79" cy="311.02" r="3.95"/><circle cx="569.17" cy="314.74" r="3.95"/><circle cx="572.54" cy="319.28" r="3.95"/><circle cx="575.92" cy="324.77" r="3.95"/><circle cx="579.3" cy="331.65" r="3.95"/><circle cx="582.68" cy="339.62" r="3.95"/><circle cx="586.06" cy="349.39" r="3.95"/><circle cx="589.43" cy="361.35" r="3.95"/><circle cx="592.81" cy="374.96" r="3.95"/><circle cx="596.19" cy="391.46" r="3.95"/><circle cx="599.57" cy="410.3" r="3.95"/><circle cx="602.94" cy="430.79" r="3.95"/><circle cx="606.32" cy="449.49" r="3.95"/><circle cx="609.7" cy="463.51" r="3.95"/><circle cx="613.08" cy="463.93" r="3.95"/><circle cx="616.46" cy="448.94" r="3.95"/><circle cx="619.83" cy="429.14" r="3.95"/><circle cx="623.21" cy="409.2" r="3.95"/><circle cx="626.59" cy="390.36" r="3.95"/><circle cx="629.97" cy="373.73" r="3.95"/><circle cx="633.34" cy="359.43" r="3.95"/><circle cx="636.72" cy="346.78" r="3.95"/><circle cx="640.1" cy="336.05" r="3.95"/><circle cx="643.48" cy="327.8" r="3.95"/><circle cx="646.86" cy="321.2" r="3.95"/><circle cx="650.23" cy="315.43" r="3.95"/><circle cx="653.61" cy="310.61" r="3.95"/><circle cx="656.99" cy="307.18" r="3.95"/><circle cx="660.37" cy="304.43" r="3.95"/><circle cx="663.74" cy="303.05" r="3.95"/><circle cx="667.12" cy="302.23" r="3.95"/><circle cx="670.5" cy="301.95" r="3.95"/></g>
<polyline fill="none" stroke="#cde4bd" stroke-width="1.8" stroke-linejoin="round"  points="427.3,301.95 427.64,301.95 427.98,301.96 428.31,301.96 428.65,301.98 428.99,301.99 429.33,302 429.66,302.02 430,302.04 430.34,302.06 430.68,302.09 431.02,302.12 431.35,302.18 431.69,302.25 432.03,302.34 432.37,302.44 432.7,302.55 433.04,302.67 433.38,302.79 433.72,302.92 434.06,303.05 434.39,303.19 434.73,303.34 435.07,303.51 435.41,303.69 435.74,303.89 436.08,304.09 436.42,304.31 436.76,304.53 437.1,304.75 437.43,304.98 437.77,305.21 438.11,305.45 438.45,305.71 438.78,305.98 439.12,306.26 439.46,306.54 439.8,306.83 440.14,307.13 440.47,307.43 440.81,307.73 441.15,308.03 441.49,308.34 441.82,308.66 442.16,308.98 442.5,309.31 442.84,309.65 443.18,309.99 443.51,310.33 443.85,310.68 444.19,311.02 444.53,311.38 444.86,311.73 445.2,312.08 445.54,312.44 445.88,312.81 446.22,313.18 446.55,313.56 446.89,313.94 447.23,314.33 447.57,314.74 447.9,315.15 448.24,315.57 448.58,316 448.92,316.45 449.26,316.9 449.59,317.35 449.93,317.82 450.27,318.3 450.61,318.78 450.94,319.28 451.28,319.78 451.62,320.29 451.96,320.81 452.3,321.34 452.63,321.88 452.97,322.44 453.31,323 453.65,323.58 453.98,324.17 454.32,324.77 454.66,325.4 455,326.04 455.34,326.69 455.67,327.37 456.01,328.05 456.35,328.75 456.69,329.46 457.02,330.19 457.36,330.91 457.7,331.65 458.04,332.39 458.38,333.14 458.71,333.91 459.05,334.68 459.39,335.46 459.73,336.26 460.06,337.08 460.4,337.91 460.74,338.76 461.08,339.62 461.42,340.51 461.75,341.42 462.09,342.35 462.43,343.29 462.77,344.26 463.1,345.25 463.44,346.25 463.78,347.28 464.12,348.32 464.46,349.39 464.79,350.48 465.13,351.6 465.47,352.75 465.81,353.92 466.14,355.12 466.48,356.34 466.82,357.57 467.16,358.82 467.5,360.08 467.83,361.35 468.17,362.63 468.51,363.92 468.85,365.22 469.18,366.54 469.52,367.88 469.86,369.25 470.2,370.63 470.54,372.04 470.87,373.49 471.21,374.96 471.55,376.47 471.89,378.03 472.22,379.61 472.56,381.23 472.9,382.88 473.24,384.55 473.58,386.25 473.91,387.97 474.25,389.71 474.59,391.46 474.93,393.24 475.26,395.05 475.6,396.88 475.94,398.74 476.28,400.63 476.62,402.53 476.95,404.45 477.29,406.39 477.63,408.34 477.97,410.3 478.3,412.29 478.64,414.32 478.98,416.38 479.32,418.46 479.66,420.55 479.99,422.64 480.33,424.72 480.67,426.78 481.01,428.81 481.34,430.79 481.68,432.75 482.02,434.72 482.36,436.69 482.7,438.65 483.03,440.58 483.37,442.47 483.71,444.32 484.05,446.12 484.38,447.84 484.72,449.49 485.06,451.17 485.4,452.97 485.74,454.82 486.07,456.66 486.41,458.4 486.75,460 487.09,461.38 487.42,462.46 487.76,463.2 488.1,463.51 488.44,463.59 488.78,463.66 489.11,463.72 489.45,463.77 489.79,463.82 490.13,463.86 490.46,463.89 490.8,463.91 491.14,463.92 491.48,463.93 491.82,463.66 492.15,462.91 492.49,461.76 492.83,460.29 493.17,458.56 493.5,456.67 493.84,454.68 494.18,452.68 494.52,450.74 494.86,448.94 495.19,447.18 495.53,445.33 495.87,443.4 496.21,441.42 496.54,439.39 496.88,437.33 497.22,435.26 497.56,433.19 497.9,431.15 498.23,429.14 498.57,427.14 498.91,425.14 499.25,423.13 499.58,421.12 499.92,419.11 500.26,417.1 500.6,415.1 500.94,413.12 501.27,411.15 501.61,409.2 501.95,407.26 502.29,405.33 502.62,403.4 502.96,401.48 503.3,399.57 503.64,397.68 503.98,395.81 504.31,393.96 504.65,392.15 504.99,390.36 505.33,388.6 505.66,386.86 506,385.14 506.34,383.44 506.68,381.76 507.02,380.1 507.35,378.47 507.69,376.86 508.03,375.28 508.37,373.73 508.7,372.2 509.04,370.7 509.38,369.22 509.72,367.77 510.06,366.33 510.39,364.92 510.73,363.52 511.07,362.14 511.41,360.77 511.74,359.43 512.08,358.09 512.42,356.76 512.76,355.45 513.1,354.15 513.43,352.87 513.77,351.61 514.11,350.37 514.45,349.15 514.78,347.95 515.12,346.78 515.46,345.62 515.8,344.47 516.14,343.34 516.47,342.22 516.81,341.13 517.15,340.05 517.49,339.01 517.82,337.99 518.16,337 518.5,336.05 518.84,335.13 519.18,334.23 519.51,333.36 519.85,332.51 520.19,331.68 520.53,330.86 520.86,330.07 521.2,329.3 521.54,328.54 521.88,327.8 522.22,327.08 522.55,326.37 522.89,325.68 523.23,325.01 523.57,324.35 523.9,323.71 524.24,323.07 524.58,322.44 524.92,321.82 525.26,321.2 525.59,320.59 525.93,319.98 526.27,319.38 526.61,318.78 526.94,318.2 527.28,317.62 527.62,317.06 527.96,316.5 528.3,315.96 528.63,315.43 528.97,314.9 529.31,314.38 529.65,313.87 529.98,313.36 530.32,312.86 530.66,312.38 531,311.91 531.34,311.46 531.67,311.02 532.01,310.61 532.35,310.22 532.69,309.84 533.02,309.47 533.36,309.12 533.7,308.77 534.04,308.44 534.38,308.11 534.71,307.8 535.05,307.48 535.39,307.18 535.73,306.87 536.06,306.56 536.4,306.25 536.74,305.94 537.08,305.65 537.42,305.36 537.75,305.1 538.09,304.85 538.43,304.62 538.77,304.43 539.1,304.25 539.44,304.08 539.78,303.92 540.12,303.78 540.46,303.64 540.79,303.51 541.13,303.38 541.47,303.27 541.81,303.16 542.14,303.05 542.48,302.95 542.82,302.85 543.16,302.75 543.5,302.65 543.83,302.56 544.17,302.48 544.51,302.4 544.85,302.33 545.18,302.27 545.52,302.23 545.86,302.18 546.2,302.14 546.54,302.1 546.87,302.07 547.21,302.04 547.55,302.01 547.89,301.98 548.22,301.97 548.56,301.95 548.9,301.95 549.24,301.95 549.58,301.96 549.91,301.96 550.25,301.98 550.59,301.99 550.93,302 551.26,302.02 551.6,302.04 551.94,302.06 552.28,302.09 552.62,302.12 552.95,302.18 553.29,302.25 553.63,302.34 553.97,302.44 554.3,302.55 554.64,302.67 554.98,302.79 555.32,302.92 555.66,303.05 555.99,303.19 556.33,303.34 556.67,303.51 557.01,303.69 557.34,303.89 557.68,304.09 558.02,304.31 558.36,304.53 558.7,304.75 559.03,304.98 559.37,305.21 559.71,305.45 560.05,305.71 560.38,305.98 560.72,306.26 561.06,306.54 561.4,306.83 561.74,307.13 562.07,307.43 562.41,307.73 562.75,308.03 563.09,308.34 563.42,308.66 563.76,308.98 564.1,309.31 564.44,309.65 564.78,309.99 565.11,310.33 565.45,310.68 565.79,311.02 566.13,311.38 566.46,311.73 566.8,312.08 567.14,312.44 567.48,312.81 567.82,313.18 568.15,313.56 568.49,313.94 568.83,314.33 569.17,314.74 569.5,315.15 569.84,315.57 570.18,316 570.52,316.45 570.86,316.9 571.19,317.35 571.53,317.82 571.87,318.3 572.21,318.78 572.54,319.28 572.88,319.78 573.22,320.29 573.56,320.81 573.9,321.34 574.23,321.88 574.57,322.44 574.91,323 575.25,323.58 575.58,324.17 575.92,324.77 576.26,325.4 576.6,326.04 576.94,326.69 577.27,327.37 577.61,328.05 577.95,328.75 578.29,329.46 578.62,330.19 578.96,330.91 579.3,331.65 579.64,332.39 579.98,333.14 580.31,333.91 580.65,334.68 580.99,335.46 581.33,336.26 581.66,337.08 582,337.91 582.34,338.76 582.68,339.62 583.02,340.51 583.35,341.42 583.69,342.35 584.03,343.29 584.37,344.26 584.7,345.25 585.04,346.25 585.38,347.28 585.72,348.32 586.06,349.39 586.39,350.48 586.73,351.6 587.07,352.75 587.41,353.92 587.74,355.12 588.08,356.34 588.42,357.57 588.76,358.82 589.1,360.08 589.43,361.35 589.77,362.63 590.11,363.92 590.45,365.22 590.78,366.54 591.12,367.88 591.46,369.25 591.8,370.63 592.14,372.04 592.47,373.49 592.81,374.96 593.15,376.47 593.49,378.03 593.82,379.61 594.16,381.23 594.5,382.88 594.84,384.55 595.18,386.25 595.51,387.97 595.85,389.71 596.19,391.46 596.53,393.24 596.86,395.05 597.2,396.88 597.54,398.74 597.88,400.63 598.22,402.53 598.55,404.45 598.89,406.39 599.23,408.34 599.57,410.3 599.9,412.29 600.24,414.32 600.58,416.38 600.92,418.46 601.26,420.55 601.59,422.64 601.93,424.72 602.27,426.78 602.61,428.81 602.94,430.79 603.28,432.75 603.62,434.72 603.96,436.69 604.3,438.65 604.63,440.58 604.97,442.47 605.31,444.32 605.65,446.12 605.98,447.84 606.32,449.49 606.66,451.17 607,452.97 607.34,454.82 607.67,456.66 608.01,458.4 608.35,460 608.69,461.38 609.02,462.46 609.36,463.2 609.7,463.51 610.04,463.59 610.38,463.66 610.71,463.72 611.05,463.77 611.39,463.82 611.73,463.86 612.06,463.89 612.4,463.91 612.74,463.92 613.08,463.93 613.42,463.66 613.75,462.91 614.09,461.76 614.43,460.29 614.77,458.56 615.1,456.67 615.44,454.68 615.78,452.68 616.12,450.74 616.46,448.94 616.79,447.18 617.13,445.33 617.47,443.4 617.81,441.42 618.14,439.39 618.48,437.33 618.82,435.26 619.16,433.19 619.5,431.15 619.83,429.14 620.17,427.14 620.51,425.14 620.85,423.13 621.18,421.12 621.52,419.11 621.86,417.1 622.2,415.1 622.54,413.12 622.87,411.15 623.21,409.2 623.55,407.26 623.89,405.33 624.22,403.4 624.56,401.48 624.9,399.57 625.24,397.68 625.58,395.81 625.91,393.96 626.25,392.15 626.59,390.36 626.93,388.6 627.26,386.86 627.6,385.14 627.94,383.44 628.28,381.76 628.62,380.1 628.95,378.47 629.29,376.86 629.63,375.28 629.97,373.73 630.3,372.2 630.64,370.7 630.98,369.22 631.32,367.77 631.66,366.33 631.99,364.92 632.33,363.52 632.67,362.14 633.01,360.77 633.34,359.43 633.68,358.09 634.02,356.76 634.36,355.45 634.7,354.15 635.03,352.87 635.37,351.61 635.71,350.37 636.05,349.15 636.38,347.95 636.72,346.78 637.06,345.62 637.4,344.47 637.74,343.34 638.07,342.22 638.41,341.13 638.75,340.05 639.09,339.01 639.42,337.99 639.76,337 640.1,336.05 640.44,335.13 640.78,334.23 641.11,333.36 641.45,332.51 641.79,331.68 642.13,330.86 642.46,330.07 642.8,329.3 643.14,328.54 643.48,327.8 643.82,327.08 644.15,326.37 644.49,325.68 644.83,325.01 645.17,324.35 645.5,323.71 645.84,323.07 646.18,322.44 646.52,321.82 646.86,321.2 647.19,320.59 647.53,319.98 647.87,319.38 648.21,318.78 648.54,318.2 648.88,317.62 649.22,317.06 649.56,316.5 649.9,315.96 650.23,315.43 650.57,314.9 650.91,314.38 651.25,313.87 651.58,313.36 651.92,312.86 652.26,312.38 652.6,311.91 652.94,311.46 653.27,311.02 653.61,310.61 653.95,310.22 654.29,309.84 654.62,309.47 654.96,309.12 655.3,308.77 655.64,308.44 655.98,308.11 656.31,307.8 656.65,307.48 656.99,307.18 657.33,306.87 657.66,306.56 658,306.25 658.34,305.94 658.68,305.65 659.02,305.36 659.35,305.1 659.69,304.85 660.03,304.62 660.37,304.43 660.7,304.25 661.04,304.08 661.38,303.92 661.72,303.78 662.06,303.64 662.39,303.51 662.73,303.38 663.07,303.27 663.41,303.16 663.74,303.05 664.08,302.95 664.42,302.85 664.76,302.75 665.1,302.65 665.43,302.56 665.77,302.48 666.11,302.4 666.45,302.33 666.78,302.27 667.12,302.23 667.46,302.18 667.8,302.14 668.14,302.1 668.47,302.07 668.81,302.04 669.15,302.01 669.49,301.98 669.82,301.97 670.16,301.95 670.5,301.95"/>
<polyline fill="none" stroke="#fcdfc8" stroke-width="1.8" stroke-linejoin="round"  points="427.3,301.68 427.64,301.69 427.98,301.72 428.31,301.79 428.65,301.87 428.99,301.99 429.33,302.12 429.66,302.28 430,302.47 430.34,302.68 430.68,302.91 431.02,303.17 431.35,303.46 431.69,303.76 432.03,304.09 432.37,304.45 432.7,304.83 433.04,305.23 433.38,305.66 433.72,306.11 434.06,306.59 434.39,307.09 434.73,307.61 435.07,308.15 435.41,308.72 435.74,309.31 436.08,309.92 436.42,310.55 436.76,311.21 437.1,311.89 437.43,312.59 437.77,313.31 438.11,314.05 438.45,314.82 438.78,315.6 439.12,316.41 439.46,317.23 439.8,318.08 440.14,318.95 440.47,319.83 440.81,320.74 441.15,321.66 441.49,322.6 441.82,323.56 442.16,324.54 442.5,325.54 442.84,326.55 443.18,327.58 443.51,328.63 443.85,329.7 444.19,330.78 444.53,331.87 444.86,332.99 445.2,334.11 445.54,335.26 445.88,336.42 446.22,337.59 446.55,338.77 446.89,339.97 447.23,341.18 447.57,342.41 447.9,343.65 448.24,344.9 448.58,346.16 448.92,347.43 449.26,348.71 449.59,350.01 449.93,351.31 450.27,352.63 450.61,353.95 450.94,355.28 451.28,356.62 451.62,357.97 451.96,359.32 452.3,360.69 452.63,362.06 452.97,363.43 453.31,364.82 453.65,366.21 453.98,367.6 454.32,369 454.66,370.4 455,371.81 455.34,373.22 455.67,374.63 456.01,376.04 456.35,377.46 456.69,378.88 457.02,380.3 457.36,381.72 457.7,383.14 458.04,384.57 458.38,385.99 458.71,387.41 459.05,388.83 459.39,390.24 459.73,391.66 460.06,393.07 460.4,394.48 460.74,395.89 461.08,397.29 461.42,398.69 461.75,400.08 462.09,401.47 462.43,402.85 462.77,404.23 463.1,405.6 463.44,406.96 463.78,408.32 464.12,409.67 464.46,411.01 464.79,412.34 465.13,413.66 465.47,414.98 465.81,416.28 466.14,417.57 466.48,418.86 466.82,420.13 467.16,421.39 467.5,422.64 467.83,423.88 468.17,425.1 468.51,426.32 468.85,427.51 469.18,428.7 469.52,429.87 469.86,431.03 470.2,432.17 470.54,433.3 470.87,434.41 471.21,435.51 471.55,436.59 471.89,437.66 472.22,438.71 472.56,439.74 472.9,440.75 473.24,441.75 473.58,442.73 473.91,443.69 474.25,444.63 474.59,445.55 474.93,446.46 475.26,447.34 475.6,448.21 475.94,449.05 476.28,449.88 476.62,450.68 476.95,451.47 477.29,452.23 477.63,452.98 477.97,453.7 478.3,454.4 478.64,455.08 478.98,455.73 479.32,456.37 479.66,456.98 479.99,457.57 480.33,458.14 480.67,458.68 481.01,459.2 481.34,459.7 481.68,460.17 482.02,460.63 482.36,461.05 482.7,461.46 483.03,461.84 483.37,462.19 483.71,462.52 484.05,462.83 484.38,463.12 484.72,463.37 485.06,463.61 485.4,463.82 485.74,464.01 486.07,464.17 486.41,464.3 486.75,464.41 487.09,464.5 487.42,464.56 487.76,464.6 488.1,464.61 488.44,464.6 488.78,464.56 489.11,464.5 489.45,464.41 489.79,464.3 490.13,464.17 490.46,464.01 490.8,463.82 491.14,463.61 491.48,463.37 491.82,463.12 492.15,462.83 492.49,462.52 492.83,462.19 493.17,461.84 493.5,461.46 493.84,461.05 494.18,460.63 494.52,460.17 494.86,459.7 495.19,459.2 495.53,458.68 495.87,458.14 496.21,457.57 496.54,456.98 496.88,456.37 497.22,455.73 497.56,455.08 497.9,454.4 498.23,453.7 498.57,452.98 498.91,452.23 499.25,451.47 499.58,450.68 499.92,449.88 500.26,449.05 500.6,448.21 500.94,447.34 501.27,446.46 501.61,445.55 501.95,444.63 502.29,443.69 502.62,442.73 502.96,441.75 503.3,440.75 503.64,439.74 503.98,438.71 504.31,437.66 504.65,436.59 504.99,435.51 505.33,434.41 505.66,433.3 506,432.17 506.34,431.03 506.68,429.87 507.02,428.7 507.35,427.51 507.69,426.32 508.03,425.1 508.37,423.88 508.7,422.64 509.04,421.39 509.38,420.13 509.72,418.86 510.06,417.57 510.39,416.28 510.73,414.98 511.07,413.66 511.41,412.34 511.74,411.01 512.08,409.67 512.42,408.32 512.76,406.96 513.1,405.6 513.43,404.23 513.77,402.85 514.11,401.47 514.45,400.08 514.78,398.69 515.12,397.29 515.46,395.89 515.8,394.48 516.14,393.07 516.47,391.66 516.81,390.24 517.15,388.83 517.49,387.41 517.82,385.99 518.16,384.57 518.5,383.14 518.84,381.72 519.18,380.3 519.51,378.88 519.85,377.46 520.19,376.04 520.53,374.63 520.86,373.22 521.2,371.81 521.54,370.4 521.88,369 522.22,367.6 522.55,366.21 522.89,364.82 523.23,363.43 523.57,362.06 523.9,360.69 524.24,359.32 524.58,357.97 524.92,356.62 525.26,355.28 525.59,353.95 525.93,352.63 526.27,351.31 526.61,350.01 526.94,348.71 527.28,347.43 527.62,346.16 527.96,344.9 528.3,343.65 528.63,342.41 528.97,341.18 529.31,339.97 529.65,338.77 529.98,337.59 530.32,336.42 530.66,335.26 531,334.11 531.34,332.99 531.67,331.87 532.01,330.78 532.35,329.7 532.69,328.63 533.02,327.58 533.36,326.55 533.7,325.54 534.04,324.54 534.38,323.56 534.71,322.6 535.05,321.66 535.39,320.74 535.73,319.83 536.06,318.95 536.4,318.08 536.74,317.23 537.08,316.41 537.42,315.6 537.75,314.82 538.09,314.05 538.43,313.31 538.77,312.59 539.1,311.89 539.44,311.21 539.78,310.55 540.12,309.92 540.46,309.31 540.79,308.72 541.13,308.15 541.47,307.61 541.81,307.09 542.14,306.59 542.48,306.11 542.82,305.66 543.16,305.23 543.5,304.83 543.83,304.45 544.17,304.09 544.51,303.76 544.85,303.46 545.18,303.17 545.52,302.91 545.86,302.68 546.2,302.47 546.54,302.28 546.87,302.12 547.21,301.99 547.55,301.87 547.89,301.79 548.22,301.72 548.56,301.69 548.9,301.68 549.24,301.69 549.58,301.72 549.91,301.79 550.25,301.87 550.59,301.99 550.93,302.12 551.26,302.28 551.6,302.47 551.94,302.68 552.28,302.91 552.62,303.17 552.95,303.46 553.29,303.76 553.63,304.09 553.97,304.45 554.3,304.83 554.64,305.23 554.98,305.66 555.32,306.11 555.66,306.59 555.99,307.09 556.33,307.61 556.67,308.15 557.01,308.72 557.34,309.31 557.68,309.92 558.02,310.55 558.36,311.21 558.7,311.89 559.03,312.59 559.37,313.31 559.71,314.05 560.05,314.82 560.38,315.6 560.72,316.41 561.06,317.23 561.4,318.08 561.74,318.95 562.07,319.83 562.41,320.74 562.75,321.66 563.09,322.6 563.42,323.56 563.76,324.54 564.1,325.54 564.44,326.55 564.78,327.58 565.11,328.63 565.45,329.7 565.79,330.78 566.13,331.87 566.46,332.99 566.8,334.11 567.14,335.26 567.48,336.42 567.82,337.59 568.15,338.77 568.49,339.97 568.83,341.18 569.17,342.41 569.5,343.65 569.84,344.9 570.18,346.16 570.52,347.43 570.86,348.71 571.19,350.01 571.53,351.31 571.87,352.63 572.21,353.95 572.54,355.28 572.88,356.62 573.22,357.97 573.56,359.32 573.9,360.69 574.23,362.06 574.57,363.43 574.91,364.82 575.25,366.21 575.58,367.6 575.92,369 576.26,370.4 576.6,371.81 576.94,373.22 577.27,374.63 577.61,376.04 577.95,377.46 578.29,378.88 578.62,380.3 578.96,381.72 579.3,383.14 579.64,384.57 579.98,385.99 580.31,387.41 580.65,388.83 580.99,390.24 581.33,391.66 581.66,393.07 582,394.48 582.34,395.89 582.68,397.29 583.02,398.69 583.35,400.08 583.69,401.47 584.03,402.85 584.37,404.23 584.7,405.6 585.04,406.96 585.38,408.32 585.72,409.67 586.06,411.01 586.39,412.34 586.73,413.66 587.07,414.98 587.41,416.28 587.74,417.57 588.08,418.86 588.42,420.13 588.76,421.39 589.1,422.64 589.43,423.88 589.77,425.1 590.11,426.32 590.45,427.51 590.78,428.7 591.12,429.87 591.46,431.03 591.8,432.17 592.14,433.3 592.47,434.41 592.81,435.51 593.15,436.59 593.49,437.66 593.82,438.71 594.16,439.74 594.5,440.75 594.84,441.75 595.18,442.73 595.51,443.69 595.85,444.63 596.19,445.55 596.53,446.46 596.86,447.34 597.2,448.21 597.54,449.05 597.88,449.88 598.22,450.68 598.55,451.47 598.89,452.23 599.23,452.98 599.57,453.7 599.9,454.4 600.24,455.08 600.58,455.73 600.92,456.37 601.26,456.98 601.59,457.57 601.93,458.14 602.27,458.68 602.61,459.2 602.94,459.7 603.28,460.17 603.62,460.63 603.96,461.05 604.3,461.46 604.63,461.84 604.97,462.19 605.31,462.52 605.65,462.83 605.98,463.12 606.32,463.37 606.66,463.61 607,463.82 607.34,464.01 607.67,464.17 608.01,464.3 608.35,464.41 608.69,464.5 609.02,464.56 609.36,464.6 609.7,464.61 610.04,464.6 610.38,464.56 610.71,464.5 611.05,464.41 611.39,464.3 611.73,464.17 612.06,464.01 612.4,463.82 612.74,463.61 613.08,463.37 613.42,463.12 613.75,462.83 614.09,462.52 614.43,462.19 614.77,461.84 615.1,461.46 615.44,461.05 615.78,460.63 616.12,460.17 616.46,459.7 616.79,459.2 617.13,458.68 617.47,458.14 617.81,457.57 618.14,456.98 618.48,456.37 618.82,455.73 619.16,455.08 619.5,454.4 619.83,453.7 620.17,452.98 620.51,452.23 620.85,451.47 621.18,450.68 621.52,449.88 621.86,449.05 622.2,448.21 622.54,447.34 622.87,446.46 623.21,445.55 623.55,444.63 623.89,443.69 624.22,442.73 624.56,441.75 624.9,440.75 625.24,439.74 625.58,438.71 625.91,437.66 626.25,436.59 626.59,435.51 626.93,434.41 627.26,433.3 627.6,432.17 627.94,431.03 628.28,429.87 628.62,428.7 628.95,427.51 629.29,426.32 629.63,425.1 629.97,423.88 630.3,422.64 630.64,421.39 630.98,420.13 631.32,418.86 631.66,417.57 631.99,416.28 632.33,414.98 632.67,413.66 633.01,412.34 633.34,411.01 633.68,409.67 634.02,408.32 634.36,406.96 634.7,405.6 635.03,404.23 635.37,402.85 635.71,401.47 636.05,400.08 636.38,398.69 636.72,397.29 637.06,395.89 637.4,394.48 637.74,393.07 638.07,391.66 638.41,390.24 638.75,388.83 639.09,387.41 639.42,385.99 639.76,384.57 640.1,383.14 640.44,381.72 640.78,380.3 641.11,378.88 641.45,377.46 641.79,376.04 642.13,374.63 642.46,373.22 642.8,371.81 643.14,370.4 643.48,369 643.82,367.6 644.15,366.21 644.49,364.82 644.83,363.43 645.17,362.06 645.5,360.69 645.84,359.32 646.18,357.97 646.52,356.62 646.86,355.28 647.19,353.95 647.53,352.63 647.87,351.31 648.21,350.01 648.54,348.71 648.88,347.43 649.22,346.16 649.56,344.9 649.9,343.65 650.23,342.41 650.57,341.18 650.91,339.97 651.25,338.77 651.58,337.59 651.92,336.42 652.26,335.26 652.6,334.11 652.94,332.99 653.27,331.87 653.61,330.78 653.95,329.7 654.29,328.63 654.62,327.58 654.96,326.55 655.3,325.54 655.64,324.54 655.98,323.56 656.31,322.6 656.65,321.66 656.99,320.74 657.33,319.83 657.66,318.95 658,318.08 658.34,317.23 658.68,316.41 659.02,315.6 659.35,314.82 659.69,314.05 660.03,313.31 660.37,312.59 660.7,311.89 661.04,311.21 661.38,310.55 661.72,309.92 662.06,309.31 662.39,308.72 662.73,308.15 663.07,307.61 663.41,307.09 663.74,306.59 664.08,306.11 664.42,305.66 664.76,305.23 665.1,304.83 665.43,304.45 665.77,304.09 666.11,303.76 666.45,303.46 666.78,303.17 667.12,302.91 667.46,302.68 667.8,302.47 668.14,302.28 668.47,302.12 668.81,301.99 669.15,301.87 669.49,301.79 669.82,301.72 670.16,301.69 670.5,301.68"/>
<g fill="#f99f50" fill-opacity="0.9"><circle cx="427.3" cy="301.95" r="3.9"/><circle cx="428.79" cy="302.09" r="3.9"/><circle cx="430.27" cy="303.05" r="3.9"/><circle cx="431.83" cy="304.98" r="3.9"/><circle cx="433.31" cy="307.73" r="3.9"/><circle cx="434.8" cy="311.02" r="3.9"/><circle cx="436.35" cy="314.74" r="3.9"/><circle cx="437.77" cy="319.28" r="3.9"/><circle cx="439.32" cy="324.77" r="3.9"/><circle cx="440.68" cy="331.65" r="3.9"/><circle cx="442.5" cy="339.62" r="3.9"/><circle cx="445" cy="349.39" r="3.9"/><circle cx="447.57" cy="361.35" r="3.9"/><circle cx="450.94" cy="374.96" r="3.9"/><circle cx="456.28" cy="391.46" r="3.9"/><circle cx="459.46" cy="410.3" r="3.9"/><circle cx="465.74" cy="430.79" r="3.9"/><circle cx="477.97" cy="449.49" r="3.9"/><circle cx="496.81" cy="463.51" r="3.9"/><circle cx="507.69" cy="463.93" r="3.9"/><circle cx="514.38" cy="448.94" r="3.9"/><circle cx="518.57" cy="429.14" r="3.9"/><circle cx="522.01" cy="409.2" r="3.9"/><circle cx="525.59" cy="390.36" r="3.9"/><circle cx="528.7" cy="373.73" r="3.9"/><circle cx="530.8" cy="359.43" r="3.9"/><circle cx="532.89" cy="346.78" r="3.9"/><circle cx="534.98" cy="336.05" r="3.9"/><circle cx="536.67" cy="327.8" r="3.9"/><circle cx="538.23" cy="321.2" r="3.9"/><circle cx="539.78" cy="315.43" r="3.9"/><circle cx="541.33" cy="310.61" r="3.9"/><circle cx="542.89" cy="307.18" r="3.9"/><circle cx="544.37" cy="304.43" r="3.9"/><circle cx="545.86" cy="303.05" r="3.9"/><circle cx="547.41" cy="302.23" r="3.9"/><circle cx="548.9" cy="301.95" r="3.9"/><circle cx="550.39" cy="302.09" r="3.9"/><circle cx="551.87" cy="303.05" r="3.9"/><circle cx="553.43" cy="304.98" r="3.9"/><circle cx="554.91" cy="307.73" r="3.9"/><circle cx="556.4" cy="311.02" r="3.9"/><circle cx="557.95" cy="314.74" r="3.9"/><circle cx="559.37" cy="319.28" r="3.9"/><circle cx="560.92" cy="324.77" r="3.9"/><circle cx="562.28" cy="331.65" r="3.9"/><circle cx="564.1" cy="339.62" r="3.9"/><circle cx="566.6" cy="349.39" r="3.9"/><circle cx="569.17" cy="361.35" r="3.9"/><circle cx="572.54" cy="374.96" r="3.9"/><circle cx="577.88" cy="391.46" r="3.9"/><circle cx="581.06" cy="410.3" r="3.9"/><circle cx="587.34" cy="430.79" r="3.9"/><circle cx="599.57" cy="449.49" r="3.9"/><circle cx="618.41" cy="463.51" r="3.9"/><circle cx="629.29" cy="463.93" r="3.9"/><circle cx="635.98" cy="448.94" r="3.9"/><circle cx="640.17" cy="429.14" r="3.9"/><circle cx="643.61" cy="409.2" r="3.9"/><circle cx="647.19" cy="390.36" r="3.9"/><circle cx="650.3" cy="373.73" r="3.9"/><circle cx="652.4" cy="359.43" r="3.9"/><circle cx="654.49" cy="346.78" r="3.9"/><circle cx="656.58" cy="336.05" r="3.9"/><circle cx="658.27" cy="327.8" r="3.9"/><circle cx="659.83" cy="321.2" r="3.9"/><circle cx="661.38" cy="315.43" r="3.9"/><circle cx="662.93" cy="310.61" r="3.9"/><circle cx="664.49" cy="307.18" r="3.9"/><circle cx="665.97" cy="304.43" r="3.9"/><circle cx="667.46" cy="303.05" r="3.9"/><circle cx="669.01" cy="302.23" r="3.9"/><circle cx="670.5" cy="301.95" r="3.9"/></g>
</g>
<line x1="427.3" y1="479.3" x2="670.5" y2="479.3" stroke="#262626" stroke-width="1.3" />
<line x1="426.6" y1="286.5" x2="426.6" y2="448.6" stroke="#262626" stroke-width="1.3" />
<line x1="427.3" y1="448.6" x2="427.3" y2="479.3" stroke="#262626" stroke-width="1.3" />
<line x1="670.5" y1="286.5" x2="670.5" y2="479.3" stroke="#262626" stroke-width="1.3" />
<line x1="427.3" y1="286.5" x2="670.5" y2="286.5" stroke="#f4a261" stroke-width="1.2" />
<line x1="427.3" y1="479.3" x2="427.3" y2="475.8" stroke="#262626" stroke-width="1.2" />
<line x1="427.3" y1="286.5" x2="427.3" y2="290" stroke="#f4a261" stroke-width="1.2" />
<line x1="457.7" y1="479.3" x2="457.7" y2="477.1" stroke="#262626" stroke-width="1.2" />
<line x1="457.7" y1="286.5" x2="457.7" y2="288.7" stroke="#f4a261" stroke-width="1.2" />
<line x1="488.1" y1="479.3" x2="488.1" y2="475.8" stroke="#262626" stroke-width="1.2" />
<line x1="488.1" y1="286.5" x2="488.1" y2="290" stroke="#f4a261" stroke-width="1.2" />
<line x1="518.5" y1="479.3" x2="518.5" y2="477.1" stroke="#262626" stroke-width="1.2" />
<line x1="518.5" y1="286.5" x2="518.5" y2="288.7" stroke="#f4a261" stroke-width="1.2" />
<line x1="548.9" y1="479.3" x2="548.9" y2="475.8" stroke="#262626" stroke-width="1.2" />
<line x1="548.9" y1="286.5" x2="548.9" y2="290" stroke="#f4a261" stroke-width="1.2" />
<line x1="579.3" y1="479.3" x2="579.3" y2="477.1" stroke="#262626" stroke-width="1.2" />
<line x1="579.3" y1="286.5" x2="579.3" y2="288.7" stroke="#f4a261" stroke-width="1.2" />
<line x1="609.7" y1="479.3" x2="609.7" y2="475.8" stroke="#262626" stroke-width="1.2" />
<line x1="609.7" y1="286.5" x2="609.7" y2="290" stroke="#f4a261" stroke-width="1.2" />
<line x1="640.1" y1="479.3" x2="640.1" y2="477.1" stroke="#262626" stroke-width="1.2" />
<line x1="640.1" y1="286.5" x2="640.1" y2="288.7" stroke="#f4a261" stroke-width="1.2" />
<line x1="670.5" y1="479.3" x2="670.5" y2="475.8" stroke="#262626" stroke-width="1.2" />
<line x1="670.5" y1="286.5" x2="670.5" y2="290" stroke="#f4a261" stroke-width="1.2" />
<line x1="427.3" y1="465.3" x2="430.8" y2="465.3" stroke="#262626" stroke-width="1.2" />
<line x1="427.3" y1="437.8" x2="429.5" y2="437.8" stroke="#262626" stroke-width="1.2" />
<line x1="427.3" y1="410.3" x2="430.8" y2="410.3" stroke="#262626" stroke-width="1.2" />
<line x1="427.3" y1="382.8" x2="429.5" y2="382.8" stroke="#262626" stroke-width="1.2" />
<line x1="427.3" y1="355.3" x2="430.8" y2="355.3" stroke="#262626" stroke-width="1.2" />
<line x1="427.3" y1="327.8" x2="429.5" y2="327.8" stroke="#262626" stroke-width="1.2" />
<line x1="427.3" y1="300.3" x2="430.8" y2="300.3" stroke="#262626" stroke-width="1.2" />
<text transform="translate(422.4,471.4) scale(1.07,1)" font-size="17" text-anchor="end" stroke="#000" stroke-width="0.3" >4</text>
<text transform="translate(422.4,416.4) scale(1.07,1)" font-size="17" text-anchor="end" stroke="#000" stroke-width="0.3" >8</text>
<text transform="translate(422.4,361.4) scale(1.07,1)" font-size="17" text-anchor="end" stroke="#000" stroke-width="0.3" >12</text>
<text transform="translate(422.4,306.4) scale(1.07,1)" font-size="17" text-anchor="end" stroke="#000" stroke-width="0.3" >16</text>
<text transform="translate(427.6,496.6) scale(1.07,1)" font-size="17" text-anchor="middle" stroke="#000" stroke-width="0.3" >0</text>
<text transform="translate(427.6,282.7) scale(1.07,1)" font-size="17" text-anchor="middle" stroke="#f4a261" stroke-width="0.3" fill="#f4a261">0</text>
<text transform="translate(488.4,496.6) scale(1.07,1)" font-size="17" text-anchor="middle" stroke="#000" stroke-width="0.3" >90</text>
<text transform="translate(488.4,282.7) scale(1.07,1)" font-size="17" text-anchor="middle" stroke="#f4a261" stroke-width="0.3" fill="#f4a261">90</text>
<text transform="translate(549.2,496.6) scale(1.07,1)" font-size="17" text-anchor="middle" stroke="#000" stroke-width="0.3" >180</text>
<text transform="translate(549.2,282.7) scale(1.07,1)" font-size="17" text-anchor="middle" stroke="#f4a261" stroke-width="0.3" fill="#f4a261">180</text>
<text transform="translate(610,496.6) scale(1.07,1)" font-size="17" text-anchor="middle" stroke="#000" stroke-width="0.3" >270</text>
<text transform="translate(610,282.7) scale(1.07,1)" font-size="17" text-anchor="middle" stroke="#f4a261" stroke-width="0.3" fill="#f4a261">270</text>
<text transform="translate(670.8,496.6) scale(1.07,1)" font-size="17" text-anchor="middle" stroke="#000" stroke-width="0.3" >360</text>
<text transform="translate(670.8,282.7) scale(1.07,1)" font-size="17" text-anchor="middle" stroke="#f4a261" stroke-width="0.3" fill="#f4a261">360</text>
<text transform="translate(552,518.6) scale(1.03,1)" font-size="18" text-anchor="middle" stroke="#000" stroke-width="0.3" ><tspan font-style="italic">&#946;</tspan> (&#176;)</text>
<text transform="translate(544.8,258.4) scale(1.02,1)" font-size="18" text-anchor="middle" stroke="#f4a261" stroke-width="0.3" fill="#f4a261"><tspan font-style="italic">&#946;</tspan><tspan font-style="italic" font-size="12.5" dy="4">m</tspan><tspan dy="-4"> (&#176;)</tspan></text>
<text transform="translate(396,385) rotate(-90) scale(1.08,1)" font-size="17" text-anchor="middle" stroke="#000" stroke-width="0.3" ><tspan font-style="italic">R</tspan><tspan font-style="italic" font-size="12" dy="5">xx</tspan><tspan dy="-5"> (&#937;)</tspan></text>
<text transform="translate(382,302) scale(1.0,1)" font-size="22" font-weight="bold">d</text>
</g>
</svg>
</body></html>
